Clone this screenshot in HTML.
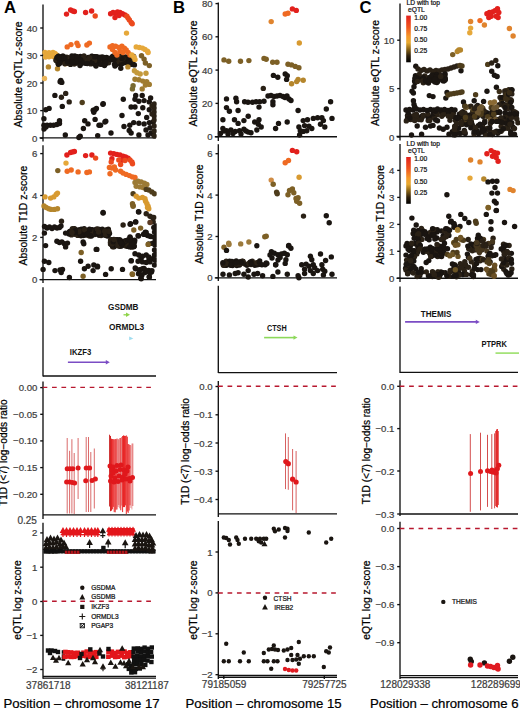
<!DOCTYPE html>
<html><head><meta charset="utf-8"><style>
html,body{margin:0;padding:0;background:#fff;}
svg{display:block;font-family:"Liberation Sans", sans-serif;}
</style></head><body>
<svg width="520" height="709" viewBox="0 0 520 709">
<rect width="520" height="709" fill="#fff"/>
<text x="4" y="12.7" font-size="16.7" fill="#000" text-anchor="start" font-weight="bold" >A</text>
<text x="172.9" y="12.7" font-size="16.7" fill="#000" text-anchor="start" font-weight="bold" >B</text>
<text x="359.6" y="12.7" font-size="16.7" fill="#000" text-anchor="start" font-weight="bold" >C</text>
<line x1="43" y1="4.5" x2="43" y2="141.5" stroke="#111" stroke-width="1.35" />
<line x1="40.2" y1="138.2" x2="43" y2="138.2" stroke="#111" stroke-width="1.35" />
<text x="37.4" y="141.7" font-size="9.6" fill="#3d3d3d" text-anchor="end" font-weight="normal" stroke="#3d3d3d" stroke-width="0.22" >0</text>
<line x1="40.2" y1="110.6" x2="43" y2="110.6" stroke="#111" stroke-width="1.35" />
<text x="37.4" y="114.1" font-size="9.6" fill="#3d3d3d" text-anchor="end" font-weight="normal" stroke="#3d3d3d" stroke-width="0.22" >10</text>
<line x1="40.2" y1="83.0" x2="43" y2="83.0" stroke="#111" stroke-width="1.35" />
<text x="37.4" y="86.5" font-size="9.6" fill="#3d3d3d" text-anchor="end" font-weight="normal" stroke="#3d3d3d" stroke-width="0.22" >20</text>
<line x1="40.2" y1="55.5" x2="43" y2="55.5" stroke="#111" stroke-width="1.35" />
<text x="37.4" y="59.0" font-size="9.6" fill="#3d3d3d" text-anchor="end" font-weight="normal" stroke="#3d3d3d" stroke-width="0.22" >30</text>
<line x1="40.2" y1="28.0" x2="43" y2="28.0" stroke="#111" stroke-width="1.35" />
<text x="37.4" y="31.5" font-size="9.6" fill="#3d3d3d" text-anchor="end" font-weight="normal" stroke="#3d3d3d" stroke-width="0.22" >40</text>
<line x1="39.5" y1="137.8" x2="156" y2="137.8" stroke="#111" stroke-width="1.35" />
<text x="21.5" y="74.5" font-size="10.4" fill="#000" text-anchor="middle" font-weight="normal" stroke="#000" stroke-width="0.22" transform="rotate(-90 21.5 74.5)" >Absolute eQTL z-score</text>
<line x1="43" y1="145.3" x2="43" y2="283" stroke="#111" stroke-width="1.35" />
<line x1="40.2" y1="279.6" x2="43" y2="279.6" stroke="#111" stroke-width="1.35" />
<text x="37.4" y="283.1" font-size="9.6" fill="#3d3d3d" text-anchor="end" font-weight="normal" stroke="#3d3d3d" stroke-width="0.22" >0</text>
<line x1="40.2" y1="237.4" x2="43" y2="237.4" stroke="#111" stroke-width="1.35" />
<text x="37.4" y="240.9" font-size="9.6" fill="#3d3d3d" text-anchor="end" font-weight="normal" stroke="#3d3d3d" stroke-width="0.22" >2</text>
<line x1="40.2" y1="195.5" x2="43" y2="195.5" stroke="#111" stroke-width="1.35" />
<text x="37.4" y="199.0" font-size="9.6" fill="#3d3d3d" text-anchor="end" font-weight="normal" stroke="#3d3d3d" stroke-width="0.22" >4</text>
<line x1="40.2" y1="153.6" x2="43" y2="153.6" stroke="#111" stroke-width="1.35" />
<text x="37.4" y="157.1" font-size="9.6" fill="#3d3d3d" text-anchor="end" font-weight="normal" stroke="#3d3d3d" stroke-width="0.22" >6</text>
<line x1="39.5" y1="279.6" x2="156" y2="279.6" stroke="#111" stroke-width="1.35" />
<text x="27.2" y="215.6" font-size="10.4" fill="#000" text-anchor="middle" font-weight="normal" stroke="#000" stroke-width="0.22" transform="rotate(-90 27.2 215.6)" >Absolute T1D z-score</text>
<line x1="43" y1="287.3" x2="43" y2="376.5" stroke="#111" stroke-width="1.35" />
<line x1="43" y1="376" x2="156" y2="376" stroke="#111" stroke-width="1.35" />
<line x1="43" y1="381.4" x2="43" y2="519" stroke="#111" stroke-width="1.35" />
<line x1="40.2" y1="387.6" x2="43" y2="387.6" stroke="#111" stroke-width="1.35" />
<text x="37.4" y="391.1" font-size="9.6" fill="#3d3d3d" text-anchor="end" font-weight="normal" stroke="#3d3d3d" stroke-width="0.22" >0.00</text>
<line x1="40.2" y1="414.3" x2="43" y2="414.3" stroke="#111" stroke-width="1.35" />
<text x="37.4" y="417.8" font-size="9.6" fill="#3d3d3d" text-anchor="end" font-weight="normal" stroke="#3d3d3d" stroke-width="0.22" >&#8722;0.05</text>
<line x1="40.2" y1="440.9" x2="43" y2="440.9" stroke="#111" stroke-width="1.35" />
<text x="37.4" y="444.4" font-size="9.6" fill="#3d3d3d" text-anchor="end" font-weight="normal" stroke="#3d3d3d" stroke-width="0.22" >&#8722;0.10</text>
<line x1="40.2" y1="467.6" x2="43" y2="467.6" stroke="#111" stroke-width="1.35" />
<text x="37.4" y="471.1" font-size="9.6" fill="#3d3d3d" text-anchor="end" font-weight="normal" stroke="#3d3d3d" stroke-width="0.22" >&#8722;0.15</text>
<line x1="40.2" y1="494.3" x2="43" y2="494.3" stroke="#111" stroke-width="1.35" />
<text x="37.4" y="497.8" font-size="9.6" fill="#3d3d3d" text-anchor="end" font-weight="normal" stroke="#3d3d3d" stroke-width="0.22" >&#8722;0.20</text>
<text x="36.9" y="523.9" font-size="10" fill="#3d3d3d" text-anchor="end" font-weight="normal" stroke="#3d3d3d" stroke-width="0.22" >0.25</text>
<line x1="43" y1="514.8" x2="156" y2="514.8" stroke="#111" stroke-width="1.35" />
<text x="6.9" y="452.7" font-size="10.1" fill="#000" text-anchor="middle" font-weight="normal" stroke="#000" stroke-width="0.22" transform="rotate(-90 6.9 452.7)" >T1D (&lt;7) log&#8722;odds ratio</text>
<line x1="43" y1="522.8" x2="43" y2="678.8" stroke="#111" stroke-width="1.35" />
<line x1="40.2" y1="532.9" x2="43" y2="532.9" stroke="#111" stroke-width="1.35" />
<text x="37.4" y="536.4" font-size="9.6" fill="#3d3d3d" text-anchor="end" font-weight="normal" stroke="#3d3d3d" stroke-width="0.22" >2</text>
<line x1="40.2" y1="567.2" x2="43" y2="567.2" stroke="#111" stroke-width="1.35" />
<text x="37.4" y="570.7" font-size="9.6" fill="#3d3d3d" text-anchor="end" font-weight="normal" stroke="#3d3d3d" stroke-width="0.22" >1</text>
<line x1="40.2" y1="601.5" x2="43" y2="601.5" stroke="#111" stroke-width="1.35" />
<text x="37.4" y="605.0" font-size="9.6" fill="#3d3d3d" text-anchor="end" font-weight="normal" stroke="#3d3d3d" stroke-width="0.22" >0</text>
<line x1="40.2" y1="635.4" x2="43" y2="635.4" stroke="#111" stroke-width="1.35" />
<text x="37.4" y="638.9" font-size="9.6" fill="#3d3d3d" text-anchor="end" font-weight="normal" stroke="#3d3d3d" stroke-width="0.22" >&#8722;1</text>
<line x1="40.2" y1="669.5" x2="43" y2="669.5" stroke="#111" stroke-width="1.35" />
<text x="37.4" y="673.0" font-size="9.6" fill="#3d3d3d" text-anchor="end" font-weight="normal" stroke="#3d3d3d" stroke-width="0.22" >&#8722;2</text>
<line x1="43" y1="676.4" x2="156" y2="676.4" stroke="#111" stroke-width="1.35" />
<line x1="43" y1="678.1" x2="156" y2="678.1" stroke="#111" stroke-width="1.35" />
<text x="21.3" y="600" font-size="10.4" fill="#000" text-anchor="middle" font-weight="normal" stroke="#000" stroke-width="0.22" transform="rotate(-90 21.3 600)" >eQTL log z-score</text>
<text x="48.3" y="689.2" font-size="10" fill="#3d3d3d" text-anchor="middle" font-weight="normal" stroke="#3d3d3d" stroke-width="0.22" >37861718</text>
<text x="146.9" y="689.2" font-size="10" fill="#3d3d3d" text-anchor="middle" font-weight="normal" stroke="#3d3d3d" stroke-width="0.22" >38121187</text>
<text x="81.5" y="708" font-size="13.2" fill="#000" text-anchor="middle" font-weight="normal" stroke="#000" stroke-width="0.22" >Position &#8211; chromosome 17</text>
<line x1="218.3" y1="2.5" x2="218.3" y2="141" stroke="#111" stroke-width="1.35" />
<line x1="215.5" y1="136.7" x2="218.3" y2="136.7" stroke="#111" stroke-width="1.35" />
<text x="212.70000000000002" y="140.2" font-size="9.6" fill="#3d3d3d" text-anchor="end" font-weight="normal" stroke="#3d3d3d" stroke-width="0.22" >0</text>
<line x1="215.5" y1="103.4" x2="218.3" y2="103.4" stroke="#111" stroke-width="1.35" />
<text x="212.70000000000002" y="106.9" font-size="9.6" fill="#3d3d3d" text-anchor="end" font-weight="normal" stroke="#3d3d3d" stroke-width="0.22" >20</text>
<line x1="215.5" y1="70.1" x2="218.3" y2="70.1" stroke="#111" stroke-width="1.35" />
<text x="212.70000000000002" y="73.6" font-size="9.6" fill="#3d3d3d" text-anchor="end" font-weight="normal" stroke="#3d3d3d" stroke-width="0.22" >40</text>
<line x1="215.5" y1="36.8" x2="218.3" y2="36.8" stroke="#111" stroke-width="1.35" />
<text x="212.70000000000002" y="40.3" font-size="9.6" fill="#3d3d3d" text-anchor="end" font-weight="normal" stroke="#3d3d3d" stroke-width="0.22" >60</text>
<line x1="215.5" y1="3.6" x2="218.3" y2="3.6" stroke="#111" stroke-width="1.35" />
<text x="212.70000000000002" y="7.1" font-size="9.6" fill="#3d3d3d" text-anchor="end" font-weight="normal" stroke="#3d3d3d" stroke-width="0.22" >80</text>
<line x1="214.8" y1="136.7" x2="337" y2="136.7" stroke="#111" stroke-width="1.35" />
<text x="197" y="73.5" font-size="10.4" fill="#000" text-anchor="middle" font-weight="normal" stroke="#000" stroke-width="0.22" transform="rotate(-90 197 73.5)" >Absolute eQTL z-score</text>
<line x1="218.3" y1="144.3" x2="218.3" y2="281" stroke="#111" stroke-width="1.35" />
<line x1="215.5" y1="277.8" x2="218.3" y2="277.8" stroke="#111" stroke-width="1.35" />
<text x="212.70000000000002" y="281.3" font-size="9.6" fill="#3d3d3d" text-anchor="end" font-weight="normal" stroke="#3d3d3d" stroke-width="0.22" >0</text>
<line x1="215.5" y1="236.5" x2="218.3" y2="236.5" stroke="#111" stroke-width="1.35" />
<text x="212.70000000000002" y="240.0" font-size="9.6" fill="#3d3d3d" text-anchor="end" font-weight="normal" stroke="#3d3d3d" stroke-width="0.22" >2</text>
<line x1="215.5" y1="195.1" x2="218.3" y2="195.1" stroke="#111" stroke-width="1.35" />
<text x="212.70000000000002" y="198.6" font-size="9.6" fill="#3d3d3d" text-anchor="end" font-weight="normal" stroke="#3d3d3d" stroke-width="0.22" >4</text>
<line x1="215.5" y1="153.7" x2="218.3" y2="153.7" stroke="#111" stroke-width="1.35" />
<text x="212.70000000000002" y="157.2" font-size="9.6" fill="#3d3d3d" text-anchor="end" font-weight="normal" stroke="#3d3d3d" stroke-width="0.22" >6</text>
<line x1="214.8" y1="277.8" x2="337" y2="277.8" stroke="#111" stroke-width="1.35" />
<text x="202.8" y="214.2" font-size="10.4" fill="#000" text-anchor="middle" font-weight="normal" stroke="#000" stroke-width="0.22" transform="rotate(-90 202.8 214.2)" >Absolute T1D z-score</text>
<line x1="218.3" y1="285.8" x2="218.3" y2="373" stroke="#111" stroke-width="1.35" />
<line x1="218.3" y1="372.6" x2="337" y2="372.6" stroke="#111" stroke-width="1.35" />
<line x1="218.3" y1="381" x2="218.3" y2="517" stroke="#111" stroke-width="1.35" />
<line x1="215.5" y1="386.5" x2="218.3" y2="386.5" stroke="#111" stroke-width="1.35" />
<text x="212.70000000000002" y="390.0" font-size="9.6" fill="#3d3d3d" text-anchor="end" font-weight="normal" stroke="#3d3d3d" stroke-width="0.22" >0.0</text>
<line x1="215.5" y1="414.8" x2="218.3" y2="414.8" stroke="#111" stroke-width="1.35" />
<text x="212.70000000000002" y="418.3" font-size="9.6" fill="#3d3d3d" text-anchor="end" font-weight="normal" stroke="#3d3d3d" stroke-width="0.22" >&#8722;0.1</text>
<line x1="215.5" y1="443.0" x2="218.3" y2="443.0" stroke="#111" stroke-width="1.35" />
<text x="212.70000000000002" y="446.5" font-size="9.6" fill="#3d3d3d" text-anchor="end" font-weight="normal" stroke="#3d3d3d" stroke-width="0.22" >&#8722;0.2</text>
<line x1="215.5" y1="471.2" x2="218.3" y2="471.2" stroke="#111" stroke-width="1.35" />
<text x="212.70000000000002" y="474.7" font-size="9.6" fill="#3d3d3d" text-anchor="end" font-weight="normal" stroke="#3d3d3d" stroke-width="0.22" >&#8722;0.3</text>
<line x1="215.5" y1="499.5" x2="218.3" y2="499.5" stroke="#111" stroke-width="1.35" />
<text x="212.70000000000002" y="503.0" font-size="9.6" fill="#3d3d3d" text-anchor="end" font-weight="normal" stroke="#3d3d3d" stroke-width="0.22" >&#8722;0.4</text>
<line x1="218.3" y1="513.8" x2="337" y2="513.8" stroke="#111" stroke-width="1.35" />
<text x="188.8" y="451.5" font-size="10.1" fill="#000" text-anchor="middle" font-weight="normal" stroke="#000" stroke-width="0.22" transform="rotate(-90 188.8 451.5)" >T1D (&lt;7) log&#8722;odds ratio</text>
<line x1="218.3" y1="521" x2="218.3" y2="679" stroke="#111" stroke-width="1.35" />
<line x1="215.5" y1="552.0" x2="218.3" y2="552.0" stroke="#111" stroke-width="1.35" />
<text x="212.70000000000002" y="555.5" font-size="9.6" fill="#3d3d3d" text-anchor="end" font-weight="normal" stroke="#3d3d3d" stroke-width="0.22" >1</text>
<line x1="215.5" y1="592.9" x2="218.3" y2="592.9" stroke="#111" stroke-width="1.35" />
<text x="212.70000000000002" y="596.4" font-size="9.6" fill="#3d3d3d" text-anchor="end" font-weight="normal" stroke="#3d3d3d" stroke-width="0.22" >0</text>
<line x1="215.5" y1="633.8" x2="218.3" y2="633.8" stroke="#111" stroke-width="1.35" />
<text x="212.70000000000002" y="637.3" font-size="9.6" fill="#3d3d3d" text-anchor="end" font-weight="normal" stroke="#3d3d3d" stroke-width="0.22" >&#8722;1</text>
<line x1="215.5" y1="674.7" x2="218.3" y2="674.7" stroke="#111" stroke-width="1.35" />
<text x="212.70000000000002" y="678.2" font-size="9.6" fill="#3d3d3d" text-anchor="end" font-weight="normal" stroke="#3d3d3d" stroke-width="0.22" >&#8722;2</text>
<line x1="218.3" y1="675.4" x2="337" y2="675.4" stroke="#111" stroke-width="1.35" />
<line x1="218.3" y1="677.2" x2="337" y2="677.2" stroke="#111" stroke-width="1.35" />
<line x1="223.8" y1="675.8" x2="223.8" y2="679" stroke="#111" stroke-width="1.35" />
<line x1="324.3" y1="675.8" x2="324.3" y2="679" stroke="#111" stroke-width="1.35" />
<text x="197" y="600" font-size="10.4" fill="#000" text-anchor="middle" font-weight="normal" stroke="#000" stroke-width="0.22" transform="rotate(-90 197 600)" >eQTL log z-score</text>
<text x="224.1" y="687.6" font-size="10" fill="#3d3d3d" text-anchor="middle" font-weight="normal" stroke="#3d3d3d" stroke-width="0.22" >79185059</text>
<text x="324.4" y="687.6" font-size="10" fill="#3d3d3d" text-anchor="middle" font-weight="normal" stroke="#3d3d3d" stroke-width="0.22" >79257725</text>
<text x="263.5" y="708" font-size="13.2" fill="#000" text-anchor="middle" font-weight="normal" stroke="#000" stroke-width="0.22" >Position &#8211; chromosome 15</text>
<line x1="400" y1="3.5" x2="400" y2="140.5" stroke="#111" stroke-width="1.35" />
<line x1="397.2" y1="137.0" x2="400" y2="137.0" stroke="#111" stroke-width="1.35" />
<text x="394.4" y="140.5" font-size="9.6" fill="#3d3d3d" text-anchor="end" font-weight="normal" stroke="#3d3d3d" stroke-width="0.22" >0</text>
<line x1="397.2" y1="88.6" x2="400" y2="88.6" stroke="#111" stroke-width="1.35" />
<text x="394.4" y="92.1" font-size="9.6" fill="#3d3d3d" text-anchor="end" font-weight="normal" stroke="#3d3d3d" stroke-width="0.22" >5</text>
<line x1="397.2" y1="40.2" x2="400" y2="40.2" stroke="#111" stroke-width="1.35" />
<text x="394.4" y="43.7" font-size="9.6" fill="#3d3d3d" text-anchor="end" font-weight="normal" stroke="#3d3d3d" stroke-width="0.22" >10</text>
<line x1="396.5" y1="136.5" x2="518" y2="136.5" stroke="#111" stroke-width="1.35" />
<text x="378.8" y="73" font-size="10.4" fill="#000" text-anchor="middle" font-weight="normal" stroke="#000" stroke-width="0.22" transform="rotate(-90 378.8 73)" >Absolute eQTL z-score</text>
<line x1="400" y1="144" x2="400" y2="282" stroke="#111" stroke-width="1.35" />
<line x1="397.2" y1="278.2" x2="400" y2="278.2" stroke="#111" stroke-width="1.35" />
<text x="394.4" y="281.7" font-size="9.6" fill="#3d3d3d" text-anchor="end" font-weight="normal" stroke="#3d3d3d" stroke-width="0.22" >0</text>
<line x1="397.2" y1="251.3" x2="400" y2="251.3" stroke="#111" stroke-width="1.35" />
<text x="394.4" y="254.8" font-size="9.6" fill="#3d3d3d" text-anchor="end" font-weight="normal" stroke="#3d3d3d" stroke-width="0.22" >1</text>
<line x1="397.2" y1="224.4" x2="400" y2="224.4" stroke="#111" stroke-width="1.35" />
<text x="394.4" y="227.9" font-size="9.6" fill="#3d3d3d" text-anchor="end" font-weight="normal" stroke="#3d3d3d" stroke-width="0.22" >2</text>
<line x1="397.2" y1="197.4" x2="400" y2="197.4" stroke="#111" stroke-width="1.35" />
<text x="394.4" y="200.9" font-size="9.6" fill="#3d3d3d" text-anchor="end" font-weight="normal" stroke="#3d3d3d" stroke-width="0.22" >3</text>
<line x1="397.2" y1="170.4" x2="400" y2="170.4" stroke="#111" stroke-width="1.35" />
<text x="394.4" y="173.9" font-size="9.6" fill="#3d3d3d" text-anchor="end" font-weight="normal" stroke="#3d3d3d" stroke-width="0.22" >4</text>
<line x1="396.5" y1="278.2" x2="518" y2="278.2" stroke="#111" stroke-width="1.35" />
<text x="384.1" y="214.7" font-size="10.4" fill="#000" text-anchor="middle" font-weight="normal" stroke="#000" stroke-width="0.22" transform="rotate(-90 384.1 214.7)" >Absolute T1D z-score</text>
<line x1="400" y1="286.5" x2="400" y2="373" stroke="#111" stroke-width="1.35" />
<line x1="400" y1="372.3" x2="518" y2="372.3" stroke="#111" stroke-width="1.35" />
<line x1="400" y1="380.2" x2="400" y2="516" stroke="#111" stroke-width="1.35" />
<line x1="397.2" y1="386.3" x2="400" y2="386.3" stroke="#111" stroke-width="1.35" />
<text x="394.4" y="389.8" font-size="9.6" fill="#3d3d3d" text-anchor="end" font-weight="normal" stroke="#3d3d3d" stroke-width="0.22" >0.0</text>
<line x1="397.2" y1="428.6" x2="400" y2="428.6" stroke="#111" stroke-width="1.35" />
<text x="394.4" y="432.1" font-size="9.6" fill="#3d3d3d" text-anchor="end" font-weight="normal" stroke="#3d3d3d" stroke-width="0.22" >&#8722;0.1</text>
<line x1="397.2" y1="471.0" x2="400" y2="471.0" stroke="#111" stroke-width="1.35" />
<text x="394.4" y="474.5" font-size="9.6" fill="#3d3d3d" text-anchor="end" font-weight="normal" stroke="#3d3d3d" stroke-width="0.22" >&#8722;0.2</text>
<line x1="397.2" y1="514.0" x2="400" y2="514.0" stroke="#111" stroke-width="1.35" />
<text x="394.4" y="517.5" font-size="9.6" fill="#3d3d3d" text-anchor="end" font-weight="normal" stroke="#3d3d3d" stroke-width="0.22" >&#8722;0.3</text>
<line x1="400" y1="514.0" x2="518" y2="514.0" stroke="#111" stroke-width="1.35" />
<text x="369.6" y="450.9" font-size="10.1" fill="#000" text-anchor="middle" font-weight="normal" stroke="#000" stroke-width="0.22" transform="rotate(-90 369.6 450.9)" >T1D (&lt;7) log&#8722;odds ratio</text>
<line x1="400" y1="521.8" x2="400" y2="679" stroke="#111" stroke-width="1.35" />
<line x1="397.2" y1="528.5" x2="400" y2="528.5" stroke="#111" stroke-width="1.35" />
<text x="394.4" y="532.0" font-size="9.6" fill="#3d3d3d" text-anchor="end" font-weight="normal" stroke="#3d3d3d" stroke-width="0.22" >0.0</text>
<line x1="397.2" y1="566.6" x2="400" y2="566.6" stroke="#111" stroke-width="1.35" />
<text x="394.4" y="570.1" font-size="9.6" fill="#3d3d3d" text-anchor="end" font-weight="normal" stroke="#3d3d3d" stroke-width="0.22" >&#8722;0.3</text>
<line x1="397.2" y1="604.6" x2="400" y2="604.6" stroke="#111" stroke-width="1.35" />
<text x="394.4" y="608.1" font-size="9.6" fill="#3d3d3d" text-anchor="end" font-weight="normal" stroke="#3d3d3d" stroke-width="0.22" >&#8722;0.6</text>
<line x1="397.2" y1="642.7" x2="400" y2="642.7" stroke="#111" stroke-width="1.35" />
<text x="394.4" y="646.2" font-size="9.6" fill="#3d3d3d" text-anchor="end" font-weight="normal" stroke="#3d3d3d" stroke-width="0.22" >&#8722;0.9</text>
<line x1="400" y1="675.6" x2="518" y2="675.6" stroke="#111" stroke-width="1.35" />
<line x1="400" y1="677.6" x2="518" y2="677.6" stroke="#111" stroke-width="1.35" />
<text x="369.6" y="600" font-size="10.4" fill="#000" text-anchor="middle" font-weight="normal" stroke="#000" stroke-width="0.22" transform="rotate(-90 369.6 600)" >eQTL log z-score</text>
<text x="405.3" y="688" font-size="10" fill="#3d3d3d" text-anchor="middle" font-weight="normal" stroke="#3d3d3d" stroke-width="0.22" >128029338</text>
<text x="495.9" y="688" font-size="10" fill="#3d3d3d" text-anchor="middle" font-weight="normal" stroke="#3d3d3d" stroke-width="0.22" >128289699</text>
<text x="444.3" y="708" font-size="13.2" fill="#000" text-anchor="middle" font-weight="normal" stroke="#000" stroke-width="0.22" >Position &#8211; chromosome 6</text>
<circle cx="45.0" cy="52.5" r="2.7" fill="#e6a83a"/>
<circle cx="47.0" cy="54.5" r="2.7" fill="#e6a83a"/>
<circle cx="49.0" cy="52.8" r="2.7" fill="#e6a83a"/>
<circle cx="51.0" cy="54.0" r="2.7" fill="#e6a83a"/>
<circle cx="53.0" cy="52.5" r="2.7" fill="#e6a83a"/>
<circle cx="55.0" cy="53.5" r="2.7" fill="#e6a83a"/>
<circle cx="56.5" cy="55.0" r="2.7" fill="#e6a83a"/>
<circle cx="45.5" cy="57.0" r="2.7" fill="#e6a83a"/>
<circle cx="49.0" cy="56.8" r="2.7" fill="#e6a83a"/>
<circle cx="53.0" cy="56.5" r="2.7" fill="#e6a83a"/>
<circle cx="47.0" cy="55.8" r="2.7" fill="#e6a83a"/>
<circle cx="48.4" cy="66.9" r="2.7" fill="#b5862c"/>
<circle cx="57.5" cy="68.8" r="2.7" fill="#b5862c"/>
<circle cx="44.5" cy="78.5" r="2.7" fill="#e9b45a"/>
<circle cx="65.6" cy="63.8" r="2.7" fill="#e9b45a"/>
<circle cx="66.5" cy="63.2" r="2.7" fill="#1a1511"/>
<circle cx="75.9" cy="60.2" r="2.7" fill="#2a2116"/>
<circle cx="92.8" cy="59.2" r="2.7" fill="#1a1511"/>
<circle cx="63.3" cy="56.2" r="2.7" fill="#2a2116"/>
<circle cx="89.8" cy="62.5" r="2.7" fill="#1a1511"/>
<circle cx="110.3" cy="58.3" r="2.7" fill="#1a1511"/>
<circle cx="102.1" cy="56.9" r="2.7" fill="#1a1511"/>
<circle cx="58.4" cy="56.2" r="2.7" fill="#1a1511"/>
<circle cx="129.3" cy="59.2" r="2.7" fill="#1a1511"/>
<circle cx="131.6" cy="62.2" r="2.7" fill="#1a1511"/>
<circle cx="115.6" cy="64.0" r="2.7" fill="#1a1511"/>
<circle cx="83.0" cy="61.8" r="2.7" fill="#2a2116"/>
<circle cx="130.3" cy="63.9" r="2.7" fill="#2a2116"/>
<circle cx="121.3" cy="60.7" r="2.7" fill="#1a1511"/>
<circle cx="70.5" cy="64.4" r="2.7" fill="#1a1511"/>
<circle cx="65.4" cy="58.8" r="2.7" fill="#2a2116"/>
<circle cx="95.6" cy="63.7" r="2.7" fill="#1a1511"/>
<circle cx="79.7" cy="61.0" r="2.7" fill="#2a2116"/>
<circle cx="122.0" cy="60.3" r="2.7" fill="#1a1511"/>
<circle cx="93.5" cy="62.3" r="2.7" fill="#2a2116"/>
<circle cx="88.3" cy="57.5" r="2.7" fill="#1a1511"/>
<circle cx="62.7" cy="61.6" r="2.7" fill="#1a1511"/>
<circle cx="116.7" cy="60.4" r="2.7" fill="#2a2116"/>
<circle cx="84.9" cy="62.2" r="2.7" fill="#2a2116"/>
<circle cx="59.4" cy="62.0" r="2.7" fill="#2a2116"/>
<circle cx="106.5" cy="57.4" r="2.7" fill="#1a1511"/>
<circle cx="132.6" cy="62.5" r="2.7" fill="#1a1511"/>
<circle cx="87.5" cy="58.9" r="2.7" fill="#1a1511"/>
<circle cx="91.8" cy="58.3" r="2.7" fill="#1a1511"/>
<circle cx="85.9" cy="63.3" r="2.7" fill="#1a1511"/>
<circle cx="96.5" cy="60.8" r="2.7" fill="#2a2116"/>
<circle cx="130.1" cy="60.1" r="2.7" fill="#1a1511"/>
<circle cx="100.5" cy="57.7" r="2.7" fill="#2a2116"/>
<circle cx="93.8" cy="59.0" r="2.7" fill="#1a1511"/>
<circle cx="56.1" cy="60.6" r="2.7" fill="#1a1511"/>
<circle cx="91.7" cy="56.2" r="2.7" fill="#1a1511"/>
<circle cx="105.6" cy="60.7" r="2.7" fill="#1a1511"/>
<circle cx="123.2" cy="62.8" r="2.7" fill="#1a1511"/>
<circle cx="58.5" cy="64.0" r="2.7" fill="#1a1511"/>
<circle cx="62.5" cy="56.1" r="2.7" fill="#1a1511"/>
<circle cx="114.8" cy="58.4" r="2.7" fill="#1a1511"/>
<circle cx="64.5" cy="61.3" r="2.7" fill="#1a1511"/>
<circle cx="78.6" cy="57.4" r="2.7" fill="#1a1511"/>
<circle cx="97.1" cy="57.4" r="2.7" fill="#1a1511"/>
<circle cx="106.6" cy="58.5" r="2.7" fill="#1a1511"/>
<circle cx="94.7" cy="57.0" r="2.7" fill="#1a1511"/>
<circle cx="86.2" cy="59.6" r="2.7" fill="#1a1511"/>
<circle cx="76.2" cy="58.2" r="2.7" fill="#1a1511"/>
<circle cx="131.3" cy="59.7" r="2.7" fill="#1a1511"/>
<circle cx="73.6" cy="59.4" r="2.7" fill="#1a1511"/>
<circle cx="112.1" cy="57.4" r="2.7" fill="#2a2116"/>
<circle cx="98.5" cy="57.9" r="2.7" fill="#2a2116"/>
<circle cx="73.4" cy="61.5" r="2.7" fill="#2a2116"/>
<circle cx="108.6" cy="62.8" r="2.7" fill="#2a2116"/>
<circle cx="60.6" cy="58.5" r="2.7" fill="#1a1511"/>
<circle cx="124.3" cy="58.6" r="2.7" fill="#1a1511"/>
<circle cx="80.2" cy="64.0" r="2.7" fill="#1a1511"/>
<circle cx="88.5" cy="58.1" r="2.7" fill="#1a1511"/>
<circle cx="99.7" cy="63.2" r="2.7" fill="#1a1511"/>
<circle cx="131.1" cy="60.8" r="2.7" fill="#1a1511"/>
<circle cx="120.6" cy="63.4" r="2.7" fill="#1a1511"/>
<circle cx="85.5" cy="58.9" r="2.7" fill="#1a1511"/>
<circle cx="100.7" cy="63.6" r="2.7" fill="#1a1511"/>
<circle cx="94.4" cy="64.0" r="2.7" fill="#2a2116"/>
<circle cx="79.1" cy="60.2" r="2.7" fill="#1a1511"/>
<circle cx="103.7" cy="59.4" r="2.7" fill="#1a1511"/>
<circle cx="57.4" cy="57.7" r="2.7" fill="#1a1511"/>
<circle cx="119.3" cy="60.8" r="2.7" fill="#1a1511"/>
<circle cx="82.4" cy="57.8" r="2.7" fill="#1a1511"/>
<circle cx="121.3" cy="63.9" r="2.7" fill="#1a1511"/>
<circle cx="127.3" cy="63.1" r="2.7" fill="#2a2116"/>
<circle cx="115.9" cy="60.5" r="2.7" fill="#1a1511"/>
<circle cx="112.6" cy="56.7" r="2.7" fill="#1a1511"/>
<circle cx="69.0" cy="60.6" r="2.7" fill="#1a1511"/>
<circle cx="115.2" cy="61.1" r="2.7" fill="#1a1511"/>
<circle cx="84.7" cy="58.9" r="2.7" fill="#1a1511"/>
<circle cx="74.3" cy="64.0" r="2.7" fill="#2a2116"/>
<circle cx="66.6" cy="60.7" r="2.7" fill="#1a1511"/>
<circle cx="81.0" cy="59.5" r="2.7" fill="#2a2116"/>
<circle cx="123.6" cy="62.7" r="2.7" fill="#1a1511"/>
<circle cx="82.6" cy="61.2" r="2.7" fill="#2a2116"/>
<circle cx="62.0" cy="60.7" r="2.7" fill="#1a1511"/>
<circle cx="130.3" cy="59.1" r="2.7" fill="#1a1511"/>
<circle cx="100.0" cy="63.9" r="2.7" fill="#2a2116"/>
<circle cx="125.9" cy="56.9" r="2.7" fill="#1a1511"/>
<circle cx="120.6" cy="56.1" r="2.7" fill="#1a1511"/>
<circle cx="63.2" cy="57.0" r="2.7" fill="#1a1511"/>
<circle cx="70.7" cy="62.7" r="2.7" fill="#2a2116"/>
<circle cx="68.6" cy="59.8" r="2.7" fill="#1a1511"/>
<circle cx="68.4" cy="63.2" r="2.7" fill="#2a2116"/>
<circle cx="127.0" cy="59.2" r="2.7" fill="#1a1511"/>
<circle cx="98.9" cy="62.0" r="2.7" fill="#1a1511"/>
<circle cx="63.8" cy="61.5" r="2.7" fill="#1a1511"/>
<circle cx="58.1" cy="62.7" r="2.7" fill="#1a1511"/>
<circle cx="112.7" cy="58.7" r="2.7" fill="#2a2116"/>
<circle cx="80.4" cy="56.5" r="2.7" fill="#1a1511"/>
<circle cx="131.6" cy="64.2" r="2.7" fill="#1a1511"/>
<circle cx="75.5" cy="62.7" r="2.7" fill="#2a2116"/>
<circle cx="107.6" cy="58.2" r="2.7" fill="#1a1511"/>
<circle cx="80.0" cy="58.1" r="2.7" fill="#1a1511"/>
<circle cx="120.0" cy="56.8" r="2.7" fill="#2a2116"/>
<circle cx="63.1" cy="60.9" r="2.7" fill="#1a1511"/>
<circle cx="129.4" cy="59.3" r="2.7" fill="#1a1511"/>
<circle cx="59.2" cy="57.6" r="2.7" fill="#1a1511"/>
<circle cx="75.2" cy="56.9" r="2.7" fill="#1a1511"/>
<circle cx="75.1" cy="56.2" r="2.7" fill="#1a1511"/>
<circle cx="87.3" cy="58.3" r="2.7" fill="#1a1511"/>
<circle cx="112.9" cy="56.2" r="2.7" fill="#1a1511"/>
<circle cx="78.7" cy="62.7" r="2.7" fill="#2a2116"/>
<circle cx="92.6" cy="63.3" r="2.7" fill="#1a1511"/>
<circle cx="95.1" cy="62.8" r="2.7" fill="#1a1511"/>
<circle cx="95.7" cy="61.7" r="2.7" fill="#1a1511"/>
<circle cx="116.5" cy="64.4" r="2.7" fill="#1a1511"/>
<circle cx="79.8" cy="62.0" r="2.7" fill="#1a1511"/>
<circle cx="65.9" cy="57.8" r="2.7" fill="#1a1511"/>
<circle cx="116.8" cy="63.0" r="2.7" fill="#1a1511"/>
<circle cx="69.9" cy="59.7" r="2.7" fill="#1a1511"/>
<circle cx="59.8" cy="63.3" r="2.7" fill="#1a1511"/>
<circle cx="75.7" cy="56.5" r="2.7" fill="#2a2116"/>
<circle cx="119.0" cy="60.7" r="2.7" fill="#2a2116"/>
<circle cx="122.4" cy="59.9" r="2.7" fill="#2a2116"/>
<circle cx="121.2" cy="57.5" r="2.7" fill="#2a2116"/>
<circle cx="57.9" cy="61.5" r="2.7" fill="#2a2116"/>
<circle cx="132.2" cy="56.2" r="2.7" fill="#1a1511"/>
<circle cx="101.2" cy="61.0" r="2.7" fill="#1a1511"/>
<circle cx="76.2" cy="63.0" r="2.7" fill="#2a2116"/>
<circle cx="100.0" cy="57.5" r="2.7" fill="#1a1511"/>
<circle cx="74.2" cy="56.1" r="2.7" fill="#1a1511"/>
<circle cx="95.1" cy="61.5" r="2.7" fill="#2a2116"/>
<circle cx="128.5" cy="61.4" r="2.7" fill="#1a1511"/>
<circle cx="74.6" cy="60.2" r="2.7" fill="#2a2116"/>
<circle cx="130.6" cy="62.1" r="2.7" fill="#1a1511"/>
<circle cx="99.7" cy="63.7" r="2.7" fill="#1a1511"/>
<circle cx="131.8" cy="57.9" r="2.7" fill="#1a1511"/>
<circle cx="115.5" cy="61.5" r="2.7" fill="#1a1511"/>
<circle cx="68.4" cy="62.5" r="2.7" fill="#1a1511"/>
<circle cx="80.3" cy="61.9" r="2.7" fill="#1a1511"/>
<circle cx="68.9" cy="62.0" r="2.7" fill="#2a2116"/>
<circle cx="102.4" cy="63.3" r="2.7" fill="#2a2116"/>
<circle cx="69.7" cy="58.1" r="2.7" fill="#1a1511"/>
<circle cx="129.5" cy="62.1" r="2.7" fill="#1a1511"/>
<circle cx="94.6" cy="59.3" r="2.7" fill="#1a1511"/>
<circle cx="86.0" cy="63.2" r="2.7" fill="#1a1511"/>
<circle cx="96.9" cy="56.8" r="2.7" fill="#1a1511"/>
<circle cx="105.0" cy="58.3" r="2.7" fill="#1a1511"/>
<circle cx="130.8" cy="57.2" r="2.7" fill="#1a1511"/>
<circle cx="90.7" cy="63.9" r="2.7" fill="#2a2116"/>
<circle cx="129.3" cy="63.7" r="2.7" fill="#2a2116"/>
<circle cx="68.9" cy="58.8" r="2.7" fill="#1a1511"/>
<circle cx="104.5" cy="60.1" r="2.7" fill="#1a1511"/>
<circle cx="65.3" cy="61.1" r="2.7" fill="#2a2116"/>
<circle cx="126.9" cy="61.6" r="2.7" fill="#1a1511"/>
<circle cx="75.4" cy="62.4" r="2.7" fill="#1a1511"/>
<circle cx="130.9" cy="60.5" r="2.7" fill="#1a1511"/>
<circle cx="58.4" cy="64.3" r="2.7" fill="#1a1511"/>
<circle cx="121.2" cy="57.8" r="2.7" fill="#1a1511"/>
<circle cx="67.6" cy="57.7" r="2.7" fill="#1a1511"/>
<circle cx="101.7" cy="58.1" r="2.7" fill="#2a2116"/>
<circle cx="117.7" cy="62.9" r="2.7" fill="#1a1511"/>
<circle cx="98.5" cy="60.2" r="2.7" fill="#1a1511"/>
<circle cx="116.0" cy="60.8" r="2.7" fill="#2a2116"/>
<circle cx="72.0" cy="62.9" r="2.7" fill="#1a1511"/>
<circle cx="65.2" cy="62.4" r="2.7" fill="#1a1511"/>
<circle cx="131.3" cy="62.5" r="2.7" fill="#1a1511"/>
<circle cx="61.9" cy="59.2" r="2.7" fill="#1a1511"/>
<circle cx="90.1" cy="61.8" r="2.7" fill="#1a1511"/>
<circle cx="56.1" cy="59.8" r="2.7" fill="#2a2116"/>
<circle cx="83.3" cy="60.6" r="2.7" fill="#1a1511"/>
<circle cx="117.1" cy="61.8" r="2.7" fill="#2a2116"/>
<circle cx="64.8" cy="63.8" r="2.7" fill="#2a2116"/>
<circle cx="71.9" cy="56.0" r="2.7" fill="#1a1511"/>
<circle cx="105.6" cy="62.1" r="2.7" fill="#1a1511"/>
<circle cx="133.0" cy="59.9" r="2.7" fill="#2a2116"/>
<circle cx="129.1" cy="62.1" r="2.7" fill="#1a1511"/>
<circle cx="110.8" cy="59.8" r="2.7" fill="#1a1511"/>
<circle cx="84.0" cy="56.0" r="2.7" fill="#2a2116"/>
<circle cx="101.2" cy="64.2" r="2.7" fill="#1a1511"/>
<circle cx="123.2" cy="61.0" r="2.7" fill="#1a1511"/>
<circle cx="94.4" cy="62.3" r="2.7" fill="#1a1511"/>
<circle cx="105.1" cy="59.5" r="2.7" fill="#1a1511"/>
<circle cx="105.4" cy="64.0" r="2.7" fill="#1a1511"/>
<circle cx="122.0" cy="62.5" r="2.7" fill="#1a1511"/>
<circle cx="83.3" cy="58.2" r="2.7" fill="#2a2116"/>
<circle cx="124.2" cy="60.6" r="2.7" fill="#1a1511"/>
<circle cx="92.0" cy="58.2" r="2.7" fill="#1a1511"/>
<circle cx="92.4" cy="56.4" r="2.7" fill="#1a1511"/>
<circle cx="114.1" cy="59.6" r="2.7" fill="#1a1511"/>
<circle cx="61.2" cy="59.8" r="2.7" fill="#1a1511"/>
<circle cx="95.6" cy="64.0" r="2.7" fill="#1a1511"/>
<circle cx="87.4" cy="61.9" r="2.7" fill="#1a1511"/>
<circle cx="72.3" cy="57.8" r="2.7" fill="#1a1511"/>
<circle cx="77.0" cy="56.6" r="2.7" fill="#1a1511"/>
<circle cx="92.5" cy="60.7" r="2.7" fill="#1a1511"/>
<circle cx="69.1" cy="61.6" r="2.7" fill="#1a1511"/>
<circle cx="83.8" cy="62.3" r="2.7" fill="#2a2116"/>
<circle cx="99.8" cy="57.5" r="2.7" fill="#1a1511"/>
<circle cx="123.6" cy="58.8" r="2.7" fill="#1a1511"/>
<circle cx="76.2" cy="61.2" r="2.7" fill="#1a1511"/>
<circle cx="121.8" cy="56.3" r="2.7" fill="#2a2116"/>
<circle cx="80.7" cy="59.7" r="2.7" fill="#1a1511"/>
<circle cx="117.3" cy="57.6" r="2.7" fill="#1a1511"/>
<circle cx="123.9" cy="60.9" r="2.7" fill="#1a1511"/>
<circle cx="103.3" cy="58.2" r="2.7" fill="#1a1511"/>
<circle cx="66.8" cy="57.2" r="2.7" fill="#2a2116"/>
<circle cx="84.2" cy="62.4" r="2.7" fill="#1a1511"/>
<circle cx="65.0" cy="57.8" r="2.7" fill="#1a1511"/>
<circle cx="61.3" cy="57.9" r="2.7" fill="#1a1511"/>
<circle cx="94.4" cy="56.8" r="2.7" fill="#1a1511"/>
<circle cx="59.5" cy="62.9" r="2.7" fill="#1a1511"/>
<circle cx="125.3" cy="57.8" r="2.7" fill="#1a1511"/>
<circle cx="94.6" cy="60.5" r="2.7" fill="#2a2116"/>
<circle cx="82.7" cy="63.1" r="2.7" fill="#1a1511"/>
<circle cx="103.8" cy="57.5" r="2.7" fill="#1a1511"/>
<circle cx="87.2" cy="60.2" r="2.7" fill="#2a2116"/>
<circle cx="114.5" cy="64.3" r="2.7" fill="#1a1511"/>
<circle cx="120.0" cy="59.9" r="2.7" fill="#2a2116"/>
<circle cx="72.5" cy="62.1" r="2.7" fill="#1a1511"/>
<circle cx="94.7" cy="56.9" r="2.7" fill="#1a1511"/>
<circle cx="133.6" cy="56.4" r="2.7" fill="#1a1511"/>
<circle cx="122.9" cy="58.7" r="2.7" fill="#2a2116"/>
<circle cx="122.1" cy="58.4" r="2.7" fill="#1a1511"/>
<circle cx="87.2" cy="63.5" r="2.7" fill="#1a1511"/>
<circle cx="117.9" cy="56.3" r="2.7" fill="#2a2116"/>
<circle cx="67.3" cy="61.7" r="2.7" fill="#1a1511"/>
<circle cx="100.1" cy="58.2" r="2.7" fill="#1a1511"/>
<circle cx="92.1" cy="63.1" r="2.7" fill="#1a1511"/>
<circle cx="58.8" cy="56.5" r="2.7" fill="#1a1511"/>
<circle cx="59.3" cy="58.3" r="2.7" fill="#1a1511"/>
<circle cx="89.7" cy="57.6" r="2.7" fill="#2a2116"/>
<circle cx="105.7" cy="62.3" r="2.7" fill="#1a1511"/>
<circle cx="57.0" cy="57.5" r="2.7" fill="#1a1511"/>
<circle cx="59.0" cy="58.5" r="2.7" fill="#1a1511"/>
<circle cx="104.5" cy="65.6" r="2.7" fill="#1a1511"/>
<circle cx="120.8" cy="68.2" r="2.7" fill="#1a1511"/>
<circle cx="134.4" cy="64.9" r="2.7" fill="#1a1511"/>
<circle cx="115.0" cy="66.0" r="2.7" fill="#1a1511"/>
<circle cx="96.0" cy="66.0" r="2.7" fill="#1a1511"/>
<circle cx="80.0" cy="65.5" r="2.7" fill="#1a1511"/>
<circle cx="66.5" cy="14.1" r="2.7" fill="#e2201c"/>
<circle cx="70.6" cy="10.0" r="2.7" fill="#e2201c"/>
<circle cx="72.8" cy="11.0" r="2.7" fill="#e2201c"/>
<circle cx="74.4" cy="11.5" r="2.7" fill="#e2201c"/>
<circle cx="85.6" cy="12.5" r="2.7" fill="#e2201c"/>
<circle cx="91.6" cy="11.0" r="2.7" fill="#e2201c"/>
<circle cx="95.2" cy="16.0" r="2.7" fill="#ec4a1e"/>
<circle cx="110.6" cy="13.8" r="2.7" fill="#e2201c"/>
<circle cx="113.1" cy="12.5" r="2.7" fill="#e2201c"/>
<circle cx="115.6" cy="13.1" r="2.7" fill="#e2201c"/>
<circle cx="117.5" cy="11.9" r="2.7" fill="#e2201c"/>
<circle cx="120.0" cy="12.5" r="2.7" fill="#e2201c"/>
<circle cx="122.5" cy="13.8" r="2.7" fill="#e2201c"/>
<circle cx="125.0" cy="15.0" r="2.7" fill="#e2201c"/>
<circle cx="115.0" cy="17.5" r="2.7" fill="#e2201c"/>
<circle cx="119.0" cy="15.5" r="2.7" fill="#e2201c"/>
<circle cx="126.9" cy="16.2" r="2.7" fill="#ec4a1e"/>
<circle cx="128.1" cy="18.1" r="2.7" fill="#ec4a1e"/>
<circle cx="129.4" cy="20.0" r="2.7" fill="#ec4a1e"/>
<circle cx="131.2" cy="22.5" r="2.7" fill="#ec4a1e"/>
<circle cx="132.2" cy="23.8" r="2.7" fill="#ec4a1e"/>
<circle cx="126.5" cy="33.1" r="2.7" fill="#e6a83a"/>
<circle cx="67.2" cy="46.9" r="2.7" fill="#ef6a22"/>
<circle cx="71.0" cy="44.6" r="2.7" fill="#ef6a22"/>
<circle cx="76.9" cy="43.1" r="2.7" fill="#ef6a22"/>
<circle cx="78.1" cy="45.6" r="2.7" fill="#ef6a22"/>
<circle cx="86.9" cy="45.0" r="2.7" fill="#ef6a22"/>
<circle cx="89.4" cy="43.1" r="2.7" fill="#ef6a22"/>
<circle cx="110.0" cy="46.9" r="2.7" fill="#ef6a22"/>
<circle cx="112.5" cy="45.6" r="2.7" fill="#ef6a22"/>
<circle cx="115.6" cy="46.2" r="2.7" fill="#ef6a22"/>
<circle cx="118.8" cy="47.5" r="2.7" fill="#ef6a22"/>
<circle cx="121.9" cy="46.2" r="2.7" fill="#ef6a22"/>
<circle cx="124.4" cy="48.1" r="2.7" fill="#ef6a22"/>
<circle cx="126.2" cy="50.0" r="2.7" fill="#ef6a22"/>
<circle cx="128.1" cy="52.5" r="2.7" fill="#ef6a22"/>
<circle cx="130.0" cy="55.0" r="2.7" fill="#ef6a22"/>
<circle cx="112.5" cy="49.4" r="2.7" fill="#ef6a22"/>
<circle cx="115.0" cy="52.5" r="2.7" fill="#ef6a22"/>
<circle cx="116.9" cy="55.0" r="2.7" fill="#ef6a22"/>
<circle cx="120.0" cy="51.2" r="2.7" fill="#ef6a22"/>
<circle cx="123.1" cy="52.5" r="2.7" fill="#ef6a22"/>
<circle cx="136.2" cy="46.9" r="2.7" fill="#e6a83a"/>
<circle cx="139.4" cy="47.5" r="2.7" fill="#e6a83a"/>
<circle cx="142.5" cy="48.1" r="2.7" fill="#e6a83a"/>
<circle cx="145.0" cy="49.4" r="2.7" fill="#e6a83a"/>
<circle cx="147.5" cy="51.2" r="2.7" fill="#e6a83a"/>
<circle cx="148.1" cy="52.5" r="2.7" fill="#e6a83a"/>
<circle cx="131.9" cy="55.0" r="2.7" fill="#e6a83a"/>
<circle cx="133.8" cy="56.9" r="2.7" fill="#e6a83a"/>
<circle cx="135.0" cy="59.4" r="2.7" fill="#e6a83a"/>
<circle cx="141.5" cy="55.8" r="2.7" fill="#7d6026"/>
<circle cx="144.1" cy="59.1" r="2.7" fill="#7d6026"/>
<circle cx="145.4" cy="63.0" r="2.7" fill="#7d6026"/>
<circle cx="149.3" cy="65.6" r="2.7" fill="#7d6026"/>
<circle cx="134.4" cy="70.8" r="2.7" fill="#c49a3c"/>
<circle cx="137.0" cy="72.7" r="2.7" fill="#c49a3c"/>
<circle cx="140.2" cy="74.0" r="2.7" fill="#c49a3c"/>
<circle cx="146.0" cy="73.3" r="2.7" fill="#c49a3c"/>
<circle cx="135.0" cy="79.2" r="2.7" fill="#a07c30"/>
<circle cx="138.9" cy="79.8" r="2.7" fill="#a07c30"/>
<circle cx="142.8" cy="81.1" r="2.7" fill="#a07c30"/>
<circle cx="146.7" cy="81.8" r="2.7" fill="#a07c30"/>
<circle cx="149.3" cy="84.4" r="2.7" fill="#a07c30"/>
<circle cx="145.4" cy="85.0" r="2.7" fill="#a07c30"/>
<circle cx="142.2" cy="88.9" r="2.7" fill="#a07c30"/>
<circle cx="133.1" cy="85.7" r="2.7" fill="#7a6a30"/>
<circle cx="132.4" cy="88.9" r="2.7" fill="#7a6a30"/>
<circle cx="127.9" cy="66.9" r="2.7" fill="#b5862c"/>
<circle cx="60.8" cy="80.5" r="2.7" fill="#1a1511"/>
<circle cx="61.8" cy="82.4" r="2.7" fill="#1a1511"/>
<circle cx="60.1" cy="81.8" r="2.7" fill="#1a1511"/>
<circle cx="54.9" cy="95.4" r="2.7" fill="#1a1511"/>
<circle cx="62.3" cy="106.4" r="2.7" fill="#1a1511"/>
<circle cx="102.9" cy="104.2" r="2.7" fill="#1a1511"/>
<circle cx="45.8" cy="109.7" r="2.7" fill="#1a1511"/>
<circle cx="49.1" cy="108.4" r="2.7" fill="#1a1511"/>
<circle cx="93.2" cy="110.3" r="2.7" fill="#1a1511"/>
<circle cx="95.1" cy="109.7" r="2.7" fill="#1a1511"/>
<circle cx="96.4" cy="108.4" r="2.7" fill="#1a1511"/>
<circle cx="93.8" cy="112.3" r="2.7" fill="#1a1511"/>
<circle cx="43.9" cy="118.7" r="2.7" fill="#1a1511"/>
<circle cx="43.9" cy="125.2" r="2.7" fill="#1a1511"/>
<circle cx="47.1" cy="125.2" r="2.7" fill="#1a1511"/>
<circle cx="50.4" cy="125.2" r="2.7" fill="#1a1511"/>
<circle cx="53.6" cy="125.2" r="2.7" fill="#1a1511"/>
<circle cx="56.9" cy="124.5" r="2.7" fill="#1a1511"/>
<circle cx="59.5" cy="123.5" r="2.7" fill="#1a1511"/>
<circle cx="59.5" cy="120.7" r="2.7" fill="#1a1511"/>
<circle cx="84.7" cy="120.7" r="2.7" fill="#1a1511"/>
<circle cx="88.0" cy="123.9" r="2.7" fill="#1a1511"/>
<circle cx="83.4" cy="128.5" r="2.7" fill="#1a1511"/>
<circle cx="95.1" cy="119.4" r="2.7" fill="#1a1511"/>
<circle cx="99.0" cy="125.2" r="2.7" fill="#1a1511"/>
<circle cx="104.9" cy="122.0" r="2.7" fill="#1a1511"/>
<circle cx="65.3" cy="135.0" r="2.7" fill="#1a1511"/>
<circle cx="80.2" cy="136.3" r="2.7" fill="#1a1511"/>
<circle cx="78.9" cy="137.5" r="2.7" fill="#1a1511"/>
<circle cx="97.7" cy="135.6" r="2.7" fill="#1a1511"/>
<circle cx="44.0" cy="129.0" r="2.7" fill="#1a1511"/>
<circle cx="46.0" cy="127.0" r="2.7" fill="#1a1511"/>
<circle cx="123.3" cy="99.3" r="2.7" fill="#1a1511"/>
<circle cx="103.2" cy="103.8" r="2.7" fill="#1a1511"/>
<circle cx="105.8" cy="121.3" r="2.7" fill="#1a1511"/>
<circle cx="122.0" cy="115.5" r="2.7" fill="#1a1511"/>
<circle cx="100.6" cy="125.2" r="2.7" fill="#1a1511"/>
<circle cx="124.0" cy="126.5" r="2.7" fill="#1a1511"/>
<circle cx="111.0" cy="133.0" r="2.7" fill="#1a1511"/>
<circle cx="61.4" cy="97.3" r="2.7" fill="#2a2116"/>
<circle cx="65.7" cy="93.4" r="2.7" fill="#2a2116"/>
<circle cx="69.2" cy="101.9" r="2.7" fill="#2a2116"/>
<circle cx="82.2" cy="102.5" r="2.7" fill="#4e3d1c"/>
<circle cx="135.7" cy="95.4" r="2.7" fill="#1a1511"/>
<circle cx="142.2" cy="95.4" r="2.7" fill="#1a1511"/>
<circle cx="150.6" cy="98.0" r="2.7" fill="#1a1511"/>
<circle cx="135.0" cy="99.3" r="2.7" fill="#1a1511"/>
<circle cx="138.9" cy="101.2" r="2.7" fill="#1a1511"/>
<circle cx="144.1" cy="100.6" r="2.7" fill="#1a1511"/>
<circle cx="149.3" cy="101.9" r="2.7" fill="#1a1511"/>
<circle cx="131.1" cy="107.0" r="2.7" fill="#1a1511"/>
<circle cx="135.0" cy="107.0" r="2.7" fill="#1a1511"/>
<circle cx="142.8" cy="107.7" r="2.7" fill="#1a1511"/>
<circle cx="149.3" cy="109.7" r="2.7" fill="#1a1511"/>
<circle cx="138.3" cy="113.6" r="2.7" fill="#1a1511"/>
<circle cx="146.7" cy="117.4" r="2.7" fill="#1a1511"/>
<circle cx="133.7" cy="122.6" r="2.7" fill="#1a1511"/>
<circle cx="138.9" cy="123.2" r="2.7" fill="#1a1511"/>
<circle cx="144.1" cy="123.9" r="2.7" fill="#1a1511"/>
<circle cx="149.3" cy="122.6" r="2.7" fill="#1a1511"/>
<circle cx="153.2" cy="122.0" r="2.7" fill="#1a1511"/>
<circle cx="129.8" cy="125.2" r="2.7" fill="#1a1511"/>
<circle cx="129.2" cy="130.4" r="2.7" fill="#1a1511"/>
<circle cx="131.1" cy="133.0" r="2.7" fill="#1a1511"/>
<circle cx="138.9" cy="135.0" r="2.7" fill="#1a1511"/>
<circle cx="150.0" cy="127.8" r="2.7" fill="#1a1511"/>
<circle cx="151.2" cy="133.0" r="2.7" fill="#1a1511"/>
<circle cx="153.2" cy="134.3" r="2.7" fill="#1a1511"/>
<circle cx="146.0" cy="130.0" r="2.7" fill="#1a1511"/>
<circle cx="148.0" cy="135.0" r="2.7" fill="#1a1511"/>
<circle cx="154.3" cy="104.0" r="2.7" fill="#2a2116"/>
<circle cx="154.3" cy="108.0" r="2.7" fill="#2a2116"/>
<circle cx="154.3" cy="112.0" r="2.7" fill="#2a2116"/>
<circle cx="154.3" cy="116.0" r="2.7" fill="#2a2116"/>
<circle cx="154.3" cy="120.0" r="2.7" fill="#2a2116"/>
<circle cx="154.3" cy="126.0" r="2.7" fill="#2a2116"/>
<circle cx="154.3" cy="131.0" r="2.7" fill="#2a2116"/>
<circle cx="154.3" cy="136.0" r="2.7" fill="#2a2116"/>
<circle cx="152.0" cy="106.0" r="2.7" fill="#2a2116"/>
<circle cx="152.0" cy="114.0" r="2.7" fill="#2a2116"/>
<circle cx="66.9" cy="155.0" r="2.7" fill="#e2201c"/>
<circle cx="70.6" cy="152.5" r="2.7" fill="#e2201c"/>
<circle cx="72.5" cy="151.9" r="2.7" fill="#e2201c"/>
<circle cx="74.4" cy="151.5" r="2.7" fill="#e2201c"/>
<circle cx="85.6" cy="155.6" r="2.7" fill="#e2201c"/>
<circle cx="91.9" cy="155.0" r="2.7" fill="#e2201c"/>
<circle cx="95.6" cy="158.1" r="2.7" fill="#ec4a1e"/>
<circle cx="66.0" cy="163.1" r="2.7" fill="#e6a83a"/>
<circle cx="57.8" cy="170.6" r="2.7" fill="#7d6026"/>
<circle cx="67.2" cy="171.2" r="2.7" fill="#ef6a22"/>
<circle cx="71.2" cy="170.0" r="2.7" fill="#ef6a22"/>
<circle cx="78.1" cy="171.9" r="2.7" fill="#ef6a22"/>
<circle cx="86.9" cy="172.5" r="2.7" fill="#ef6a22"/>
<circle cx="89.4" cy="171.9" r="2.7" fill="#ef6a22"/>
<circle cx="45.0" cy="196.9" r="2.7" fill="#d89a30"/>
<circle cx="50.6" cy="198.1" r="2.7" fill="#d89a30"/>
<circle cx="53.8" cy="196.9" r="2.7" fill="#d89a30"/>
<circle cx="56.2" cy="194.4" r="2.7" fill="#d89a30"/>
<circle cx="57.5" cy="193.1" r="2.7" fill="#d89a30"/>
<circle cx="44.0" cy="206.0" r="2.7" fill="#b5862c"/>
<circle cx="46.2" cy="207.5" r="2.7" fill="#b5862c"/>
<circle cx="48.8" cy="208.8" r="2.7" fill="#b5862c"/>
<circle cx="51.2" cy="209.4" r="2.7" fill="#b5862c"/>
<circle cx="54.4" cy="209.4" r="2.7" fill="#b5862c"/>
<circle cx="57.5" cy="208.8" r="2.7" fill="#b5862c"/>
<circle cx="110.6" cy="153.1" r="2.7" fill="#e2201c"/>
<circle cx="113.8" cy="153.8" r="2.7" fill="#e2201c"/>
<circle cx="116.9" cy="154.4" r="2.7" fill="#e2201c"/>
<circle cx="120.0" cy="155.0" r="2.7" fill="#e2201c"/>
<circle cx="123.1" cy="156.2" r="2.7" fill="#e2201c"/>
<circle cx="125.6" cy="156.9" r="2.7" fill="#e2201c"/>
<circle cx="128.1" cy="158.1" r="2.7" fill="#e2201c"/>
<circle cx="111.9" cy="158.8" r="2.7" fill="#e2201c"/>
<circle cx="121.2" cy="160.6" r="2.7" fill="#e2201c"/>
<circle cx="111.2" cy="162.0" r="2.7" fill="#ec4a1e"/>
<circle cx="118.8" cy="160.0" r="2.7" fill="#ec4a1e"/>
<circle cx="120.6" cy="164.5" r="2.7" fill="#ec4a1e"/>
<circle cx="125.0" cy="160.5" r="2.7" fill="#ec4a1e"/>
<circle cx="130.0" cy="160.0" r="2.7" fill="#ec4a1e"/>
<circle cx="131.9" cy="161.9" r="2.7" fill="#ec4a1e"/>
<circle cx="132.5" cy="163.8" r="2.7" fill="#ec4a1e"/>
<circle cx="109.4" cy="167.5" r="2.7" fill="#ef6a22"/>
<circle cx="111.9" cy="168.1" r="2.7" fill="#ef6a22"/>
<circle cx="114.4" cy="166.9" r="2.7" fill="#ef6a22"/>
<circle cx="115.6" cy="170.0" r="2.7" fill="#ef6a22"/>
<circle cx="110.0" cy="173.8" r="2.7" fill="#ef6a22"/>
<circle cx="120.6" cy="171.2" r="2.7" fill="#ef6a22"/>
<circle cx="123.1" cy="173.1" r="2.7" fill="#ef6a22"/>
<circle cx="126.2" cy="174.4" r="2.7" fill="#ef6a22"/>
<circle cx="129.4" cy="175.6" r="2.7" fill="#ef6a22"/>
<circle cx="132.5" cy="176.9" r="2.7" fill="#ef6a22"/>
<circle cx="135.0" cy="177.5" r="2.7" fill="#ef6a22"/>
<circle cx="135.0" cy="182.5" r="2.7" fill="#9c7a34"/>
<circle cx="138.1" cy="181.2" r="2.7" fill="#9c7a34"/>
<circle cx="141.2" cy="181.9" r="2.7" fill="#9c7a34"/>
<circle cx="144.4" cy="183.1" r="2.7" fill="#9c7a34"/>
<circle cx="146.9" cy="184.4" r="2.7" fill="#9c7a34"/>
<circle cx="136.2" cy="186.2" r="2.7" fill="#9c7a34"/>
<circle cx="140.0" cy="186.9" r="2.7" fill="#9c7a34"/>
<circle cx="143.1" cy="187.5" r="2.7" fill="#9c7a34"/>
<circle cx="146.2" cy="189.4" r="2.7" fill="#4e3d1c"/>
<circle cx="148.8" cy="190.0" r="2.7" fill="#4e3d1c"/>
<circle cx="151.9" cy="191.9" r="2.7" fill="#4e3d1c"/>
<circle cx="154.4" cy="193.8" r="2.7" fill="#4e3d1c"/>
<circle cx="133.1" cy="193.8" r="2.7" fill="#4e3d1c"/>
<circle cx="136.2" cy="196.2" r="2.7" fill="#d89a30"/>
<circle cx="138.8" cy="198.1" r="2.7" fill="#d89a30"/>
<circle cx="142.5" cy="197.5" r="2.7" fill="#d89a30"/>
<circle cx="145.0" cy="198.8" r="2.7" fill="#d89a30"/>
<circle cx="145.6" cy="201.2" r="2.7" fill="#d89a30"/>
<circle cx="146.9" cy="203.8" r="2.7" fill="#d89a30"/>
<circle cx="148.1" cy="206.2" r="2.7" fill="#d89a30"/>
<circle cx="148.8" cy="208.8" r="2.7" fill="#d89a30"/>
<circle cx="147.5" cy="207.5" r="2.7" fill="#d89a30"/>
<circle cx="132.5" cy="203.8" r="2.7" fill="#7d6026"/>
<circle cx="133.1" cy="205.6" r="2.7" fill="#7d6026"/>
<circle cx="103.1" cy="212.5" r="2.7" fill="#1a1511"/>
<circle cx="138.8" cy="211.9" r="2.7" fill="#1a1511"/>
<circle cx="103.1" cy="213.1" r="2.7" fill="#1a1511"/>
<circle cx="146.2" cy="213.8" r="2.7" fill="#2a2116"/>
<circle cx="150.0" cy="216.2" r="2.7" fill="#2a2116"/>
<circle cx="152.5" cy="217.5" r="2.7" fill="#2a2116"/>
<circle cx="153.8" cy="217.4" r="2.7" fill="#2a2116"/>
<circle cx="153.2" cy="221.9" r="2.7" fill="#2a2116"/>
<circle cx="138.5" cy="211.8" r="2.7" fill="#1a1511"/>
<circle cx="130.1" cy="224.2" r="2.7" fill="#1a1511"/>
<circle cx="135.7" cy="221.9" r="2.7" fill="#1a1511"/>
<circle cx="145.3" cy="232.1" r="2.7" fill="#1a1511"/>
<circle cx="143.6" cy="234.3" r="2.7" fill="#1a1511"/>
<circle cx="147.6" cy="235.5" r="2.7" fill="#1a1511"/>
<circle cx="151.0" cy="236.6" r="2.7" fill="#1a1511"/>
<circle cx="138.5" cy="236.0" r="2.7" fill="#1a1511"/>
<circle cx="130.1" cy="237.7" r="2.7" fill="#1a1511"/>
<circle cx="156.0" cy="226.0" r="2.7" fill="#1a1511"/>
<circle cx="156.0" cy="230.0" r="2.7" fill="#1a1511"/>
<circle cx="156.0" cy="234.0" r="2.7" fill="#1a1511"/>
<circle cx="156.0" cy="238.0" r="2.7" fill="#1a1511"/>
<circle cx="156.0" cy="242.0" r="2.7" fill="#1a1511"/>
<circle cx="155.0" cy="245.0" r="2.7" fill="#1a1511"/>
<circle cx="156.0" cy="254.0" r="2.7" fill="#1a1511"/>
<circle cx="156.0" cy="260.0" r="2.7" fill="#1a1511"/>
<circle cx="141.0" cy="258.5" r="2.7" fill="#1a1511"/>
<circle cx="149.0" cy="260.0" r="2.7" fill="#1a1511"/>
<circle cx="131.2" cy="260.9" r="2.7" fill="#1a1511"/>
<circle cx="135.2" cy="268.0" r="2.7" fill="#1a1511"/>
<circle cx="139.4" cy="269.8" r="2.7" fill="#1a1511"/>
<circle cx="144.0" cy="268.5" r="2.7" fill="#1a1511"/>
<circle cx="148.7" cy="270.4" r="2.7" fill="#1a1511"/>
<circle cx="151.5" cy="272.0" r="2.7" fill="#1a1511"/>
<circle cx="138.5" cy="273.8" r="2.7" fill="#1a1511"/>
<circle cx="142.0" cy="275.0" r="2.7" fill="#1a1511"/>
<circle cx="140.8" cy="278.3" r="2.7" fill="#1a1511"/>
<circle cx="149.2" cy="276.7" r="2.7" fill="#1a1511"/>
<circle cx="145.0" cy="272.5" r="2.7" fill="#1a1511"/>
<circle cx="148.7" cy="244.0" r="2.7" fill="#2a2116"/>
<circle cx="152.1" cy="243.4" r="2.7" fill="#2a2116"/>
<circle cx="132.2" cy="273.9" r="2.7" fill="#7d6026"/>
<circle cx="150.0" cy="222.5" r="2.7" fill="#5a3a24"/>
<circle cx="44.5" cy="226.5" r="2.7" fill="#1a1511"/>
<circle cx="47.0" cy="228.0" r="2.7" fill="#1a1511"/>
<circle cx="49.5" cy="227.0" r="2.7" fill="#1a1511"/>
<circle cx="52.0" cy="228.5" r="2.7" fill="#1a1511"/>
<circle cx="54.5" cy="227.0" r="2.7" fill="#1a1511"/>
<circle cx="57.0" cy="228.0" r="2.7" fill="#1a1511"/>
<circle cx="59.5" cy="227.5" r="2.7" fill="#1a1511"/>
<circle cx="61.0" cy="226.0" r="2.7" fill="#1a1511"/>
<circle cx="61.5" cy="221.2" r="2.7" fill="#2a2116"/>
<circle cx="108.2" cy="235.6" r="2.7" fill="#1a1511"/>
<circle cx="71.8" cy="231.2" r="2.7" fill="#1a1511"/>
<circle cx="98.9" cy="233.5" r="2.7" fill="#1a1511"/>
<circle cx="78.6" cy="230.1" r="2.7" fill="#1a1511"/>
<circle cx="92.4" cy="229.7" r="2.7" fill="#1a1511"/>
<circle cx="94.8" cy="234.5" r="2.7" fill="#2a2116"/>
<circle cx="107.9" cy="232.6" r="2.7" fill="#1a1511"/>
<circle cx="89.1" cy="235.3" r="2.7" fill="#1a1511"/>
<circle cx="83.3" cy="235.5" r="2.7" fill="#1a1511"/>
<circle cx="85.8" cy="235.1" r="2.7" fill="#1a1511"/>
<circle cx="91.5" cy="230.3" r="2.7" fill="#1a1511"/>
<circle cx="75.4" cy="229.8" r="2.7" fill="#2a2116"/>
<circle cx="89.4" cy="236.0" r="2.7" fill="#2a2116"/>
<circle cx="91.5" cy="236.0" r="2.7" fill="#1a1511"/>
<circle cx="101.5" cy="234.0" r="2.7" fill="#1a1511"/>
<circle cx="101.2" cy="231.2" r="2.7" fill="#1a1511"/>
<circle cx="74.8" cy="234.2" r="2.7" fill="#2a2116"/>
<circle cx="99.0" cy="233.4" r="2.7" fill="#1a1511"/>
<circle cx="88.6" cy="235.4" r="2.7" fill="#2a2116"/>
<circle cx="89.6" cy="234.5" r="2.7" fill="#2a2116"/>
<circle cx="105.1" cy="235.2" r="2.7" fill="#1a1511"/>
<circle cx="82.7" cy="233.9" r="2.7" fill="#2a2116"/>
<circle cx="98.4" cy="232.1" r="2.7" fill="#1a1511"/>
<circle cx="107.5" cy="234.6" r="2.7" fill="#1a1511"/>
<circle cx="104.8" cy="233.1" r="2.7" fill="#1a1511"/>
<circle cx="81.0" cy="235.7" r="2.7" fill="#2a2116"/>
<circle cx="102.9" cy="232.7" r="2.7" fill="#2a2116"/>
<circle cx="95.4" cy="232.9" r="2.7" fill="#1a1511"/>
<circle cx="98.7" cy="232.2" r="2.7" fill="#1a1511"/>
<circle cx="107.2" cy="233.2" r="2.7" fill="#1a1511"/>
<circle cx="100.9" cy="231.1" r="2.7" fill="#1a1511"/>
<circle cx="106.1" cy="229.9" r="2.7" fill="#2a2116"/>
<circle cx="72.5" cy="232.8" r="2.7" fill="#1a1511"/>
<circle cx="79.5" cy="230.2" r="2.7" fill="#1a1511"/>
<circle cx="99.7" cy="229.5" r="2.7" fill="#1a1511"/>
<circle cx="78.3" cy="230.1" r="2.7" fill="#1a1511"/>
<circle cx="85.8" cy="233.9" r="2.7" fill="#1a1511"/>
<circle cx="70.4" cy="231.2" r="2.7" fill="#1a1511"/>
<circle cx="96.3" cy="229.1" r="2.7" fill="#1a1511"/>
<circle cx="69.1" cy="234.0" r="2.7" fill="#1a1511"/>
<circle cx="83.7" cy="229.5" r="2.7" fill="#1a1511"/>
<circle cx="98.9" cy="232.4" r="2.7" fill="#1a1511"/>
<circle cx="84.2" cy="228.8" r="2.7" fill="#1a1511"/>
<circle cx="74.4" cy="228.8" r="2.7" fill="#1a1511"/>
<circle cx="107.4" cy="233.2" r="2.7" fill="#2a2116"/>
<circle cx="72.8" cy="231.0" r="2.7" fill="#1a1511"/>
<circle cx="81.0" cy="232.6" r="2.7" fill="#2a2116"/>
<circle cx="99.1" cy="235.3" r="2.7" fill="#1a1511"/>
<circle cx="104.2" cy="233.8" r="2.7" fill="#1a1511"/>
<circle cx="108.3" cy="229.2" r="2.7" fill="#2a2116"/>
<circle cx="81.3" cy="229.3" r="2.7" fill="#1a1511"/>
<circle cx="101.1" cy="235.6" r="2.7" fill="#2a2116"/>
<circle cx="92.6" cy="231.4" r="2.7" fill="#2a2116"/>
<circle cx="81.8" cy="235.1" r="2.7" fill="#1a1511"/>
<circle cx="78.9" cy="233.0" r="2.7" fill="#1a1511"/>
<circle cx="95.4" cy="233.7" r="2.7" fill="#1a1511"/>
<circle cx="96.2" cy="230.4" r="2.7" fill="#1a1511"/>
<circle cx="74.8" cy="229.2" r="2.7" fill="#2a2116"/>
<circle cx="77.7" cy="235.4" r="2.7" fill="#2a2116"/>
<circle cx="107.2" cy="236.0" r="2.7" fill="#1a1511"/>
<circle cx="98.0" cy="229.1" r="2.7" fill="#1a1511"/>
<circle cx="92.8" cy="233.2" r="2.7" fill="#2a2116"/>
<circle cx="97.8" cy="230.4" r="2.7" fill="#1a1511"/>
<circle cx="79.7" cy="234.1" r="2.7" fill="#1a1511"/>
<circle cx="69.5" cy="231.6" r="2.7" fill="#1a1511"/>
<circle cx="89.5" cy="229.2" r="2.7" fill="#1a1511"/>
<circle cx="72.2" cy="229.9" r="2.7" fill="#1a1511"/>
<circle cx="72.4" cy="228.7" r="2.7" fill="#2a2116"/>
<circle cx="87.5" cy="230.8" r="2.7" fill="#2a2116"/>
<circle cx="84.0" cy="233.6" r="2.7" fill="#1a1511"/>
<circle cx="98.6" cy="231.8" r="2.7" fill="#2a2116"/>
<circle cx="68.9" cy="232.9" r="2.7" fill="#1a1511"/>
<circle cx="107.0" cy="232.9" r="2.7" fill="#1a1511"/>
<circle cx="95.9" cy="232.1" r="2.7" fill="#1a1511"/>
<circle cx="89.8" cy="235.4" r="2.7" fill="#2a2116"/>
<circle cx="83.4" cy="233.7" r="2.7" fill="#1a1511"/>
<circle cx="80.9" cy="235.1" r="2.7" fill="#1a1511"/>
<circle cx="72.2" cy="230.8" r="2.7" fill="#2a2116"/>
<circle cx="102.7" cy="234.6" r="2.7" fill="#1a1511"/>
<circle cx="85.2" cy="232.1" r="2.7" fill="#1a1511"/>
<circle cx="105.4" cy="233.1" r="2.7" fill="#1a1511"/>
<circle cx="79.9" cy="231.3" r="2.7" fill="#2a2116"/>
<circle cx="71.2" cy="234.2" r="2.7" fill="#1a1511"/>
<circle cx="72.9" cy="231.3" r="2.7" fill="#2a2116"/>
<circle cx="87.5" cy="234.2" r="2.7" fill="#1a1511"/>
<circle cx="105.3" cy="230.4" r="2.7" fill="#1a1511"/>
<circle cx="71.4" cy="234.9" r="2.7" fill="#2a2116"/>
<circle cx="84.4" cy="230.1" r="2.7" fill="#1a1511"/>
<circle cx="69.0" cy="233.4" r="2.7" fill="#1a1511"/>
<circle cx="98.4" cy="232.2" r="2.7" fill="#1a1511"/>
<circle cx="108.3" cy="229.6" r="2.7" fill="#1a1511"/>
<circle cx="79.3" cy="232.4" r="2.7" fill="#1a1511"/>
<circle cx="98.2" cy="234.0" r="2.7" fill="#1a1511"/>
<circle cx="107.1" cy="234.8" r="2.7" fill="#1a1511"/>
<circle cx="84.6" cy="229.7" r="2.7" fill="#2a2116"/>
<circle cx="78.9" cy="231.7" r="2.7" fill="#2a2116"/>
<circle cx="97.4" cy="229.1" r="2.7" fill="#2a2116"/>
<circle cx="102.3" cy="229.2" r="2.7" fill="#1a1511"/>
<circle cx="75.4" cy="232.6" r="2.7" fill="#1a1511"/>
<circle cx="105.7" cy="234.5" r="2.7" fill="#2a2116"/>
<circle cx="109.5" cy="233.4" r="2.7" fill="#1a1511"/>
<circle cx="108.9" cy="231.4" r="2.7" fill="#2a2116"/>
<circle cx="96.2" cy="233.6" r="2.7" fill="#1a1511"/>
<circle cx="75.2" cy="230.7" r="2.7" fill="#1a1511"/>
<circle cx="90.7" cy="235.6" r="2.7" fill="#1a1511"/>
<circle cx="72.0" cy="232.4" r="2.7" fill="#2a2116"/>
<circle cx="89.6" cy="229.8" r="2.7" fill="#1a1511"/>
<circle cx="87.4" cy="233.8" r="2.7" fill="#1a1511"/>
<circle cx="104.7" cy="231.2" r="2.7" fill="#2a2116"/>
<circle cx="98.6" cy="232.0" r="2.7" fill="#2a2116"/>
<circle cx="115.9" cy="243.6" r="2.7" fill="#1a1511"/>
<circle cx="132.9" cy="243.1" r="2.7" fill="#2a2116"/>
<circle cx="111.6" cy="239.6" r="2.7" fill="#1a1511"/>
<circle cx="116.5" cy="241.3" r="2.7" fill="#2a2116"/>
<circle cx="121.8" cy="245.8" r="2.7" fill="#1a1511"/>
<circle cx="119.9" cy="246.0" r="2.7" fill="#1a1511"/>
<circle cx="125.9" cy="246.0" r="2.7" fill="#2a2116"/>
<circle cx="119.7" cy="239.6" r="2.7" fill="#1a1511"/>
<circle cx="114.0" cy="246.7" r="2.7" fill="#1a1511"/>
<circle cx="117.5" cy="239.7" r="2.7" fill="#1a1511"/>
<circle cx="121.8" cy="244.9" r="2.7" fill="#1a1511"/>
<circle cx="127.9" cy="246.4" r="2.7" fill="#1a1511"/>
<circle cx="128.2" cy="243.8" r="2.7" fill="#1a1511"/>
<circle cx="132.0" cy="240.2" r="2.7" fill="#1a1511"/>
<circle cx="122.4" cy="241.4" r="2.7" fill="#2a2116"/>
<circle cx="120.9" cy="244.2" r="2.7" fill="#1a1511"/>
<circle cx="120.5" cy="245.8" r="2.7" fill="#2a2116"/>
<circle cx="118.8" cy="243.9" r="2.7" fill="#2a2116"/>
<circle cx="115.8" cy="242.0" r="2.7" fill="#1a1511"/>
<circle cx="131.4" cy="246.9" r="2.7" fill="#2a2116"/>
<circle cx="127.4" cy="244.7" r="2.7" fill="#1a1511"/>
<circle cx="134.1" cy="246.3" r="2.7" fill="#2a2116"/>
<circle cx="112.6" cy="244.4" r="2.7" fill="#2a2116"/>
<circle cx="130.8" cy="243.8" r="2.7" fill="#1a1511"/>
<circle cx="113.1" cy="243.1" r="2.7" fill="#2a2116"/>
<circle cx="134.7" cy="240.2" r="2.7" fill="#1a1511"/>
<circle cx="120.3" cy="240.6" r="2.7" fill="#1a1511"/>
<circle cx="120.7" cy="242.6" r="2.7" fill="#1a1511"/>
<circle cx="111.1" cy="244.1" r="2.7" fill="#1a1511"/>
<circle cx="119.4" cy="243.9" r="2.7" fill="#2a2116"/>
<circle cx="132.0" cy="246.9" r="2.7" fill="#2a2116"/>
<circle cx="115.9" cy="239.8" r="2.7" fill="#1a1511"/>
<circle cx="111.9" cy="244.0" r="2.7" fill="#1a1511"/>
<circle cx="133.7" cy="246.8" r="2.7" fill="#1a1511"/>
<circle cx="125.3" cy="240.7" r="2.7" fill="#1a1511"/>
<circle cx="134.5" cy="242.0" r="2.7" fill="#1a1511"/>
<circle cx="134.0" cy="246.2" r="2.7" fill="#1a1511"/>
<circle cx="119.4" cy="246.0" r="2.7" fill="#1a1511"/>
<circle cx="126.1" cy="244.0" r="2.7" fill="#2a2116"/>
<circle cx="112.6" cy="246.8" r="2.7" fill="#2a2116"/>
<circle cx="116.8" cy="244.3" r="2.7" fill="#2a2116"/>
<circle cx="115.9" cy="241.8" r="2.7" fill="#1a1511"/>
<circle cx="123.0" cy="243.6" r="2.7" fill="#1a1511"/>
<circle cx="129.7" cy="246.9" r="2.7" fill="#1a1511"/>
<circle cx="110.5" cy="244.1" r="2.7" fill="#2a2116"/>
<circle cx="113.3" cy="244.3" r="2.7" fill="#1a1511"/>
<circle cx="121.7" cy="244.6" r="2.7" fill="#1a1511"/>
<circle cx="125.2" cy="241.6" r="2.7" fill="#1a1511"/>
<circle cx="110.6" cy="240.0" r="2.7" fill="#2a2116"/>
<circle cx="110.5" cy="242.3" r="2.7" fill="#2a2116"/>
<circle cx="121.4" cy="243.9" r="2.7" fill="#1a1511"/>
<circle cx="114.4" cy="240.9" r="2.7" fill="#1a1511"/>
<circle cx="131.1" cy="241.5" r="2.7" fill="#1a1511"/>
<circle cx="112.6" cy="245.6" r="2.7" fill="#2a2116"/>
<circle cx="127.1" cy="240.5" r="2.7" fill="#2a2116"/>
<circle cx="115.6" cy="245.5" r="2.7" fill="#1a1511"/>
<circle cx="118.2" cy="244.6" r="2.7" fill="#2a2116"/>
<circle cx="127.5" cy="240.3" r="2.7" fill="#1a1511"/>
<circle cx="133.7" cy="244.6" r="2.7" fill="#1a1511"/>
<circle cx="121.0" cy="245.9" r="2.7" fill="#1a1511"/>
<circle cx="112.0" cy="245.1" r="2.7" fill="#1a1511"/>
<circle cx="132.1" cy="242.9" r="2.7" fill="#1a1511"/>
<circle cx="129.7" cy="239.8" r="2.7" fill="#1a1511"/>
<circle cx="117.9" cy="245.8" r="2.7" fill="#2a2116"/>
<circle cx="114.6" cy="241.6" r="2.7" fill="#2a2116"/>
<circle cx="112.1" cy="244.1" r="2.7" fill="#2a2116"/>
<circle cx="113.2" cy="241.7" r="2.7" fill="#1a1511"/>
<circle cx="121.6" cy="244.3" r="2.7" fill="#1a1511"/>
<circle cx="120.5" cy="242.6" r="2.7" fill="#1a1511"/>
<circle cx="113.9" cy="239.5" r="2.7" fill="#2a2116"/>
<circle cx="44.4" cy="233.1" r="2.7" fill="#1a1511"/>
<circle cx="65.6" cy="233.1" r="2.7" fill="#1a1511"/>
<circle cx="56.9" cy="241.2" r="2.7" fill="#1a1511"/>
<circle cx="59.4" cy="242.5" r="2.7" fill="#1a1511"/>
<circle cx="61.9" cy="241.9" r="2.7" fill="#1a1511"/>
<circle cx="64.4" cy="243.8" r="2.7" fill="#1a1511"/>
<circle cx="67.5" cy="243.1" r="2.7" fill="#1a1511"/>
<circle cx="65.6" cy="246.9" r="2.7" fill="#1a1511"/>
<circle cx="45.6" cy="245.6" r="2.7" fill="#1a1511"/>
<circle cx="83.1" cy="242.0" r="2.7" fill="#1a1511"/>
<circle cx="83.8" cy="243.8" r="2.7" fill="#1a1511"/>
<circle cx="96.2" cy="249.4" r="2.7" fill="#1a1511"/>
<circle cx="44.4" cy="261.2" r="2.7" fill="#1a1511"/>
<circle cx="48.8" cy="262.5" r="2.7" fill="#1a1511"/>
<circle cx="43.1" cy="269.4" r="2.7" fill="#1a1511"/>
<circle cx="55.0" cy="270.6" r="2.7" fill="#1a1511"/>
<circle cx="60.0" cy="270.0" r="2.7" fill="#1a1511"/>
<circle cx="62.5" cy="269.4" r="2.7" fill="#1a1511"/>
<circle cx="61.2" cy="272.5" r="2.7" fill="#1a1511"/>
<circle cx="80.6" cy="261.2" r="2.7" fill="#1a1511"/>
<circle cx="84.4" cy="268.8" r="2.7" fill="#1a1511"/>
<circle cx="88.1" cy="266.2" r="2.7" fill="#1a1511"/>
<circle cx="93.8" cy="265.0" r="2.7" fill="#1a1511"/>
<circle cx="97.5" cy="266.9" r="2.7" fill="#1a1511"/>
<circle cx="93.1" cy="270.6" r="2.7" fill="#1a1511"/>
<circle cx="69.4" cy="277.5" r="2.7" fill="#1a1511"/>
<circle cx="81.2" cy="252.5" r="2.7" fill="#7d6026"/>
<circle cx="83.1" cy="276.2" r="2.7" fill="#7d6026"/>
<circle cx="133.1" cy="206.2" r="2.7" fill="#7d6026"/>
<circle cx="123.1" cy="225.0" r="2.7" fill="#2a2116"/>
<circle cx="130.6" cy="223.8" r="2.7" fill="#1a1511"/>
<circle cx="135.6" cy="221.9" r="2.7" fill="#1a1511"/>
<circle cx="138.1" cy="235.6" r="2.7" fill="#1a1511"/>
<circle cx="144.4" cy="234.4" r="2.7" fill="#1a1511"/>
<circle cx="146.2" cy="232.5" r="2.7" fill="#1a1511"/>
<circle cx="150.0" cy="236.2" r="2.7" fill="#1a1511"/>
<circle cx="153.8" cy="227.5" r="2.7" fill="#1a1511"/>
<circle cx="154.4" cy="237.5" r="2.7" fill="#1a1511"/>
<circle cx="154.4" cy="242.5" r="2.7" fill="#1a1511"/>
<circle cx="130.0" cy="237.0" r="2.7" fill="#1a1511"/>
<circle cx="96.9" cy="249.4" r="2.7" fill="#1a1511"/>
<circle cx="135.0" cy="253.8" r="2.7" fill="#1a1511"/>
<circle cx="138.8" cy="255.0" r="2.7" fill="#1a1511"/>
<circle cx="142.5" cy="256.2" r="2.7" fill="#1a1511"/>
<circle cx="146.2" cy="255.0" r="2.7" fill="#1a1511"/>
<circle cx="148.8" cy="256.9" r="2.7" fill="#1a1511"/>
<circle cx="152.5" cy="258.8" r="2.7" fill="#1a1511"/>
<circle cx="155.0" cy="260.0" r="2.7" fill="#1a1511"/>
<circle cx="131.2" cy="260.6" r="2.7" fill="#1a1511"/>
<circle cx="138.1" cy="261.2" r="2.7" fill="#1a1511"/>
<circle cx="142.5" cy="261.9" r="2.7" fill="#1a1511"/>
<circle cx="146.2" cy="262.5" r="2.7" fill="#1a1511"/>
<circle cx="150.0" cy="261.9" r="2.7" fill="#1a1511"/>
<circle cx="97.5" cy="266.2" r="2.7" fill="#1a1511"/>
<circle cx="111.2" cy="268.8" r="2.7" fill="#1a1511"/>
<circle cx="122.5" cy="269.4" r="2.7" fill="#1a1511"/>
<circle cx="135.6" cy="268.8" r="2.7" fill="#1a1511"/>
<circle cx="139.4" cy="270.6" r="2.7" fill="#1a1511"/>
<circle cx="142.5" cy="268.8" r="2.7" fill="#1a1511"/>
<circle cx="145.0" cy="270.0" r="2.7" fill="#1a1511"/>
<circle cx="147.5" cy="271.2" r="2.7" fill="#1a1511"/>
<circle cx="150.0" cy="272.5" r="2.7" fill="#1a1511"/>
<circle cx="151.9" cy="270.6" r="2.7" fill="#1a1511"/>
<circle cx="105.6" cy="274.4" r="2.7" fill="#1a1511"/>
<circle cx="141.2" cy="275.0" r="2.7" fill="#1a1511"/>
<circle cx="141.2" cy="278.8" r="2.7" fill="#1a1511"/>
<circle cx="149.4" cy="276.9" r="2.7" fill="#1a1511"/>
<circle cx="154.5" cy="232.0" r="2.7" fill="#1a1511"/>
<circle cx="154.5" cy="250.0" r="2.7" fill="#1a1511"/>
<circle cx="154.5" cy="255.0" r="2.7" fill="#1a1511"/>
<circle cx="154.5" cy="265.0" r="2.7" fill="#1a1511"/>
<circle cx="133.8" cy="230.0" r="2.7" fill="#7d6026"/>
<circle cx="140.6" cy="228.1" r="2.7" fill="#7d6026"/>
<circle cx="148.1" cy="244.4" r="2.7" fill="#7d6026"/>
<circle cx="132.5" cy="274.4" r="2.7" fill="#7d6026"/>
<circle cx="224.0" cy="59.9" r="2.7" fill="#7d6026"/>
<circle cx="228.7" cy="61.3" r="2.7" fill="#7d6026"/>
<circle cx="240.5" cy="61.3" r="2.7" fill="#7d6026"/>
<circle cx="248.9" cy="60.6" r="2.7" fill="#7d6026"/>
<circle cx="264.0" cy="58.4" r="2.7" fill="#7d6026"/>
<circle cx="266.2" cy="59.2" r="2.7" fill="#7d6026"/>
<circle cx="272.7" cy="62.3" r="2.7" fill="#7d6026"/>
<circle cx="277.0" cy="62.3" r="2.7" fill="#7d6026"/>
<circle cx="288.0" cy="64.2" r="2.7" fill="#7d6026"/>
<circle cx="291.6" cy="64.9" r="2.7" fill="#7d6026"/>
<circle cx="295.3" cy="66.4" r="2.7" fill="#7d6026"/>
<circle cx="298.9" cy="67.8" r="2.7" fill="#7d6026"/>
<circle cx="271.2" cy="21.6" r="2.7" fill="#e0842e"/>
<circle cx="285.2" cy="14.0" r="2.7" fill="#ef6a22"/>
<circle cx="288.0" cy="13.3" r="2.7" fill="#ef6a22"/>
<circle cx="292.4" cy="8.9" r="2.7" fill="#e2201c"/>
<circle cx="296.3" cy="10.4" r="2.7" fill="#e2201c"/>
<circle cx="299.3" cy="43.0" r="2.7" fill="#d89a30"/>
<circle cx="273.4" cy="75.4" r="2.7" fill="#1a1511"/>
<circle cx="277.8" cy="77.3" r="2.7" fill="#1a1511"/>
<circle cx="285.2" cy="73.9" r="2.7" fill="#1a1511"/>
<circle cx="287.3" cy="75.8" r="2.7" fill="#1a1511"/>
<circle cx="286.6" cy="79.4" r="2.7" fill="#1a1511"/>
<circle cx="291.6" cy="83.8" r="2.7" fill="#b5862c"/>
<circle cx="296.7" cy="81.6" r="2.7" fill="#b5862c"/>
<circle cx="298.1" cy="79.4" r="2.7" fill="#b5862c"/>
<circle cx="303.2" cy="80.2" r="2.7" fill="#b5862c"/>
<circle cx="263.3" cy="88.4" r="2.7" fill="#2a2116"/>
<circle cx="268.0" cy="96.0" r="2.7" fill="#1a1511"/>
<circle cx="271.0" cy="95.5" r="2.7" fill="#1a1511"/>
<circle cx="274.0" cy="96.5" r="2.7" fill="#1a1511"/>
<circle cx="277.0" cy="96.0" r="2.7" fill="#1a1511"/>
<circle cx="280.0" cy="95.5" r="2.7" fill="#1a1511"/>
<circle cx="283.0" cy="96.5" r="2.7" fill="#1a1511"/>
<circle cx="285.0" cy="97.5" r="2.7" fill="#1a1511"/>
<circle cx="287.0" cy="96.0" r="2.7" fill="#1a1511"/>
<circle cx="289.0" cy="99.0" r="2.7" fill="#1a1511"/>
<circle cx="291.0" cy="100.5" r="2.7" fill="#1a1511"/>
<circle cx="272.9" cy="101.8" r="2.7" fill="#1a1511"/>
<circle cx="272.9" cy="104.7" r="2.7" fill="#1a1511"/>
<circle cx="244.6" cy="101.8" r="2.7" fill="#1a1511"/>
<circle cx="248.0" cy="102.2" r="2.7" fill="#1a1511"/>
<circle cx="252.5" cy="102.2" r="2.7" fill="#1a1511"/>
<circle cx="256.1" cy="101.8" r="2.7" fill="#1a1511"/>
<circle cx="259.7" cy="101.8" r="2.7" fill="#1a1511"/>
<circle cx="264.0" cy="101.2" r="2.7" fill="#1a1511"/>
<circle cx="226.5" cy="98.9" r="2.7" fill="#1a1511"/>
<circle cx="235.9" cy="98.2" r="2.7" fill="#1a1511"/>
<circle cx="236.6" cy="101.8" r="2.7" fill="#1a1511"/>
<circle cx="259.0" cy="107.1" r="2.7" fill="#1a1511"/>
<circle cx="298.1" cy="110.5" r="2.7" fill="#1a1511"/>
<circle cx="226.5" cy="107.6" r="2.7" fill="#1a1511"/>
<circle cx="229.4" cy="111.2" r="2.7" fill="#1a1511"/>
<circle cx="238.1" cy="110.5" r="2.7" fill="#1a1511"/>
<circle cx="248.2" cy="116.2" r="2.7" fill="#1a1511"/>
<circle cx="222.9" cy="119.8" r="2.7" fill="#1a1511"/>
<circle cx="234.5" cy="119.8" r="2.7" fill="#1a1511"/>
<circle cx="238.1" cy="123.4" r="2.7" fill="#1a1511"/>
<circle cx="243.9" cy="120.6" r="2.7" fill="#1a1511"/>
<circle cx="254.7" cy="122.0" r="2.7" fill="#1a1511"/>
<circle cx="259.0" cy="119.8" r="2.7" fill="#1a1511"/>
<circle cx="258.3" cy="124.2" r="2.7" fill="#1a1511"/>
<circle cx="261.2" cy="127.0" r="2.7" fill="#1a1511"/>
<circle cx="256.8" cy="130.0" r="2.7" fill="#1a1511"/>
<circle cx="278.5" cy="123.4" r="2.7" fill="#1a1511"/>
<circle cx="275.6" cy="128.5" r="2.7" fill="#1a1511"/>
<circle cx="287.2" cy="122.0" r="2.7" fill="#1a1511"/>
<circle cx="330.6" cy="101.8" r="2.7" fill="#1a1511"/>
<circle cx="326.3" cy="109.0" r="2.7" fill="#1a1511"/>
<circle cx="332.0" cy="118.4" r="2.7" fill="#1a1511"/>
<circle cx="303.2" cy="120.6" r="2.7" fill="#1a1511"/>
<circle cx="307.5" cy="119.8" r="2.7" fill="#1a1511"/>
<circle cx="313.3" cy="118.4" r="2.7" fill="#1a1511"/>
<circle cx="317.6" cy="117.7" r="2.7" fill="#1a1511"/>
<circle cx="321.9" cy="117.7" r="2.7" fill="#1a1511"/>
<circle cx="323.4" cy="120.6" r="2.7" fill="#1a1511"/>
<circle cx="320.5" cy="124.2" r="2.7" fill="#1a1511"/>
<circle cx="324.8" cy="127.0" r="2.7" fill="#1a1511"/>
<circle cx="304.6" cy="125.6" r="2.7" fill="#1a1511"/>
<circle cx="309.0" cy="126.3" r="2.7" fill="#1a1511"/>
<circle cx="311.8" cy="128.5" r="2.7" fill="#1a1511"/>
<circle cx="298.9" cy="127.0" r="2.7" fill="#1a1511"/>
<circle cx="300.3" cy="130.7" r="2.7" fill="#1a1511"/>
<circle cx="299.6" cy="135.0" r="2.7" fill="#1a1511"/>
<circle cx="303.2" cy="131.4" r="2.7" fill="#1a1511"/>
<circle cx="306.8" cy="130.7" r="2.7" fill="#1a1511"/>
<circle cx="222.9" cy="128.5" r="2.7" fill="#1a1511"/>
<circle cx="226.5" cy="130.7" r="2.7" fill="#1a1511"/>
<circle cx="230.9" cy="130.0" r="2.7" fill="#1a1511"/>
<circle cx="235.2" cy="131.4" r="2.7" fill="#1a1511"/>
<circle cx="239.5" cy="130.7" r="2.7" fill="#1a1511"/>
<circle cx="243.9" cy="129.3" r="2.7" fill="#1a1511"/>
<circle cx="248.2" cy="132.1" r="2.7" fill="#1a1511"/>
<circle cx="251.0" cy="132.8" r="2.7" fill="#1a1511"/>
<circle cx="220.5" cy="133.5" r="2.7" fill="#1a1511"/>
<circle cx="228.0" cy="134.0" r="2.7" fill="#1a1511"/>
<circle cx="233.0" cy="133.5" r="2.7" fill="#1a1511"/>
<circle cx="241.0" cy="134.0" r="2.7" fill="#1a1511"/>
<circle cx="224.0" cy="131.0" r="2.7" fill="#1a1511"/>
<circle cx="246.0" cy="131.0" r="2.7" fill="#1a1511"/>
<circle cx="292.4" cy="150.4" r="2.7" fill="#e2201c"/>
<circle cx="296.7" cy="151.8" r="2.7" fill="#e2201c"/>
<circle cx="285.2" cy="162.8" r="2.7" fill="#ef6a22"/>
<circle cx="288.5" cy="160.5" r="2.7" fill="#ef6a22"/>
<circle cx="299.1" cy="177.2" r="2.7" fill="#d89a30"/>
<circle cx="271.2" cy="180.1" r="2.7" fill="#cf8c45"/>
<circle cx="273.2" cy="184.2" r="2.7" fill="#7d6026"/>
<circle cx="276.6" cy="192.1" r="2.7" fill="#4e3d1c"/>
<circle cx="277.2" cy="193.7" r="2.7" fill="#4e3d1c"/>
<circle cx="288.0" cy="194.8" r="2.7" fill="#7d6026"/>
<circle cx="289.5" cy="190.5" r="2.7" fill="#7d6026"/>
<circle cx="292.4" cy="189.0" r="2.7" fill="#7d6026"/>
<circle cx="293.8" cy="192.7" r="2.7" fill="#7d6026"/>
<circle cx="296.0" cy="198.4" r="2.7" fill="#7d6026"/>
<circle cx="298.1" cy="197.7" r="2.7" fill="#7d6026"/>
<circle cx="296.7" cy="201.3" r="2.7" fill="#7d6026"/>
<circle cx="299.6" cy="203.2" r="2.7" fill="#7d6026"/>
<circle cx="303.5" cy="216.1" r="2.7" fill="#2a2116"/>
<circle cx="326.3" cy="215.8" r="2.7" fill="#1a1511"/>
<circle cx="329.2" cy="222.7" r="2.7" fill="#1a1511"/>
<circle cx="224.0" cy="247.2" r="2.7" fill="#7d6026"/>
<circle cx="264.8" cy="236.7" r="2.7" fill="#7d6026"/>
<circle cx="266.2" cy="236.3" r="2.7" fill="#7d6026"/>
<circle cx="228.7" cy="243.2" r="2.7" fill="#9c7a3c"/>
<circle cx="229.0" cy="244.6" r="2.7" fill="#9c7a3c"/>
<circle cx="240.7" cy="243.9" r="2.7" fill="#9c7a3c"/>
<circle cx="248.9" cy="242.0" r="2.7" fill="#9c7a3c"/>
<circle cx="231.9" cy="261.5" r="2.7" fill="#1a1511"/>
<circle cx="243.0" cy="261.4" r="2.7" fill="#1a1511"/>
<circle cx="239.5" cy="265.1" r="2.7" fill="#1a1511"/>
<circle cx="231.2" cy="263.4" r="2.7" fill="#1a1511"/>
<circle cx="256.9" cy="264.7" r="2.7" fill="#1a1511"/>
<circle cx="230.9" cy="265.2" r="2.7" fill="#2a2116"/>
<circle cx="258.1" cy="264.6" r="2.7" fill="#1a1511"/>
<circle cx="228.6" cy="262.3" r="2.7" fill="#2a2116"/>
<circle cx="265.2" cy="264.8" r="2.7" fill="#1a1511"/>
<circle cx="225.0" cy="263.7" r="2.7" fill="#2a2116"/>
<circle cx="238.8" cy="262.1" r="2.7" fill="#1a1511"/>
<circle cx="242.8" cy="261.4" r="2.7" fill="#2a2116"/>
<circle cx="259.7" cy="261.0" r="2.7" fill="#1a1511"/>
<circle cx="247.3" cy="265.0" r="2.7" fill="#2a2116"/>
<circle cx="230.0" cy="262.9" r="2.7" fill="#1a1511"/>
<circle cx="240.8" cy="261.7" r="2.7" fill="#1a1511"/>
<circle cx="232.9" cy="264.6" r="2.7" fill="#1a1511"/>
<circle cx="223.1" cy="263.8" r="2.7" fill="#1a1511"/>
<circle cx="244.9" cy="263.9" r="2.7" fill="#2a2116"/>
<circle cx="236.8" cy="265.5" r="2.7" fill="#1a1511"/>
<circle cx="224.1" cy="265.1" r="2.7" fill="#2a2116"/>
<circle cx="250.1" cy="262.2" r="2.7" fill="#1a1511"/>
<circle cx="241.1" cy="263.6" r="2.7" fill="#2a2116"/>
<circle cx="246.7" cy="265.1" r="2.7" fill="#1a1511"/>
<circle cx="259.6" cy="264.2" r="2.7" fill="#1a1511"/>
<circle cx="256.2" cy="263.8" r="2.7" fill="#1a1511"/>
<circle cx="226.6" cy="265.2" r="2.7" fill="#1a1511"/>
<circle cx="242.1" cy="261.2" r="2.7" fill="#2a2116"/>
<circle cx="224.8" cy="265.3" r="2.7" fill="#1a1511"/>
<circle cx="254.8" cy="265.3" r="2.7" fill="#1a1511"/>
<circle cx="235.8" cy="262.4" r="2.7" fill="#1a1511"/>
<circle cx="256.7" cy="262.8" r="2.7" fill="#2a2116"/>
<circle cx="252.3" cy="261.3" r="2.7" fill="#2a2116"/>
<circle cx="229.8" cy="263.0" r="2.7" fill="#1a1511"/>
<circle cx="232.5" cy="263.7" r="2.7" fill="#1a1511"/>
<circle cx="236.2" cy="261.0" r="2.7" fill="#1a1511"/>
<circle cx="241.9" cy="262.6" r="2.7" fill="#1a1511"/>
<circle cx="266.9" cy="263.6" r="2.7" fill="#1a1511"/>
<circle cx="266.2" cy="262.9" r="2.7" fill="#1a1511"/>
<circle cx="226.2" cy="261.3" r="2.7" fill="#2a2116"/>
<circle cx="228.8" cy="264.0" r="2.7" fill="#1a1511"/>
<circle cx="248.9" cy="263.5" r="2.7" fill="#2a2116"/>
<circle cx="232.5" cy="265.5" r="2.7" fill="#1a1511"/>
<circle cx="259.4" cy="262.3" r="2.7" fill="#1a1511"/>
<circle cx="251.0" cy="261.9" r="2.7" fill="#1a1511"/>
<circle cx="232.1" cy="262.8" r="2.7" fill="#1a1511"/>
<circle cx="231.1" cy="263.0" r="2.7" fill="#2a2116"/>
<circle cx="261.9" cy="264.7" r="2.7" fill="#1a1511"/>
<circle cx="229.6" cy="261.2" r="2.7" fill="#1a1511"/>
<circle cx="232.1" cy="261.9" r="2.7" fill="#1a1511"/>
<circle cx="240.2" cy="262.2" r="2.7" fill="#1a1511"/>
<circle cx="223.4" cy="265.2" r="2.7" fill="#2a2116"/>
<circle cx="226.4" cy="263.6" r="2.7" fill="#2a2116"/>
<circle cx="251.1" cy="264.6" r="2.7" fill="#2a2116"/>
<circle cx="222.9" cy="262.7" r="2.7" fill="#1a1511"/>
<circle cx="230.7" cy="264.9" r="2.7" fill="#1a1511"/>
<circle cx="236.5" cy="264.0" r="2.7" fill="#2a2116"/>
<circle cx="235.5" cy="262.9" r="2.7" fill="#1a1511"/>
<circle cx="251.1" cy="264.1" r="2.7" fill="#1a1511"/>
<circle cx="236.6" cy="262.8" r="2.7" fill="#1a1511"/>
<circle cx="226.5" cy="250.4" r="2.7" fill="#1a1511"/>
<circle cx="256.8" cy="245.8" r="2.7" fill="#1a1511"/>
<circle cx="288.6" cy="246.0" r="2.7" fill="#1a1511"/>
<circle cx="275.6" cy="264.8" r="2.7" fill="#1a1511"/>
<circle cx="288.8" cy="245.4" r="2.7" fill="#1a1511"/>
<circle cx="290.9" cy="248.2" r="2.7" fill="#1a1511"/>
<circle cx="271.4" cy="251.8" r="2.7" fill="#1a1511"/>
<circle cx="274.3" cy="253.3" r="2.7" fill="#1a1511"/>
<circle cx="277.9" cy="254.7" r="2.7" fill="#1a1511"/>
<circle cx="281.5" cy="254.0" r="2.7" fill="#1a1511"/>
<circle cx="284.4" cy="253.3" r="2.7" fill="#1a1511"/>
<circle cx="287.3" cy="254.7" r="2.7" fill="#1a1511"/>
<circle cx="280.1" cy="257.6" r="2.7" fill="#1a1511"/>
<circle cx="285.9" cy="259.8" r="2.7" fill="#1a1511"/>
<circle cx="285.2" cy="263.4" r="2.7" fill="#1a1511"/>
<circle cx="275.8" cy="264.8" r="2.7" fill="#1a1511"/>
<circle cx="270.0" cy="255.0" r="2.7" fill="#1a1511"/>
<circle cx="272.0" cy="258.0" r="2.7" fill="#1a1511"/>
<circle cx="278.0" cy="260.0" r="2.7" fill="#1a1511"/>
<circle cx="223.0" cy="274.2" r="2.7" fill="#1a1511"/>
<circle cx="229.4" cy="274.9" r="2.7" fill="#1a1511"/>
<circle cx="235.2" cy="273.5" r="2.7" fill="#1a1511"/>
<circle cx="238.1" cy="272.8" r="2.7" fill="#1a1511"/>
<circle cx="243.9" cy="274.2" r="2.7" fill="#1a1511"/>
<circle cx="248.2" cy="270.6" r="2.7" fill="#1a1511"/>
<circle cx="254.0" cy="274.2" r="2.7" fill="#1a1511"/>
<circle cx="257.6" cy="273.5" r="2.7" fill="#1a1511"/>
<circle cx="262.6" cy="275.7" r="2.7" fill="#1a1511"/>
<circle cx="248.2" cy="277.0" r="2.7" fill="#1a1511"/>
<circle cx="272.9" cy="276.4" r="2.7" fill="#1a1511"/>
<circle cx="277.9" cy="272.0" r="2.7" fill="#1a1511"/>
<circle cx="287.3" cy="274.2" r="2.7" fill="#1a1511"/>
<circle cx="298.1" cy="275.7" r="2.7" fill="#1a1511"/>
<circle cx="298.9" cy="277.8" r="2.7" fill="#1a1511"/>
<circle cx="310.4" cy="256.2" r="2.7" fill="#1a1511"/>
<circle cx="311.8" cy="259.8" r="2.7" fill="#1a1511"/>
<circle cx="320.5" cy="254.0" r="2.7" fill="#1a1511"/>
<circle cx="325.6" cy="260.5" r="2.7" fill="#1a1511"/>
<circle cx="331.3" cy="256.9" r="2.7" fill="#1a1511"/>
<circle cx="301.7" cy="264.8" r="2.7" fill="#1a1511"/>
<circle cx="306.1" cy="264.1" r="2.7" fill="#1a1511"/>
<circle cx="309.0" cy="266.3" r="2.7" fill="#1a1511"/>
<circle cx="313.3" cy="264.8" r="2.7" fill="#1a1511"/>
<circle cx="304.6" cy="269.2" r="2.7" fill="#1a1511"/>
<circle cx="310.4" cy="270.6" r="2.7" fill="#1a1511"/>
<circle cx="314.7" cy="267.7" r="2.7" fill="#1a1511"/>
<circle cx="317.6" cy="270.6" r="2.7" fill="#1a1511"/>
<circle cx="321.9" cy="264.8" r="2.7" fill="#1a1511"/>
<circle cx="322.7" cy="269.2" r="2.7" fill="#1a1511"/>
<circle cx="324.8" cy="271.3" r="2.7" fill="#1a1511"/>
<circle cx="304.6" cy="273.5" r="2.7" fill="#1a1511"/>
<circle cx="313.3" cy="273.5" r="2.7" fill="#1a1511"/>
<circle cx="323.4" cy="274.9" r="2.7" fill="#1a1511"/>
<circle cx="332.0" cy="274.2" r="2.7" fill="#1a1511"/>
<circle cx="486.9" cy="13.8" r="2.7" fill="#e2201c"/>
<circle cx="489.4" cy="12.5" r="2.7" fill="#e2201c"/>
<circle cx="492.5" cy="11.9" r="2.7" fill="#e2201c"/>
<circle cx="495.0" cy="10.6" r="2.7" fill="#e2201c"/>
<circle cx="497.5" cy="8.8" r="2.7" fill="#e2201c"/>
<circle cx="498.8" cy="12.5" r="2.7" fill="#e2201c"/>
<circle cx="498.1" cy="17.5" r="2.7" fill="#e2201c"/>
<circle cx="488.8" cy="17.5" r="2.7" fill="#e2201c"/>
<circle cx="491.2" cy="16.2" r="2.7" fill="#e2201c"/>
<circle cx="496.2" cy="16.2" r="2.7" fill="#e2201c"/>
<circle cx="480.0" cy="20.6" r="2.7" fill="#ef6a22"/>
<circle cx="484.4" cy="25.0" r="2.7" fill="#e0842e"/>
<circle cx="470.6" cy="21.5" r="2.7" fill="#e0842e"/>
<circle cx="509.4" cy="28.5" r="2.7" fill="#e0842e"/>
<circle cx="513.1" cy="36.0" r="2.7" fill="#e0842e"/>
<circle cx="470.6" cy="28.1" r="2.7" fill="#e6a83a"/>
<circle cx="469.8" cy="32.8" r="2.7" fill="#e6a83a"/>
<circle cx="452.7" cy="54.6" r="2.7" fill="#7d6026"/>
<circle cx="457.3" cy="51.5" r="2.7" fill="#b5862c"/>
<circle cx="460.4" cy="50.0" r="2.7" fill="#b5862c"/>
<circle cx="458.8" cy="50.0" r="2.7" fill="#b5862c"/>
<circle cx="415.8" cy="66.2" r="2.7" fill="#1a1511"/>
<circle cx="461.0" cy="70.8" r="2.7" fill="#1a1511"/>
<circle cx="497.8" cy="65.8" r="2.7" fill="#1a1511"/>
<circle cx="491.7" cy="71.2" r="2.7" fill="#1a1511"/>
<circle cx="494.4" cy="75.2" r="2.7" fill="#1a1511"/>
<circle cx="497.1" cy="76.5" r="2.7" fill="#1a1511"/>
<circle cx="418.0" cy="69.0" r="2.7" fill="#2a2116"/>
<circle cx="421.0" cy="70.5" r="2.7" fill="#2a2116"/>
<circle cx="424.0" cy="69.5" r="2.7" fill="#2a2116"/>
<circle cx="427.0" cy="71.0" r="2.7" fill="#2a2116"/>
<circle cx="430.0" cy="70.0" r="2.7" fill="#2a2116"/>
<circle cx="433.0" cy="71.5" r="2.7" fill="#2a2116"/>
<circle cx="436.0" cy="70.5" r="2.7" fill="#2a2116"/>
<circle cx="439.0" cy="71.0" r="2.7" fill="#2a2116"/>
<circle cx="442.0" cy="70.0" r="2.7" fill="#2a2116"/>
<circle cx="445.0" cy="69.5" r="2.7" fill="#2a2116"/>
<circle cx="448.0" cy="69.0" r="2.7" fill="#2a2116"/>
<circle cx="451.0" cy="68.0" r="2.7" fill="#2a2116"/>
<circle cx="454.0" cy="67.0" r="2.7" fill="#2a2116"/>
<circle cx="457.0" cy="66.0" r="2.7" fill="#2a2116"/>
<circle cx="460.0" cy="65.5" r="2.7" fill="#4e3d1c"/>
<circle cx="462.0" cy="66.0" r="2.7" fill="#4e3d1c"/>
<circle cx="487.7" cy="64.4" r="2.7" fill="#4e3d1c"/>
<circle cx="491.7" cy="63.0" r="2.7" fill="#2a2116"/>
<circle cx="495.8" cy="60.4" r="2.7" fill="#2a2116"/>
<circle cx="433.9" cy="80.7" r="2.7" fill="#2a2116"/>
<circle cx="444.2" cy="80.7" r="2.7" fill="#2a2116"/>
<circle cx="414.9" cy="78.2" r="2.7" fill="#1a1511"/>
<circle cx="434.8" cy="82.1" r="2.7" fill="#1a1511"/>
<circle cx="425.9" cy="81.8" r="2.7" fill="#1a1511"/>
<circle cx="431.4" cy="79.2" r="2.7" fill="#1a1511"/>
<circle cx="437.4" cy="77.7" r="2.7" fill="#1a1511"/>
<circle cx="443.3" cy="80.9" r="2.7" fill="#1a1511"/>
<circle cx="438.4" cy="74.6" r="2.7" fill="#2a2116"/>
<circle cx="433.8" cy="75.1" r="2.7" fill="#1a1511"/>
<circle cx="445.1" cy="74.0" r="2.7" fill="#1a1511"/>
<circle cx="444.7" cy="75.5" r="2.7" fill="#1a1511"/>
<circle cx="423.3" cy="82.7" r="2.7" fill="#2a2116"/>
<circle cx="442.0" cy="79.6" r="2.7" fill="#1a1511"/>
<circle cx="444.1" cy="80.2" r="2.7" fill="#1a1511"/>
<circle cx="423.6" cy="77.3" r="2.7" fill="#1a1511"/>
<circle cx="443.9" cy="76.4" r="2.7" fill="#1a1511"/>
<circle cx="423.6" cy="79.4" r="2.7" fill="#1a1511"/>
<circle cx="433.1" cy="80.4" r="2.7" fill="#1a1511"/>
<circle cx="423.9" cy="81.4" r="2.7" fill="#1a1511"/>
<circle cx="436.3" cy="75.7" r="2.7" fill="#1a1511"/>
<circle cx="436.5" cy="74.5" r="2.7" fill="#1a1511"/>
<circle cx="444.4" cy="77.2" r="2.7" fill="#1a1511"/>
<circle cx="414.6" cy="81.1" r="2.7" fill="#1a1511"/>
<circle cx="426.0" cy="81.6" r="2.7" fill="#1a1511"/>
<circle cx="415.5" cy="75.6" r="2.7" fill="#1a1511"/>
<circle cx="417.8" cy="76.2" r="2.7" fill="#1a1511"/>
<circle cx="425.0" cy="77.2" r="2.7" fill="#2a2116"/>
<circle cx="422.0" cy="78.2" r="2.7" fill="#2a2116"/>
<circle cx="437.9" cy="81.2" r="2.7" fill="#1a1511"/>
<circle cx="415.2" cy="82.5" r="2.7" fill="#1a1511"/>
<circle cx="420.7" cy="78.6" r="2.7" fill="#1a1511"/>
<circle cx="443.4" cy="77.1" r="2.7" fill="#2a2116"/>
<circle cx="431.4" cy="76.8" r="2.7" fill="#1a1511"/>
<circle cx="423.8" cy="81.2" r="2.7" fill="#2a2116"/>
<circle cx="418.8" cy="80.2" r="2.7" fill="#1a1511"/>
<circle cx="419.2" cy="74.4" r="2.7" fill="#2a2116"/>
<circle cx="431.1" cy="77.7" r="2.7" fill="#1a1511"/>
<circle cx="437.7" cy="77.1" r="2.7" fill="#1a1511"/>
<circle cx="428.6" cy="77.8" r="2.7" fill="#1a1511"/>
<circle cx="445.3" cy="79.7" r="2.7" fill="#1a1511"/>
<circle cx="424.7" cy="75.9" r="2.7" fill="#2a2116"/>
<circle cx="432.0" cy="75.2" r="2.7" fill="#1a1511"/>
<circle cx="417.4" cy="77.9" r="2.7" fill="#1a1511"/>
<circle cx="415.9" cy="77.8" r="2.7" fill="#1a1511"/>
<circle cx="428.5" cy="83.0" r="2.7" fill="#1a1511"/>
<circle cx="445.2" cy="78.1" r="2.7" fill="#1a1511"/>
<circle cx="436.0" cy="76.9" r="2.7" fill="#1a1511"/>
<circle cx="423.3" cy="77.6" r="2.7" fill="#1a1511"/>
<circle cx="417.6" cy="81.4" r="2.7" fill="#2a2116"/>
<circle cx="444.7" cy="79.6" r="2.7" fill="#1a1511"/>
<circle cx="441.8" cy="75.6" r="2.7" fill="#1a1511"/>
<circle cx="422.7" cy="81.0" r="2.7" fill="#2a2116"/>
<circle cx="425.6" cy="81.1" r="2.7" fill="#1a1511"/>
<circle cx="436.2" cy="80.0" r="2.7" fill="#1a1511"/>
<circle cx="425.6" cy="80.3" r="2.7" fill="#1a1511"/>
<circle cx="440.7" cy="76.4" r="2.7" fill="#2a2116"/>
<circle cx="436.9" cy="82.6" r="2.7" fill="#1a1511"/>
<circle cx="434.8" cy="79.2" r="2.7" fill="#1a1511"/>
<circle cx="429.2" cy="81.0" r="2.7" fill="#1a1511"/>
<circle cx="414.0" cy="86.7" r="2.7" fill="#1a1511"/>
<circle cx="412.0" cy="91.2" r="2.7" fill="#1a1511"/>
<circle cx="413.4" cy="93.0" r="2.7" fill="#1a1511"/>
<circle cx="429.3" cy="95.6" r="2.7" fill="#1a1511"/>
<circle cx="433.0" cy="96.6" r="2.7" fill="#1a1511"/>
<circle cx="447.0" cy="92.4" r="2.7" fill="#1a1511"/>
<circle cx="445.8" cy="98.1" r="2.7" fill="#1a1511"/>
<circle cx="487.0" cy="91.3" r="2.7" fill="#1a1511"/>
<circle cx="496.4" cy="87.3" r="2.7" fill="#1a1511"/>
<circle cx="511.2" cy="108.2" r="2.7" fill="#1a1511"/>
<circle cx="474.2" cy="100.8" r="2.7" fill="#1a1511"/>
<circle cx="477.6" cy="105.5" r="2.7" fill="#1a1511"/>
<circle cx="483.6" cy="101.4" r="2.7" fill="#1a1511"/>
<circle cx="463.5" cy="102.0" r="2.7" fill="#1a1511"/>
<circle cx="464.8" cy="106.0" r="2.7" fill="#1a1511"/>
<circle cx="413.4" cy="100.7" r="2.7" fill="#1a1511"/>
<circle cx="414.0" cy="104.5" r="2.7" fill="#1a1511"/>
<circle cx="414.7" cy="107.0" r="2.7" fill="#1a1511"/>
<circle cx="417.2" cy="126.0" r="2.7" fill="#1a1511"/>
<circle cx="425.5" cy="127.3" r="2.7" fill="#1a1511"/>
<circle cx="430.5" cy="126.0" r="2.7" fill="#1a1511"/>
<circle cx="433.0" cy="125.4" r="2.7" fill="#1a1511"/>
<circle cx="439.4" cy="128.0" r="2.7" fill="#1a1511"/>
<circle cx="443.2" cy="129.2" r="2.7" fill="#1a1511"/>
<circle cx="447.0" cy="127.3" r="2.7" fill="#1a1511"/>
<circle cx="411.5" cy="135.0" r="2.7" fill="#1a1511"/>
<circle cx="421.6" cy="134.3" r="2.7" fill="#1a1511"/>
<circle cx="449.0" cy="134.3" r="2.7" fill="#1a1511"/>
<circle cx="448.0" cy="95.0" r="2.7" fill="#4e3d1c"/>
<circle cx="451.0" cy="94.0" r="2.7" fill="#4e3d1c"/>
<circle cx="454.0" cy="93.5" r="2.7" fill="#4e3d1c"/>
<circle cx="457.0" cy="93.0" r="2.7" fill="#4e3d1c"/>
<circle cx="460.0" cy="92.5" r="2.7" fill="#4e3d1c"/>
<circle cx="462.0" cy="92.0" r="2.7" fill="#4e3d1c"/>
<circle cx="475.6" cy="94.7" r="2.7" fill="#4e3d1c"/>
<circle cx="509.3" cy="105.4" r="2.7" fill="#1a1511"/>
<circle cx="508.9" cy="89.7" r="2.7" fill="#2a2116"/>
<circle cx="507.6" cy="98.4" r="2.7" fill="#3a2d18"/>
<circle cx="503.9" cy="104.4" r="2.7" fill="#1a1511"/>
<circle cx="505.4" cy="93.0" r="2.7" fill="#1a1511"/>
<circle cx="510.8" cy="99.8" r="2.7" fill="#2a2116"/>
<circle cx="501.5" cy="100.1" r="2.7" fill="#3a2d18"/>
<circle cx="502.5" cy="105.1" r="2.7" fill="#3a2d18"/>
<circle cx="500.1" cy="97.5" r="2.7" fill="#2a2116"/>
<circle cx="503.7" cy="97.2" r="2.7" fill="#1a1511"/>
<circle cx="504.8" cy="90.9" r="2.7" fill="#2a2116"/>
<circle cx="508.1" cy="104.9" r="2.7" fill="#2a2116"/>
<circle cx="511.4" cy="100.8" r="2.7" fill="#2a2116"/>
<circle cx="509.8" cy="107.3" r="2.7" fill="#1a1511"/>
<circle cx="511.1" cy="107.2" r="2.7" fill="#3a2d18"/>
<circle cx="506.5" cy="108.4" r="2.7" fill="#3a2d18"/>
<circle cx="511.7" cy="89.6" r="2.7" fill="#1a1511"/>
<circle cx="502.2" cy="97.6" r="2.7" fill="#1a1511"/>
<circle cx="506.7" cy="90.8" r="2.7" fill="#3a2d18"/>
<circle cx="505.8" cy="91.3" r="2.7" fill="#3a2d18"/>
<circle cx="502.5" cy="103.4" r="2.7" fill="#1a1511"/>
<circle cx="505.3" cy="91.8" r="2.7" fill="#2a2116"/>
<circle cx="509.8" cy="106.5" r="2.7" fill="#3a2d18"/>
<circle cx="499.2" cy="104.6" r="2.7" fill="#2a2116"/>
<circle cx="507.4" cy="100.2" r="2.7" fill="#3a2d18"/>
<circle cx="507.1" cy="95.1" r="2.7" fill="#1a1511"/>
<circle cx="505.9" cy="94.8" r="2.7" fill="#3a2d18"/>
<circle cx="512.0" cy="90.1" r="2.7" fill="#1a1511"/>
<circle cx="506.7" cy="109.0" r="2.7" fill="#2a2116"/>
<circle cx="511.8" cy="93.9" r="2.7" fill="#2a2116"/>
<circle cx="510.6" cy="102.4" r="2.7" fill="#1a1511"/>
<circle cx="504.8" cy="105.6" r="2.7" fill="#2a2116"/>
<circle cx="505.7" cy="98.4" r="2.7" fill="#3a2d18"/>
<circle cx="509.6" cy="107.8" r="2.7" fill="#2a2116"/>
<circle cx="508.7" cy="94.3" r="2.7" fill="#1a1511"/>
<circle cx="508.4" cy="108.3" r="2.7" fill="#2a2116"/>
<circle cx="499.3" cy="91.5" r="2.7" fill="#3a2d18"/>
<circle cx="509.4" cy="92.8" r="2.7" fill="#3a2d18"/>
<circle cx="504.9" cy="107.6" r="2.7" fill="#1a1511"/>
<circle cx="511.8" cy="107.5" r="2.7" fill="#1a1511"/>
<circle cx="490.4" cy="102.8" r="2.7" fill="#8a6a34"/>
<circle cx="494.4" cy="102.0" r="2.7" fill="#8a6a34"/>
<circle cx="492.0" cy="105.0" r="2.7" fill="#8a6a34"/>
<circle cx="441.6" cy="112.5" r="2.7" fill="#1a1511"/>
<circle cx="413.2" cy="116.4" r="2.7" fill="#2a2116"/>
<circle cx="470.9" cy="120.1" r="2.7" fill="#1a1511"/>
<circle cx="409.2" cy="115.3" r="2.7" fill="#1a1511"/>
<circle cx="432.2" cy="116.5" r="2.7" fill="#1a1511"/>
<circle cx="498.4" cy="112.2" r="2.7" fill="#1a1511"/>
<circle cx="476.3" cy="116.8" r="2.7" fill="#1a1511"/>
<circle cx="470.2" cy="115.0" r="2.7" fill="#1a1511"/>
<circle cx="410.3" cy="119.6" r="2.7" fill="#2a2116"/>
<circle cx="452.4" cy="116.4" r="2.7" fill="#2a2116"/>
<circle cx="468.3" cy="117.8" r="2.7" fill="#1a1511"/>
<circle cx="470.7" cy="117.4" r="2.7" fill="#2a2116"/>
<circle cx="416.0" cy="118.1" r="2.7" fill="#1a1511"/>
<circle cx="474.9" cy="116.0" r="2.7" fill="#2a2116"/>
<circle cx="492.8" cy="115.7" r="2.7" fill="#2a2116"/>
<circle cx="445.9" cy="113.5" r="2.7" fill="#1a1511"/>
<circle cx="484.0" cy="113.4" r="2.7" fill="#2a2116"/>
<circle cx="464.3" cy="119.8" r="2.7" fill="#2a2116"/>
<circle cx="437.5" cy="120.8" r="2.7" fill="#1a1511"/>
<circle cx="462.8" cy="112.6" r="2.7" fill="#2a2116"/>
<circle cx="422.2" cy="115.9" r="2.7" fill="#1a1511"/>
<circle cx="513.7" cy="111.8" r="2.7" fill="#2a2116"/>
<circle cx="443.4" cy="114.5" r="2.7" fill="#2a2116"/>
<circle cx="470.5" cy="115.6" r="2.7" fill="#1a1511"/>
<circle cx="511.7" cy="115.7" r="2.7" fill="#1a1511"/>
<circle cx="411.9" cy="118.0" r="2.7" fill="#2a2116"/>
<circle cx="437.2" cy="114.9" r="2.7" fill="#2a2116"/>
<circle cx="407.5" cy="115.6" r="2.7" fill="#1a1511"/>
<circle cx="474.0" cy="115.9" r="2.7" fill="#1a1511"/>
<circle cx="491.8" cy="112.3" r="2.7" fill="#1a1511"/>
<circle cx="450.0" cy="120.2" r="2.7" fill="#2a2116"/>
<circle cx="414.1" cy="115.5" r="2.7" fill="#2a2116"/>
<circle cx="504.8" cy="119.2" r="2.7" fill="#2a2116"/>
<circle cx="484.8" cy="120.9" r="2.7" fill="#2a2116"/>
<circle cx="513.2" cy="112.5" r="2.7" fill="#1a1511"/>
<circle cx="422.1" cy="117.6" r="2.7" fill="#1a1511"/>
<circle cx="459.8" cy="116.9" r="2.7" fill="#2a2116"/>
<circle cx="436.9" cy="112.5" r="2.7" fill="#2a2116"/>
<circle cx="473.9" cy="114.2" r="2.7" fill="#1a1511"/>
<circle cx="483.0" cy="116.2" r="2.7" fill="#1a1511"/>
<circle cx="456.6" cy="119.7" r="2.7" fill="#2a2116"/>
<circle cx="450.0" cy="114.9" r="2.7" fill="#2a2116"/>
<circle cx="476.7" cy="111.6" r="2.7" fill="#1a1511"/>
<circle cx="516.3" cy="115.4" r="2.7" fill="#1a1511"/>
<circle cx="443.4" cy="111.5" r="2.7" fill="#1a1511"/>
<circle cx="469.0" cy="116.4" r="2.7" fill="#2a2116"/>
<circle cx="474.4" cy="111.7" r="2.7" fill="#1a1511"/>
<circle cx="474.4" cy="112.5" r="2.7" fill="#2a2116"/>
<circle cx="513.0" cy="117.0" r="2.7" fill="#2a2116"/>
<circle cx="418.9" cy="119.5" r="2.7" fill="#2a2116"/>
<circle cx="459.3" cy="114.1" r="2.7" fill="#1a1511"/>
<circle cx="416.5" cy="114.4" r="2.7" fill="#2a2116"/>
<circle cx="459.1" cy="117.9" r="2.7" fill="#1a1511"/>
<circle cx="428.2" cy="120.5" r="2.7" fill="#2a2116"/>
<circle cx="421.6" cy="116.4" r="2.7" fill="#1a1511"/>
<circle cx="490.7" cy="114.0" r="2.7" fill="#1a1511"/>
<circle cx="483.7" cy="113.6" r="2.7" fill="#2a2116"/>
<circle cx="507.6" cy="114.6" r="2.7" fill="#1a1511"/>
<circle cx="465.2" cy="118.8" r="2.7" fill="#2a2116"/>
<circle cx="476.9" cy="117.1" r="2.7" fill="#1a1511"/>
<circle cx="496.1" cy="119.2" r="2.7" fill="#1a1511"/>
<circle cx="427.6" cy="115.9" r="2.7" fill="#1a1511"/>
<circle cx="516.8" cy="118.9" r="2.7" fill="#2a2116"/>
<circle cx="434.3" cy="117.9" r="2.7" fill="#2a2116"/>
<circle cx="455.5" cy="120.4" r="2.7" fill="#2a2116"/>
<circle cx="512.9" cy="114.6" r="2.7" fill="#1a1511"/>
<circle cx="416.5" cy="115.7" r="2.7" fill="#2a2116"/>
<circle cx="428.1" cy="117.2" r="2.7" fill="#1a1511"/>
<circle cx="459.2" cy="117.5" r="2.7" fill="#1a1511"/>
<circle cx="499.3" cy="112.2" r="2.7" fill="#2a2116"/>
<circle cx="493.4" cy="118.5" r="2.7" fill="#2a2116"/>
<circle cx="505.5" cy="115.3" r="2.7" fill="#2a2116"/>
<circle cx="414.8" cy="120.5" r="2.7" fill="#2a2116"/>
<circle cx="457.3" cy="118.4" r="2.7" fill="#1a1511"/>
<circle cx="486.9" cy="112.7" r="2.7" fill="#1a1511"/>
<circle cx="408.1" cy="116.9" r="2.7" fill="#2a2116"/>
<circle cx="496.1" cy="112.5" r="2.7" fill="#2a2116"/>
<circle cx="479.3" cy="114.5" r="2.7" fill="#1a1511"/>
<circle cx="407.4" cy="119.0" r="2.7" fill="#1a1511"/>
<circle cx="464.5" cy="120.3" r="2.7" fill="#2a2116"/>
<circle cx="516.5" cy="112.9" r="2.7" fill="#1a1511"/>
<circle cx="408.2" cy="113.1" r="2.7" fill="#1a1511"/>
<circle cx="491.3" cy="114.3" r="2.7" fill="#2a2116"/>
<circle cx="499.3" cy="111.6" r="2.7" fill="#2a2116"/>
<circle cx="506.4" cy="117.6" r="2.7" fill="#2a2116"/>
<circle cx="498.5" cy="119.8" r="2.7" fill="#1a1511"/>
<circle cx="465.1" cy="116.2" r="2.7" fill="#1a1511"/>
<circle cx="503.6" cy="118.8" r="2.7" fill="#1a1511"/>
<circle cx="492.7" cy="112.5" r="2.7" fill="#1a1511"/>
<circle cx="458.5" cy="118.3" r="2.7" fill="#1a1511"/>
<circle cx="441.8" cy="116.2" r="2.7" fill="#2a2116"/>
<circle cx="493.6" cy="112.1" r="2.7" fill="#1a1511"/>
<circle cx="433.1" cy="113.8" r="2.7" fill="#1a1511"/>
<circle cx="462.4" cy="116.6" r="2.7" fill="#1a1511"/>
<circle cx="455.1" cy="117.1" r="2.7" fill="#1a1511"/>
<circle cx="483.3" cy="115.5" r="2.7" fill="#2a2116"/>
<circle cx="462.4" cy="113.5" r="2.7" fill="#2a2116"/>
<circle cx="509.3" cy="119.9" r="2.7" fill="#1a1511"/>
<circle cx="499.9" cy="112.4" r="2.7" fill="#1a1511"/>
<circle cx="449.3" cy="114.2" r="2.7" fill="#1a1511"/>
<circle cx="453.4" cy="113.1" r="2.7" fill="#2a2116"/>
<circle cx="493.6" cy="120.0" r="2.7" fill="#1a1511"/>
<circle cx="511.2" cy="117.4" r="2.7" fill="#2a2116"/>
<circle cx="421.2" cy="119.8" r="2.7" fill="#2a2116"/>
<circle cx="429.8" cy="120.5" r="2.7" fill="#2a2116"/>
<circle cx="505.0" cy="112.6" r="2.7" fill="#1a1511"/>
<circle cx="423.2" cy="115.3" r="2.7" fill="#2a2116"/>
<circle cx="443.3" cy="113.0" r="2.7" fill="#2a2116"/>
<circle cx="415.4" cy="114.7" r="2.7" fill="#2a2116"/>
<circle cx="467.6" cy="115.4" r="2.7" fill="#1a1511"/>
<circle cx="448.4" cy="116.2" r="2.7" fill="#2a2116"/>
<circle cx="462.9" cy="111.6" r="2.7" fill="#1a1511"/>
<circle cx="514.8" cy="112.0" r="2.7" fill="#2a2116"/>
<circle cx="435.7" cy="120.1" r="2.7" fill="#1a1511"/>
<circle cx="435.6" cy="112.3" r="2.7" fill="#2a2116"/>
<circle cx="501.0" cy="117.8" r="2.7" fill="#2a2116"/>
<circle cx="450.9" cy="116.4" r="2.7" fill="#2a2116"/>
<circle cx="484.1" cy="111.9" r="2.7" fill="#1a1511"/>
<circle cx="495.4" cy="112.8" r="2.7" fill="#1a1511"/>
<circle cx="435.4" cy="111.2" r="2.7" fill="#1a1511"/>
<circle cx="495.6" cy="111.8" r="2.7" fill="#1a1511"/>
<circle cx="412.5" cy="119.6" r="2.7" fill="#2a2116"/>
<circle cx="406.3" cy="120.9" r="2.7" fill="#2a2116"/>
<circle cx="509.7" cy="113.7" r="2.7" fill="#1a1511"/>
<circle cx="409.9" cy="118.1" r="2.7" fill="#1a1511"/>
<circle cx="514.5" cy="113.6" r="2.7" fill="#1a1511"/>
<circle cx="427.8" cy="114.1" r="2.7" fill="#2a2116"/>
<circle cx="465.0" cy="113.1" r="2.7" fill="#2a2116"/>
<circle cx="461.5" cy="112.8" r="2.7" fill="#2a2116"/>
<circle cx="495.8" cy="120.9" r="2.7" fill="#1a1511"/>
<circle cx="406.0" cy="110.0" r="2.7" fill="#1a1511"/>
<circle cx="409.5" cy="109.5" r="2.7" fill="#1a1511"/>
<circle cx="413.0" cy="110.0" r="2.7" fill="#1a1511"/>
<circle cx="416.5" cy="109.0" r="2.7" fill="#1a1511"/>
<circle cx="420.0" cy="110.0" r="2.7" fill="#1a1511"/>
<circle cx="423.5" cy="109.5" r="2.7" fill="#1a1511"/>
<circle cx="427.0" cy="110.5" r="2.7" fill="#1a1511"/>
<circle cx="430.5" cy="109.5" r="2.7" fill="#1a1511"/>
<circle cx="434.0" cy="110.0" r="2.7" fill="#1a1511"/>
<circle cx="437.5" cy="109.0" r="2.7" fill="#1a1511"/>
<circle cx="441.0" cy="110.0" r="2.7" fill="#1a1511"/>
<circle cx="444.5" cy="109.5" r="2.7" fill="#1a1511"/>
<circle cx="448.0" cy="110.5" r="2.7" fill="#1a1511"/>
<circle cx="451.5" cy="109.5" r="2.7" fill="#1a1511"/>
<circle cx="455.0" cy="110.0" r="2.7" fill="#1a1511"/>
<circle cx="470.7" cy="121.4" r="2.7" fill="#4e3d1c"/>
<circle cx="469.6" cy="106.7" r="2.7" fill="#4e3d1c"/>
<circle cx="471.4" cy="122.0" r="2.7" fill="#4e3d1c"/>
<circle cx="476.6" cy="106.5" r="2.7" fill="#2a2116"/>
<circle cx="478.4" cy="113.9" r="2.7" fill="#4e3d1c"/>
<circle cx="493.5" cy="112.4" r="2.7" fill="#2a2116"/>
<circle cx="471.0" cy="106.3" r="2.7" fill="#2a2116"/>
<circle cx="480.7" cy="113.6" r="2.7" fill="#2a2116"/>
<circle cx="487.7" cy="116.6" r="2.7" fill="#4e3d1c"/>
<circle cx="496.7" cy="107.0" r="2.7" fill="#6b5530"/>
<circle cx="491.2" cy="107.7" r="2.7" fill="#4e3d1c"/>
<circle cx="474.5" cy="117.1" r="2.7" fill="#2a2116"/>
<circle cx="493.7" cy="114.3" r="2.7" fill="#4e3d1c"/>
<circle cx="482.8" cy="108.3" r="2.7" fill="#4e3d1c"/>
<circle cx="481.4" cy="106.6" r="2.7" fill="#6b5530"/>
<circle cx="469.6" cy="121.1" r="2.7" fill="#6b5530"/>
<circle cx="478.5" cy="115.3" r="2.7" fill="#2a2116"/>
<circle cx="472.7" cy="111.7" r="2.7" fill="#2a2116"/>
<circle cx="467.6" cy="118.2" r="2.7" fill="#4e3d1c"/>
<circle cx="481.1" cy="111.0" r="2.7" fill="#2a2116"/>
<circle cx="495.3" cy="119.5" r="2.7" fill="#6b5530"/>
<circle cx="484.2" cy="110.9" r="2.7" fill="#2a2116"/>
<circle cx="481.0" cy="114.2" r="2.7" fill="#4e3d1c"/>
<circle cx="490.5" cy="119.7" r="2.7" fill="#6b5530"/>
<circle cx="481.5" cy="111.5" r="2.7" fill="#4e3d1c"/>
<circle cx="473.1" cy="109.5" r="2.7" fill="#4e3d1c"/>
<circle cx="477.4" cy="112.0" r="2.7" fill="#6b5530"/>
<circle cx="493.3" cy="108.8" r="2.7" fill="#2a2116"/>
<circle cx="467.0" cy="120.9" r="2.7" fill="#4e3d1c"/>
<circle cx="469.9" cy="118.3" r="2.7" fill="#2a2116"/>
<circle cx="467.0" cy="118.7" r="2.7" fill="#2a2116"/>
<circle cx="474.6" cy="108.7" r="2.7" fill="#2a2116"/>
<circle cx="493.8" cy="108.2" r="2.7" fill="#6b5530"/>
<circle cx="478.2" cy="112.7" r="2.7" fill="#6b5530"/>
<circle cx="465.4" cy="117.5" r="2.7" fill="#4e3d1c"/>
<circle cx="465.9" cy="107.7" r="2.7" fill="#6b5530"/>
<circle cx="480.9" cy="108.5" r="2.7" fill="#6b5530"/>
<circle cx="479.6" cy="108.4" r="2.7" fill="#6b5530"/>
<circle cx="465.1" cy="106.3" r="2.7" fill="#4e3d1c"/>
<circle cx="474.6" cy="116.5" r="2.7" fill="#4e3d1c"/>
<circle cx="482.6" cy="126.2" r="2.7" fill="#1a1511"/>
<circle cx="464.3" cy="130.5" r="2.7" fill="#1a1511"/>
<circle cx="485.2" cy="133.6" r="2.7" fill="#1a1511"/>
<circle cx="474.0" cy="134.1" r="2.7" fill="#2a2116"/>
<circle cx="454.7" cy="126.3" r="2.7" fill="#2a2116"/>
<circle cx="514.5" cy="134.3" r="2.7" fill="#1a1511"/>
<circle cx="462.4" cy="124.3" r="2.7" fill="#1a1511"/>
<circle cx="460.7" cy="133.2" r="2.7" fill="#2a2116"/>
<circle cx="456.2" cy="130.6" r="2.7" fill="#2a2116"/>
<circle cx="510.6" cy="133.9" r="2.7" fill="#1a1511"/>
<circle cx="496.5" cy="131.2" r="2.7" fill="#1a1511"/>
<circle cx="510.7" cy="131.8" r="2.7" fill="#1a1511"/>
<circle cx="478.2" cy="125.8" r="2.7" fill="#1a1511"/>
<circle cx="465.2" cy="133.4" r="2.7" fill="#1a1511"/>
<circle cx="455.6" cy="126.3" r="2.7" fill="#1a1511"/>
<circle cx="461.2" cy="124.3" r="2.7" fill="#2a2116"/>
<circle cx="511.8" cy="122.6" r="2.7" fill="#2a2116"/>
<circle cx="452.3" cy="131.7" r="2.7" fill="#1a1511"/>
<circle cx="511.1" cy="123.8" r="2.7" fill="#1a1511"/>
<circle cx="510.9" cy="122.9" r="2.7" fill="#1a1511"/>
<circle cx="485.1" cy="129.0" r="2.7" fill="#2a2116"/>
<circle cx="512.8" cy="126.9" r="2.7" fill="#1a1511"/>
<circle cx="464.7" cy="131.7" r="2.7" fill="#2a2116"/>
<circle cx="490.3" cy="123.4" r="2.7" fill="#2a2116"/>
<circle cx="499.5" cy="121.6" r="2.7" fill="#1a1511"/>
<circle cx="488.6" cy="129.5" r="2.7" fill="#1a1511"/>
<circle cx="501.2" cy="131.3" r="2.7" fill="#2a2116"/>
<circle cx="517.9" cy="122.7" r="2.7" fill="#2a2116"/>
<circle cx="478.6" cy="133.7" r="2.7" fill="#1a1511"/>
<circle cx="492.3" cy="121.6" r="2.7" fill="#1a1511"/>
<circle cx="507.8" cy="128.3" r="2.7" fill="#2a2116"/>
<circle cx="503.1" cy="122.2" r="2.7" fill="#1a1511"/>
<circle cx="459.3" cy="133.3" r="2.7" fill="#1a1511"/>
<circle cx="481.8" cy="126.6" r="2.7" fill="#2a2116"/>
<circle cx="501.2" cy="126.3" r="2.7" fill="#2a2116"/>
<circle cx="473.7" cy="127.1" r="2.7" fill="#1a1511"/>
<circle cx="466.6" cy="124.8" r="2.7" fill="#1a1511"/>
<circle cx="472.3" cy="125.0" r="2.7" fill="#2a2116"/>
<circle cx="503.8" cy="121.4" r="2.7" fill="#2a2116"/>
<circle cx="505.3" cy="128.0" r="2.7" fill="#2a2116"/>
<circle cx="503.3" cy="128.9" r="2.7" fill="#1a1511"/>
<circle cx="480.1" cy="124.2" r="2.7" fill="#1a1511"/>
<circle cx="485.7" cy="134.4" r="2.7" fill="#2a2116"/>
<circle cx="476.4" cy="130.3" r="2.7" fill="#1a1511"/>
<circle cx="497.7" cy="133.3" r="2.7" fill="#1a1511"/>
<circle cx="455.3" cy="134.7" r="2.7" fill="#1a1511"/>
<circle cx="469.4" cy="123.3" r="2.7" fill="#1a1511"/>
<circle cx="492.0" cy="121.2" r="2.7" fill="#1a1511"/>
<circle cx="481.7" cy="132.0" r="2.7" fill="#1a1511"/>
<circle cx="492.4" cy="134.5" r="2.7" fill="#1a1511"/>
<circle cx="470.8" cy="127.7" r="2.7" fill="#1a1511"/>
<circle cx="461.1" cy="122.2" r="2.7" fill="#2a2116"/>
<circle cx="471.5" cy="122.7" r="2.7" fill="#1a1511"/>
<circle cx="481.8" cy="130.9" r="2.7" fill="#1a1511"/>
<circle cx="490.8" cy="132.2" r="2.7" fill="#2a2116"/>
<circle cx="499.2" cy="131.8" r="2.7" fill="#2a2116"/>
<circle cx="484.6" cy="122.4" r="2.7" fill="#1a1511"/>
<circle cx="470.3" cy="122.8" r="2.7" fill="#2a2116"/>
<circle cx="506.1" cy="123.3" r="2.7" fill="#1a1511"/>
<circle cx="508.7" cy="123.8" r="2.7" fill="#1a1511"/>
<circle cx="482.1" cy="128.8" r="2.7" fill="#1a1511"/>
<circle cx="457.5" cy="128.7" r="2.7" fill="#2a2116"/>
<circle cx="514.5" cy="128.5" r="2.7" fill="#2a2116"/>
<circle cx="453.9" cy="134.9" r="2.7" fill="#1a1511"/>
<circle cx="487.9" cy="128.3" r="2.7" fill="#2a2116"/>
<circle cx="494.3" cy="132.1" r="2.7" fill="#2a2116"/>
<circle cx="489.9" cy="134.4" r="2.7" fill="#1a1511"/>
<circle cx="499.8" cy="131.1" r="2.7" fill="#1a1511"/>
<circle cx="458.6" cy="127.9" r="2.7" fill="#1a1511"/>
<circle cx="484.4" cy="129.9" r="2.7" fill="#1a1511"/>
<circle cx="496.8" cy="121.4" r="2.7" fill="#1a1511"/>
<circle cx="510.0" cy="124.2" r="2.7" fill="#2a2116"/>
<circle cx="489.8" cy="127.9" r="2.7" fill="#1a1511"/>
<circle cx="454.4" cy="129.4" r="2.7" fill="#2a2116"/>
<circle cx="455.1" cy="126.7" r="2.7" fill="#2a2116"/>
<circle cx="456.6" cy="123.6" r="2.7" fill="#2a2116"/>
<circle cx="501.7" cy="122.2" r="2.7" fill="#1a1511"/>
<circle cx="475.4" cy="127.6" r="2.7" fill="#2a2116"/>
<circle cx="483.3" cy="130.8" r="2.7" fill="#1a1511"/>
<circle cx="474.0" cy="132.0" r="2.7" fill="#1a1511"/>
<circle cx="486.9" cy="153.8" r="2.7" fill="#e2201c"/>
<circle cx="491.2" cy="150.6" r="2.7" fill="#e2201c"/>
<circle cx="494.4" cy="152.5" r="2.7" fill="#e2201c"/>
<circle cx="497.5" cy="153.1" r="2.7" fill="#e2201c"/>
<circle cx="492.5" cy="156.2" r="2.7" fill="#e2201c"/>
<circle cx="496.2" cy="157.5" r="2.7" fill="#e2201c"/>
<circle cx="498.1" cy="161.2" r="2.7" fill="#e2201c"/>
<circle cx="470.6" cy="160.0" r="2.7" fill="#e0842e"/>
<circle cx="480.0" cy="161.9" r="2.7" fill="#e0842e"/>
<circle cx="510.0" cy="189.4" r="2.7" fill="#e0842e"/>
<circle cx="513.1" cy="190.6" r="2.7" fill="#e0842e"/>
<circle cx="470.0" cy="178.1" r="2.7" fill="#e6a83a"/>
<circle cx="483.8" cy="179.0" r="2.7" fill="#b5862c"/>
<circle cx="488.0" cy="181.9" r="2.7" fill="#1a1511"/>
<circle cx="492.5" cy="181.2" r="2.7" fill="#1a1511"/>
<circle cx="496.9" cy="181.2" r="2.7" fill="#1a1511"/>
<circle cx="495.0" cy="187.5" r="2.7" fill="#1a1511"/>
<circle cx="491.9" cy="193.1" r="2.7" fill="#1a1511"/>
<circle cx="497.5" cy="193.1" r="2.7" fill="#1a1511"/>
<circle cx="494.4" cy="201.2" r="2.7" fill="#1a1511"/>
<circle cx="496.2" cy="203.1" r="2.7" fill="#1a1511"/>
<circle cx="496.2" cy="210.6" r="2.7" fill="#1a1511"/>
<circle cx="446.9" cy="194.8" r="2.7" fill="#1a1511"/>
<circle cx="488.1" cy="207.5" r="2.7" fill="#7d6026"/>
<circle cx="488.4" cy="207.7" r="2.7" fill="#7d6026"/>
<circle cx="411.9" cy="218.1" r="2.7" fill="#1a1511"/>
<circle cx="416.2" cy="225.0" r="2.7" fill="#1a1511"/>
<circle cx="448.8" cy="216.2" r="2.7" fill="#1a1511"/>
<circle cx="450.6" cy="221.9" r="2.7" fill="#1a1511"/>
<circle cx="453.8" cy="223.8" r="2.7" fill="#1a1511"/>
<circle cx="455.0" cy="226.2" r="2.7" fill="#1a1511"/>
<circle cx="447.5" cy="248.8" r="2.7" fill="#1a1511"/>
<circle cx="496.4" cy="210.4" r="2.7" fill="#1a1511"/>
<circle cx="486.3" cy="214.4" r="2.7" fill="#1a1511"/>
<circle cx="460.8" cy="214.4" r="2.7" fill="#1a1511"/>
<circle cx="464.8" cy="218.5" r="2.7" fill="#1a1511"/>
<circle cx="468.8" cy="222.5" r="2.7" fill="#1a1511"/>
<circle cx="491.0" cy="221.8" r="2.7" fill="#1a1511"/>
<circle cx="491.0" cy="229.2" r="2.7" fill="#1a1511"/>
<circle cx="504.5" cy="222.5" r="2.7" fill="#1a1511"/>
<circle cx="514.6" cy="226.5" r="2.7" fill="#1a1511"/>
<circle cx="451.3" cy="221.2" r="2.7" fill="#1a1511"/>
<circle cx="454.0" cy="223.8" r="2.7" fill="#1a1511"/>
<circle cx="454.0" cy="227.2" r="2.7" fill="#1a1511"/>
<circle cx="460.0" cy="226.5" r="2.7" fill="#1a1511"/>
<circle cx="478.3" cy="235.3" r="2.7" fill="#1a1511"/>
<circle cx="495.8" cy="254.8" r="2.7" fill="#1a1511"/>
<circle cx="426.2" cy="262.5" r="2.7" fill="#1a1511"/>
<circle cx="428.8" cy="260.6" r="2.7" fill="#1a1511"/>
<circle cx="421.2" cy="268.8" r="2.7" fill="#1a1511"/>
<circle cx="477.6" cy="269.6" r="2.7" fill="#1a1511"/>
<circle cx="481.0" cy="269.6" r="2.7" fill="#1a1511"/>
<circle cx="457.5" cy="230.0" r="2.7" fill="#d89a30"/>
<circle cx="453.8" cy="242.5" r="2.7" fill="#7d6026"/>
<circle cx="458.0" cy="229.9" r="2.7" fill="#a08038"/>
<circle cx="475.6" cy="221.2" r="2.7" fill="#4e3d1c"/>
<circle cx="476.2" cy="223.2" r="2.7" fill="#4e3d1c"/>
<circle cx="433.9" cy="233.1" r="2.7" fill="#1a1511"/>
<circle cx="413.1" cy="233.6" r="2.7" fill="#2a2116"/>
<circle cx="443.4" cy="235.8" r="2.7" fill="#1a1511"/>
<circle cx="413.8" cy="233.9" r="2.7" fill="#1a1511"/>
<circle cx="421.9" cy="239.4" r="2.7" fill="#2a2116"/>
<circle cx="414.2" cy="238.3" r="2.7" fill="#1a1511"/>
<circle cx="425.8" cy="233.1" r="2.7" fill="#1a1511"/>
<circle cx="422.3" cy="230.1" r="2.7" fill="#2a2116"/>
<circle cx="437.3" cy="229.6" r="2.7" fill="#1a1511"/>
<circle cx="448.9" cy="235.4" r="2.7" fill="#1a1511"/>
<circle cx="434.4" cy="230.8" r="2.7" fill="#1a1511"/>
<circle cx="447.8" cy="231.6" r="2.7" fill="#2a2116"/>
<circle cx="441.5" cy="230.9" r="2.7" fill="#1a1511"/>
<circle cx="433.1" cy="233.2" r="2.7" fill="#1a1511"/>
<circle cx="437.0" cy="231.9" r="2.7" fill="#1a1511"/>
<circle cx="418.4" cy="230.7" r="2.7" fill="#2a2116"/>
<circle cx="421.4" cy="228.4" r="2.7" fill="#2a2116"/>
<circle cx="443.2" cy="235.9" r="2.7" fill="#1a1511"/>
<circle cx="447.2" cy="229.0" r="2.7" fill="#2a2116"/>
<circle cx="433.8" cy="232.5" r="2.7" fill="#1a1511"/>
<circle cx="418.1" cy="239.6" r="2.7" fill="#1a1511"/>
<circle cx="429.1" cy="239.8" r="2.7" fill="#1a1511"/>
<circle cx="448.0" cy="233.2" r="2.7" fill="#2a2116"/>
<circle cx="429.2" cy="236.2" r="2.7" fill="#1a1511"/>
<circle cx="435.6" cy="230.1" r="2.7" fill="#1a1511"/>
<circle cx="422.5" cy="231.6" r="2.7" fill="#1a1511"/>
<circle cx="436.8" cy="237.9" r="2.7" fill="#1a1511"/>
<circle cx="430.5" cy="232.2" r="2.7" fill="#2a2116"/>
<circle cx="420.9" cy="234.5" r="2.7" fill="#1a1511"/>
<circle cx="424.9" cy="231.8" r="2.7" fill="#1a1511"/>
<circle cx="422.3" cy="232.9" r="2.7" fill="#1a1511"/>
<circle cx="427.1" cy="238.4" r="2.7" fill="#1a1511"/>
<circle cx="446.0" cy="236.8" r="2.7" fill="#2a2116"/>
<circle cx="432.0" cy="235.2" r="2.7" fill="#1a1511"/>
<circle cx="418.7" cy="236.1" r="2.7" fill="#2a2116"/>
<circle cx="417.6" cy="234.5" r="2.7" fill="#2a2116"/>
<circle cx="432.7" cy="233.9" r="2.7" fill="#1a1511"/>
<circle cx="433.5" cy="229.2" r="2.7" fill="#2a2116"/>
<circle cx="443.6" cy="238.5" r="2.7" fill="#2a2116"/>
<circle cx="432.6" cy="228.6" r="2.7" fill="#1a1511"/>
<circle cx="418.2" cy="235.3" r="2.7" fill="#2a2116"/>
<circle cx="417.7" cy="238.3" r="2.7" fill="#1a1511"/>
<circle cx="447.1" cy="232.1" r="2.7" fill="#2a2116"/>
<circle cx="446.2" cy="236.4" r="2.7" fill="#2a2116"/>
<circle cx="424.8" cy="234.2" r="2.7" fill="#1a1511"/>
<circle cx="418.3" cy="230.8" r="2.7" fill="#1a1511"/>
<circle cx="413.7" cy="230.3" r="2.7" fill="#1a1511"/>
<circle cx="434.1" cy="235.5" r="2.7" fill="#1a1511"/>
<circle cx="442.8" cy="239.5" r="2.7" fill="#2a2116"/>
<circle cx="444.4" cy="231.0" r="2.7" fill="#2a2116"/>
<circle cx="445.8" cy="228.6" r="2.7" fill="#1a1511"/>
<circle cx="441.3" cy="239.5" r="2.7" fill="#2a2116"/>
<circle cx="418.6" cy="233.7" r="2.7" fill="#2a2116"/>
<circle cx="434.8" cy="239.0" r="2.7" fill="#1a1511"/>
<circle cx="449.5" cy="230.2" r="2.7" fill="#1a1511"/>
<circle cx="414.1" cy="250.8" r="2.7" fill="#2a2116"/>
<circle cx="414.1" cy="255.0" r="2.7" fill="#1a1511"/>
<circle cx="409.3" cy="250.2" r="2.7" fill="#1a1511"/>
<circle cx="417.1" cy="245.6" r="2.7" fill="#2a2116"/>
<circle cx="411.5" cy="244.3" r="2.7" fill="#1a1511"/>
<circle cx="417.4" cy="251.3" r="2.7" fill="#2a2116"/>
<circle cx="423.4" cy="252.2" r="2.7" fill="#1a1511"/>
<circle cx="417.7" cy="251.7" r="2.7" fill="#1a1511"/>
<circle cx="407.1" cy="243.5" r="2.7" fill="#1a1511"/>
<circle cx="416.8" cy="253.9" r="2.7" fill="#2a2116"/>
<circle cx="413.9" cy="254.8" r="2.7" fill="#1a1511"/>
<circle cx="410.2" cy="247.1" r="2.7" fill="#1a1511"/>
<circle cx="417.9" cy="249.4" r="2.7" fill="#2a2116"/>
<circle cx="413.3" cy="250.7" r="2.7" fill="#1a1511"/>
<circle cx="418.7" cy="247.4" r="2.7" fill="#1a1511"/>
<circle cx="415.2" cy="243.4" r="2.7" fill="#1a1511"/>
<circle cx="419.8" cy="248.6" r="2.7" fill="#2a2116"/>
<circle cx="413.0" cy="256.4" r="2.7" fill="#1a1511"/>
<circle cx="406.0" cy="245.9" r="2.7" fill="#1a1511"/>
<circle cx="414.5" cy="256.7" r="2.7" fill="#2a2116"/>
<circle cx="413.6" cy="250.9" r="2.7" fill="#1a1511"/>
<circle cx="420.0" cy="246.8" r="2.7" fill="#1a1511"/>
<circle cx="411.6" cy="243.2" r="2.7" fill="#2a2116"/>
<circle cx="419.6" cy="244.7" r="2.7" fill="#1a1511"/>
<circle cx="418.7" cy="243.2" r="2.7" fill="#2a2116"/>
<circle cx="420.3" cy="245.5" r="2.7" fill="#1a1511"/>
<circle cx="409.4" cy="250.1" r="2.7" fill="#1a1511"/>
<circle cx="419.9" cy="248.9" r="2.7" fill="#2a2116"/>
<circle cx="408.1" cy="248.9" r="2.7" fill="#1a1511"/>
<circle cx="406.0" cy="255.1" r="2.7" fill="#1a1511"/>
<circle cx="411.5" cy="255.4" r="2.7" fill="#1a1511"/>
<circle cx="409.4" cy="256.9" r="2.7" fill="#1a1511"/>
<circle cx="443.4" cy="246.0" r="2.7" fill="#2a2116"/>
<circle cx="440.4" cy="248.6" r="2.7" fill="#1a1511"/>
<circle cx="443.3" cy="251.8" r="2.7" fill="#1a1511"/>
<circle cx="439.8" cy="246.2" r="2.7" fill="#1a1511"/>
<circle cx="440.2" cy="254.5" r="2.7" fill="#1a1511"/>
<circle cx="438.5" cy="246.1" r="2.7" fill="#1a1511"/>
<circle cx="442.5" cy="253.8" r="2.7" fill="#2a2116"/>
<circle cx="443.2" cy="247.4" r="2.7" fill="#1a1511"/>
<circle cx="438.1" cy="251.0" r="2.7" fill="#2a2116"/>
<circle cx="436.6" cy="249.0" r="2.7" fill="#1a1511"/>
<circle cx="437.0" cy="244.4" r="2.7" fill="#2a2116"/>
<circle cx="444.0" cy="247.8" r="2.7" fill="#1a1511"/>
<circle cx="444.5" cy="243.2" r="2.7" fill="#1a1511"/>
<circle cx="439.8" cy="250.0" r="2.7" fill="#1a1511"/>
<circle cx="444.0" cy="252.7" r="2.7" fill="#1a1511"/>
<circle cx="440.5" cy="255.1" r="2.7" fill="#1a1511"/>
<circle cx="437.0" cy="252.6" r="2.7" fill="#1a1511"/>
<circle cx="441.6" cy="256.6" r="2.7" fill="#1a1511"/>
<circle cx="437.5" cy="256.6" r="2.7" fill="#2a2116"/>
<circle cx="440.8" cy="256.2" r="2.7" fill="#1a1511"/>
<circle cx="429.8" cy="253.7" r="2.7" fill="#1a1511"/>
<circle cx="427.6" cy="251.6" r="2.7" fill="#2a2116"/>
<circle cx="433.0" cy="248.6" r="2.7" fill="#1a1511"/>
<circle cx="430.3" cy="247.3" r="2.7" fill="#1a1511"/>
<circle cx="435.6" cy="254.3" r="2.7" fill="#2a2116"/>
<circle cx="427.2" cy="249.0" r="2.7" fill="#1a1511"/>
<circle cx="431.2" cy="256.2" r="2.7" fill="#1a1511"/>
<circle cx="433.0" cy="252.2" r="2.7" fill="#2a2116"/>
<circle cx="431.3" cy="249.5" r="2.7" fill="#1a1511"/>
<circle cx="424.8" cy="249.2" r="2.7" fill="#2a2116"/>
<circle cx="431.8" cy="256.1" r="2.7" fill="#1a1511"/>
<circle cx="435.6" cy="255.3" r="2.7" fill="#1a1511"/>
<circle cx="424.8" cy="249.5" r="2.7" fill="#1a1511"/>
<circle cx="430.7" cy="256.5" r="2.7" fill="#2a2116"/>
<circle cx="431.8" cy="251.3" r="2.7" fill="#1a1511"/>
<circle cx="410.2" cy="266.6" r="2.7" fill="#2a2116"/>
<circle cx="406.6" cy="260.1" r="2.7" fill="#2a2116"/>
<circle cx="410.3" cy="266.4" r="2.7" fill="#2a2116"/>
<circle cx="412.6" cy="266.0" r="2.7" fill="#1a1511"/>
<circle cx="412.3" cy="261.5" r="2.7" fill="#2a2116"/>
<circle cx="409.0" cy="263.4" r="2.7" fill="#1a1511"/>
<circle cx="405.6" cy="268.2" r="2.7" fill="#1a1511"/>
<circle cx="410.6" cy="268.2" r="2.7" fill="#2a2116"/>
<circle cx="413.8" cy="260.9" r="2.7" fill="#1a1511"/>
<circle cx="414.0" cy="266.6" r="2.7" fill="#1a1511"/>
<circle cx="406.0" cy="269.9" r="2.7" fill="#2a2116"/>
<circle cx="406.2" cy="264.2" r="2.7" fill="#1a1511"/>
<circle cx="410.9" cy="268.8" r="2.7" fill="#1a1511"/>
<circle cx="415.7" cy="268.9" r="2.7" fill="#1a1511"/>
<circle cx="410.6" cy="260.8" r="2.7" fill="#2a2116"/>
<circle cx="419.8" cy="275.5" r="2.7" fill="#1a1511"/>
<circle cx="438.5" cy="275.3" r="2.7" fill="#1a1511"/>
<circle cx="437.9" cy="272.2" r="2.7" fill="#1a1511"/>
<circle cx="432.7" cy="272.4" r="2.7" fill="#2a2116"/>
<circle cx="408.9" cy="271.8" r="2.7" fill="#1a1511"/>
<circle cx="454.7" cy="276.4" r="2.7" fill="#1a1511"/>
<circle cx="448.9" cy="276.3" r="2.7" fill="#2a2116"/>
<circle cx="446.8" cy="275.8" r="2.7" fill="#1a1511"/>
<circle cx="445.2" cy="272.7" r="2.7" fill="#1a1511"/>
<circle cx="430.6" cy="275.9" r="2.7" fill="#2a2116"/>
<circle cx="439.4" cy="276.8" r="2.7" fill="#2a2116"/>
<circle cx="438.6" cy="273.2" r="2.7" fill="#2a2116"/>
<circle cx="440.3" cy="274.6" r="2.7" fill="#1a1511"/>
<circle cx="428.4" cy="275.7" r="2.7" fill="#1a1511"/>
<circle cx="421.4" cy="272.2" r="2.7" fill="#2a2116"/>
<circle cx="419.5" cy="274.0" r="2.7" fill="#2a2116"/>
<circle cx="426.3" cy="271.9" r="2.7" fill="#2a2116"/>
<circle cx="433.6" cy="274.7" r="2.7" fill="#1a1511"/>
<circle cx="440.8" cy="271.9" r="2.7" fill="#2a2116"/>
<circle cx="438.4" cy="277.2" r="2.7" fill="#2a2116"/>
<circle cx="407.6" cy="273.8" r="2.7" fill="#1a1511"/>
<circle cx="418.2" cy="274.2" r="2.7" fill="#2a2116"/>
<circle cx="437.9" cy="272.0" r="2.7" fill="#2a2116"/>
<circle cx="442.5" cy="272.6" r="2.7" fill="#2a2116"/>
<circle cx="417.1" cy="276.5" r="2.7" fill="#2a2116"/>
<circle cx="432.2" cy="275.3" r="2.7" fill="#1a1511"/>
<circle cx="441.8" cy="272.4" r="2.7" fill="#1a1511"/>
<circle cx="435.1" cy="274.8" r="2.7" fill="#2a2116"/>
<circle cx="435.2" cy="274.7" r="2.7" fill="#1a1511"/>
<circle cx="421.5" cy="272.1" r="2.7" fill="#1a1511"/>
<circle cx="450.3" cy="272.1" r="2.7" fill="#2a2116"/>
<circle cx="438.1" cy="274.6" r="2.7" fill="#1a1511"/>
<circle cx="453.6" cy="276.4" r="2.7" fill="#1a1511"/>
<circle cx="432.5" cy="271.8" r="2.7" fill="#2a2116"/>
<circle cx="413.3" cy="273.0" r="2.7" fill="#2a2116"/>
<circle cx="434.3" cy="275.5" r="2.7" fill="#2a2116"/>
<circle cx="432.3" cy="276.5" r="2.7" fill="#1a1511"/>
<circle cx="407.8" cy="273.2" r="2.7" fill="#2a2116"/>
<circle cx="434.1" cy="274.5" r="2.7" fill="#2a2116"/>
<circle cx="418.1" cy="272.3" r="2.7" fill="#1a1511"/>
<circle cx="454.1" cy="243.0" r="2.7" fill="#4e3d1c"/>
<circle cx="456.3" cy="239.4" r="2.7" fill="#4e3d1c"/>
<circle cx="461.5" cy="239.8" r="2.7" fill="#6e5426"/>
<circle cx="457.9" cy="244.7" r="2.7" fill="#6e5426"/>
<circle cx="455.7" cy="244.6" r="2.7" fill="#6e5426"/>
<circle cx="463.4" cy="240.2" r="2.7" fill="#4e3d1c"/>
<circle cx="454.8" cy="242.7" r="2.7" fill="#6e5426"/>
<circle cx="454.9" cy="242.6" r="2.7" fill="#4e3d1c"/>
<circle cx="460.6" cy="237.5" r="2.7" fill="#6e5426"/>
<circle cx="455.4" cy="245.2" r="2.7" fill="#6e5426"/>
<circle cx="493.1" cy="238.3" r="2.7" fill="#2a2116"/>
<circle cx="471.3" cy="261.7" r="2.7" fill="#2a2116"/>
<circle cx="468.5" cy="257.3" r="2.7" fill="#1a1511"/>
<circle cx="490.1" cy="262.0" r="2.7" fill="#1a1511"/>
<circle cx="470.2" cy="249.2" r="2.7" fill="#1a1511"/>
<circle cx="474.6" cy="244.3" r="2.7" fill="#1a1511"/>
<circle cx="492.2" cy="243.0" r="2.7" fill="#1a1511"/>
<circle cx="488.5" cy="243.4" r="2.7" fill="#45361e"/>
<circle cx="473.2" cy="248.9" r="2.7" fill="#45361e"/>
<circle cx="480.2" cy="249.1" r="2.7" fill="#1a1511"/>
<circle cx="478.9" cy="245.6" r="2.7" fill="#45361e"/>
<circle cx="477.9" cy="258.7" r="2.7" fill="#2a2116"/>
<circle cx="480.2" cy="260.7" r="2.7" fill="#2a2116"/>
<circle cx="472.3" cy="250.8" r="2.7" fill="#2a2116"/>
<circle cx="474.7" cy="249.9" r="2.7" fill="#2a2116"/>
<circle cx="491.1" cy="247.5" r="2.7" fill="#2a2116"/>
<circle cx="479.7" cy="258.2" r="2.7" fill="#1a1511"/>
<circle cx="477.8" cy="250.0" r="2.7" fill="#1a1511"/>
<circle cx="481.7" cy="250.0" r="2.7" fill="#2a2116"/>
<circle cx="473.4" cy="245.5" r="2.7" fill="#1a1511"/>
<circle cx="477.4" cy="249.4" r="2.7" fill="#45361e"/>
<circle cx="488.1" cy="256.2" r="2.7" fill="#1a1511"/>
<circle cx="479.8" cy="240.8" r="2.7" fill="#45361e"/>
<circle cx="477.5" cy="238.4" r="2.7" fill="#1a1511"/>
<circle cx="492.1" cy="255.8" r="2.7" fill="#1a1511"/>
<circle cx="468.7" cy="248.8" r="2.7" fill="#2a2116"/>
<circle cx="492.5" cy="241.8" r="2.7" fill="#45361e"/>
<circle cx="482.3" cy="258.9" r="2.7" fill="#45361e"/>
<circle cx="468.2" cy="239.5" r="2.7" fill="#2a2116"/>
<circle cx="482.4" cy="249.1" r="2.7" fill="#45361e"/>
<circle cx="485.7" cy="244.1" r="2.7" fill="#2a2116"/>
<circle cx="483.5" cy="239.4" r="2.7" fill="#45361e"/>
<circle cx="478.7" cy="239.3" r="2.7" fill="#1a1511"/>
<circle cx="483.1" cy="245.5" r="2.7" fill="#2a2116"/>
<circle cx="488.6" cy="259.4" r="2.7" fill="#45361e"/>
<circle cx="467.4" cy="254.1" r="2.7" fill="#1a1511"/>
<circle cx="483.6" cy="259.8" r="2.7" fill="#2a2116"/>
<circle cx="470.9" cy="244.0" r="2.7" fill="#1a1511"/>
<circle cx="475.8" cy="243.9" r="2.7" fill="#1a1511"/>
<circle cx="480.3" cy="238.1" r="2.7" fill="#1a1511"/>
<circle cx="486.0" cy="246.2" r="2.7" fill="#2a2116"/>
<circle cx="490.1" cy="253.4" r="2.7" fill="#2a2116"/>
<circle cx="493.7" cy="255.4" r="2.7" fill="#45361e"/>
<circle cx="476.0" cy="259.5" r="2.7" fill="#1a1511"/>
<circle cx="476.1" cy="245.6" r="2.7" fill="#45361e"/>
<circle cx="486.9" cy="251.1" r="2.7" fill="#45361e"/>
<circle cx="482.4" cy="240.9" r="2.7" fill="#2a2116"/>
<circle cx="469.7" cy="258.3" r="2.7" fill="#45361e"/>
<circle cx="489.6" cy="253.7" r="2.7" fill="#1a1511"/>
<circle cx="477.0" cy="243.6" r="2.7" fill="#2a2116"/>
<circle cx="493.9" cy="255.4" r="2.7" fill="#1a1511"/>
<circle cx="489.4" cy="254.5" r="2.7" fill="#1a1511"/>
<circle cx="479.4" cy="252.5" r="2.7" fill="#45361e"/>
<circle cx="467.8" cy="246.1" r="2.7" fill="#1a1511"/>
<circle cx="476.6" cy="242.5" r="2.7" fill="#45361e"/>
<circle cx="505.0" cy="259.4" r="2.7" fill="#2a2116"/>
<circle cx="503.5" cy="244.2" r="2.7" fill="#2a2116"/>
<circle cx="503.6" cy="251.1" r="2.7" fill="#2a2116"/>
<circle cx="504.3" cy="254.7" r="2.7" fill="#1a1511"/>
<circle cx="511.5" cy="263.3" r="2.7" fill="#1a1511"/>
<circle cx="509.7" cy="274.6" r="2.7" fill="#2a2116"/>
<circle cx="501.2" cy="248.9" r="2.7" fill="#1a1511"/>
<circle cx="506.1" cy="263.2" r="2.7" fill="#2a2116"/>
<circle cx="511.8" cy="269.0" r="2.7" fill="#2a2116"/>
<circle cx="503.8" cy="269.2" r="2.7" fill="#2a2116"/>
<circle cx="506.4" cy="260.5" r="2.7" fill="#1a1511"/>
<circle cx="511.4" cy="253.4" r="2.7" fill="#1a1511"/>
<circle cx="504.1" cy="246.7" r="2.7" fill="#1a1511"/>
<circle cx="506.8" cy="251.5" r="2.7" fill="#1a1511"/>
<circle cx="504.4" cy="254.1" r="2.7" fill="#2a2116"/>
<circle cx="501.7" cy="266.4" r="2.7" fill="#1a1511"/>
<circle cx="505.9" cy="271.7" r="2.7" fill="#1a1511"/>
<circle cx="511.1" cy="259.2" r="2.7" fill="#1a1511"/>
<circle cx="506.0" cy="263.6" r="2.7" fill="#2a2116"/>
<circle cx="508.2" cy="275.0" r="2.7" fill="#1a1511"/>
<circle cx="511.1" cy="272.7" r="2.7" fill="#1a1511"/>
<circle cx="506.9" cy="265.1" r="2.7" fill="#2a2116"/>
<circle cx="507.6" cy="259.3" r="2.7" fill="#1a1511"/>
<circle cx="503.5" cy="247.2" r="2.7" fill="#1a1511"/>
<circle cx="507.0" cy="251.8" r="2.7" fill="#2a2116"/>
<circle cx="507.9" cy="273.4" r="2.7" fill="#1a1511"/>
<circle cx="509.1" cy="245.5" r="2.7" fill="#2a2116"/>
<circle cx="502.7" cy="264.4" r="2.7" fill="#2a2116"/>
<circle cx="503.6" cy="262.6" r="2.7" fill="#1a1511"/>
<circle cx="506.8" cy="273.4" r="2.7" fill="#1a1511"/>
<circle cx="508.0" cy="252.6" r="2.7" fill="#2a2116"/>
<circle cx="501.4" cy="258.9" r="2.7" fill="#2a2116"/>
<circle cx="506.1" cy="245.2" r="2.7" fill="#1a1511"/>
<circle cx="508.8" cy="257.7" r="2.7" fill="#2a2116"/>
<circle cx="511.2" cy="260.1" r="2.7" fill="#1a1511"/>
<circle cx="491.2" cy="274.4" r="2.7" fill="#4e3d1c"/>
<circle cx="488.9" cy="273.8" r="2.7" fill="#4e3d1c"/>
<circle cx="487.1" cy="261.9" r="2.7" fill="#4e3d1c"/>
<circle cx="494.2" cy="268.2" r="2.7" fill="#4e3d1c"/>
<circle cx="492.4" cy="272.5" r="2.7" fill="#4e3d1c"/>
<circle cx="487.4" cy="270.3" r="2.7" fill="#6a5025"/>
<circle cx="494.1" cy="275.5" r="2.7" fill="#6a5025"/>
<circle cx="494.8" cy="270.0" r="2.7" fill="#6a5025"/>
<circle cx="489.3" cy="263.5" r="2.7" fill="#6a5025"/>
<circle cx="489.1" cy="262.8" r="2.7" fill="#4e3d1c"/>
<circle cx="492.4" cy="271.1" r="2.7" fill="#4e3d1c"/>
<circle cx="494.1" cy="276.2" r="2.7" fill="#6a5025"/>
<circle cx="490.3" cy="270.6" r="2.7" fill="#4e3d1c"/>
<circle cx="486.5" cy="269.1" r="2.7" fill="#6a5025"/>
<circle cx="494.7" cy="265.3" r="2.7" fill="#6a5025"/>
<circle cx="454.9" cy="272.1" r="2.7" fill="#2a2116"/>
<circle cx="456.5" cy="276.7" r="2.7" fill="#2a2116"/>
<circle cx="454.9" cy="266.2" r="2.7" fill="#2a2116"/>
<circle cx="455.3" cy="275.9" r="2.7" fill="#1a1511"/>
<circle cx="458.8" cy="272.3" r="2.7" fill="#1a1511"/>
<circle cx="473.4" cy="276.6" r="2.7" fill="#1a1511"/>
<circle cx="454.6" cy="264.7" r="2.7" fill="#2a2116"/>
<circle cx="465.5" cy="264.7" r="2.7" fill="#2a2116"/>
<circle cx="455.8" cy="266.3" r="2.7" fill="#1a1511"/>
<circle cx="459.3" cy="268.0" r="2.7" fill="#2a2116"/>
<circle cx="464.5" cy="271.0" r="2.7" fill="#2a2116"/>
<circle cx="472.3" cy="271.1" r="2.7" fill="#2a2116"/>
<circle cx="464.9" cy="266.0" r="2.7" fill="#1a1511"/>
<circle cx="463.4" cy="274.2" r="2.7" fill="#1a1511"/>
<circle cx="455.1" cy="271.9" r="2.7" fill="#2a2116"/>
<circle cx="453.5" cy="269.7" r="2.7" fill="#1a1511"/>
<circle cx="474.6" cy="264.7" r="2.7" fill="#2a2116"/>
<circle cx="464.4" cy="266.9" r="2.7" fill="#2a2116"/>
<circle cx="452.4" cy="263.9" r="2.7" fill="#1a1511"/>
<circle cx="463.2" cy="265.5" r="2.7" fill="#1a1511"/>
<circle cx="464.7" cy="264.8" r="2.7" fill="#2a2116"/>
<circle cx="471.4" cy="274.6" r="2.7" fill="#1a1511"/>
<circle cx="476.6" cy="263.6" r="2.7" fill="#1a1511"/>
<circle cx="462.9" cy="274.6" r="2.7" fill="#1a1511"/>
<circle cx="460.4" cy="263.6" r="2.7" fill="#2a2116"/>
<circle cx="468.4" cy="267.3" r="2.7" fill="#2a2116"/>
<circle cx="459.1" cy="275.0" r="2.7" fill="#2a2116"/>
<circle cx="474.6" cy="268.4" r="2.7" fill="#1a1511"/>
<circle cx="474.3" cy="268.3" r="2.7" fill="#1a1511"/>
<circle cx="466.6" cy="274.4" r="2.7" fill="#2a2116"/>
<circle cx="450.2" cy="270.4" r="2.7" fill="#2a2116"/>
<circle cx="464.8" cy="261.6" r="2.7" fill="#2a2116"/>
<circle cx="461.4" cy="268.0" r="2.7" fill="#2a2116"/>
<circle cx="473.5" cy="274.9" r="2.7" fill="#1a1511"/>
<circle cx="456.1" cy="275.2" r="2.7" fill="#1a1511"/>
<circle cx="454.1" cy="267.3" r="2.7" fill="#1a1511"/>
<circle cx="447.4" cy="254.4" r="2.7" fill="#4e3d1c"/>
<circle cx="458.0" cy="256.4" r="2.7" fill="#6b5424"/>
<circle cx="453.1" cy="252.4" r="2.7" fill="#4e3d1c"/>
<circle cx="449.9" cy="255.9" r="2.7" fill="#6b5424"/>
<circle cx="455.3" cy="269.7" r="2.7" fill="#6b5424"/>
<circle cx="452.8" cy="254.4" r="2.7" fill="#6b5424"/>
<circle cx="457.0" cy="252.5" r="2.7" fill="#4e3d1c"/>
<circle cx="470.3" cy="659.2" r="2.7" fill="#1a1511"/>
<circle cx="471.3" cy="661.5" r="2.7" fill="#1a1511"/>
<circle cx="484.4" cy="662.9" r="2.7" fill="#1a1511"/>
<circle cx="509.4" cy="661.2" r="2.7" fill="#1a1511"/>
<circle cx="512.8" cy="657.2" r="2.7" fill="#1a1511"/>
<circle cx="470.6" cy="665.0" r="2.7" fill="#e01b22"/>
<circle cx="480.0" cy="665.0" r="2.7" fill="#e01b22"/>
<circle cx="487.5" cy="666.0" r="2.7" fill="#e01b22"/>
<circle cx="490.6" cy="666.5" r="2.7" fill="#e01b22"/>
<circle cx="493.8" cy="667.5" r="2.7" fill="#e01b22"/>
<circle cx="496.9" cy="668.0" r="2.7" fill="#e01b22"/>
<circle cx="498.1" cy="669.0" r="2.7" fill="#e01b22"/>
<circle cx="497.5" cy="665.5" r="2.7" fill="#e01b22"/>
<text x="108.1" y="309.5" font-size="8.9" font-weight="bold" fill="#141414" textLength="30.4" lengthAdjust="spacingAndGlyphs">GSDMB</text>
<line x1="123.5" y1="314.8" x2="127" y2="314.8" stroke="#8fd44a" stroke-width="1.3"/>
<path d="M130 314.8L126 312.6L126 317.0Z" fill="#8fd44a"/>
<text x="109" y="330.2" font-size="8.9" font-weight="bold" fill="#141414" textLength="35.2" lengthAdjust="spacingAndGlyphs">ORMDL3</text>
<path d="M129.2 336.6L133.4 338.4L129.2 340.2Z" fill="#9fdcef"/>
<text x="69.8" y="354.9" font-size="8.9" font-weight="bold" fill="#141414" textLength="21.4" lengthAdjust="spacingAndGlyphs">IKZF3</text>
<line x1="67.9" y1="362.2" x2="106.8" y2="362.2" stroke="#7b4cc4" stroke-width="1.6"/>
<path d="M109.8 362.2L105.8 360.0L105.8 364.4Z" fill="#7b4cc4"/>
<text x="266.9" y="331.4" font-size="8.9" font-weight="bold" fill="#141414" textLength="19.8" lengthAdjust="spacingAndGlyphs">CTSH</text>
<line x1="264.1" y1="337.6" x2="294.5" y2="337.6" stroke="#8cd85a" stroke-width="1.6"/>
<path d="M297.5 337.6L293.5 335.40000000000003L293.5 339.8Z" fill="#8cd85a"/>
<text x="420.8" y="317.4" font-size="8.9" font-weight="bold" fill="#141414" textLength="30.5" lengthAdjust="spacingAndGlyphs">THEMIS</text>
<line x1="405.1" y1="321.9" x2="476.8" y2="321.9" stroke="#7b4cc4" stroke-width="1.6"/>
<path d="M479.8 321.9L475.8 319.7L475.8 324.09999999999997Z" fill="#7b4cc4"/>
<text x="481.4" y="346.9" font-size="8.9" font-weight="bold" fill="#141414" textLength="25.5" lengthAdjust="spacingAndGlyphs">PTPRK</text>
<line x1="495.5" y1="353.1" x2="519" y2="353.1" stroke="#9be06a" stroke-width="1.6" />
<line x1="42.6" y1="387.4" x2="152" y2="387.4" stroke="#b8182f" stroke-width="1.4" stroke-dasharray="4.7 4.72"/>
<line x1="218.1" y1="386.3" x2="336" y2="386.3" stroke="#b8182f" stroke-width="1.4" stroke-dasharray="4.7 4.72"/>
<line x1="399.7" y1="386.3" x2="518" y2="386.3" stroke="#b8182f" stroke-width="1.4" stroke-dasharray="4.7 4.72"/>
<line x1="67.2" y1="438" x2="67.2" y2="513.5" stroke="#c82222" stroke-width="0.9" stroke-opacity="0.75"/>
<line x1="69.6" y1="450.8" x2="69.6" y2="513.5" stroke="#c82222" stroke-width="0.9" stroke-opacity="0.75"/>
<line x1="71.9" y1="439.2" x2="71.9" y2="513.5" stroke="#c82222" stroke-width="0.9" stroke-opacity="0.75"/>
<line x1="74.2" y1="453" x2="74.2" y2="514" stroke="#c82222" stroke-width="0.9" stroke-opacity="0.75"/>
<line x1="78.1" y1="438" x2="78.1" y2="499" stroke="#c82222" stroke-width="0.9" stroke-opacity="0.75"/>
<line x1="86.2" y1="437" x2="86.2" y2="512" stroke="#c82222" stroke-width="0.9" stroke-opacity="0.75"/>
<line x1="88.5" y1="437" x2="88.5" y2="512" stroke="#c82222" stroke-width="0.9" stroke-opacity="0.75"/>
<line x1="90.8" y1="452" x2="90.8" y2="512" stroke="#c82222" stroke-width="0.9" stroke-opacity="0.75"/>
<line x1="94.3" y1="448.5" x2="94.3" y2="508.5" stroke="#c82222" stroke-width="0.9" stroke-opacity="0.75"/>
<line x1="109.6" y1="434.7" x2="109.6" y2="506.5" stroke="#c81818" stroke-width="1.0" stroke-opacity="0.95"/>
<line x1="110.5" y1="436" x2="110.5" y2="511.2" stroke="#d01a1a" stroke-width="1.0" stroke-opacity="0.95"/>
<line x1="111.5" y1="438.7" x2="111.5" y2="510.7" stroke="#e41c1c" stroke-width="1.0" stroke-opacity="0.95"/>
<line x1="112.4" y1="439" x2="112.4" y2="509.3" stroke="#ea2020" stroke-width="1.0" stroke-opacity="0.95"/>
<line x1="113.3" y1="439.2" x2="113.3" y2="506.9" stroke="#e81e1e" stroke-width="1.0" stroke-opacity="0.95"/>
<line x1="114.2" y1="439.4" x2="114.2" y2="512.1" stroke="#ea2020" stroke-width="1.0" stroke-opacity="0.95"/>
<line x1="115.2" y1="439" x2="115.2" y2="512.3" stroke="#e41c1c" stroke-width="1.0" stroke-opacity="0.95"/>
<line x1="116.1" y1="439.2" x2="116.1" y2="509.6" stroke="#e81e1e" stroke-width="1.0" stroke-opacity="0.95"/>
<line x1="117.0" y1="438.5" x2="117.0" y2="509.5" stroke="#e83030" stroke-width="1.0" stroke-opacity="0.95"/>
<line x1="118.0" y1="439" x2="118.0" y2="507.1" stroke="#e06a6a" stroke-width="1.0" stroke-opacity="0.95"/>
<line x1="118.9" y1="439.4" x2="118.9" y2="505.0" stroke="#e05050" stroke-width="1.0" stroke-opacity="0.95"/>
<line x1="119.8" y1="438" x2="119.8" y2="508.3" stroke="#e86868" stroke-width="1.0" stroke-opacity="0.95"/>
<line x1="120.8" y1="438" x2="120.8" y2="510.3" stroke="#e41c1c" stroke-width="1.0" stroke-opacity="0.95"/>
<line x1="121.7" y1="437" x2="121.7" y2="505.6" stroke="#e06a6a" stroke-width="1.0" stroke-opacity="0.95"/>
<line x1="122.6" y1="436" x2="122.6" y2="512.1" stroke="#ea2020" stroke-width="1.0" stroke-opacity="0.95"/>
<line x1="123.5" y1="435.4" x2="123.5" y2="507.1" stroke="#e41c1c" stroke-width="1.0" stroke-opacity="0.95"/>
<line x1="124.5" y1="435.8" x2="124.5" y2="507.1" stroke="#ea2020" stroke-width="1.0" stroke-opacity="0.95"/>
<line x1="125.4" y1="436" x2="125.4" y2="505.4" stroke="#e81e1e" stroke-width="1.0" stroke-opacity="0.95"/>
<line x1="126.3" y1="435.4" x2="126.3" y2="514.0" stroke="#ea2020" stroke-width="1.0" stroke-opacity="0.95"/>
<line x1="127.3" y1="436.7" x2="127.3" y2="511.6" stroke="#e41c1c" stroke-width="1.0" stroke-opacity="0.95"/>
<line x1="128.2" y1="444" x2="128.2" y2="512.9" stroke="#e81e1e" stroke-width="1.0" stroke-opacity="0.95"/>
<line x1="129.1" y1="444.5" x2="129.1" y2="510.5" stroke="#ea2020" stroke-width="1.0" stroke-opacity="0.95"/>
<line x1="130.1" y1="445" x2="130.1" y2="505.3" stroke="#e41c1c" stroke-width="1.0" stroke-opacity="0.95"/>
<line x1="131.0" y1="445.5" x2="131.0" y2="508.0" stroke="#e88080" stroke-width="1.0" stroke-opacity="0.95"/>
<line x1="131.9" y1="443.5" x2="131.9" y2="509.5" stroke="#f0a0a0" stroke-width="1.0" stroke-opacity="0.95"/>
<line x1="132.8" y1="443.5" x2="132.8" y2="506.0" stroke="#e06060" stroke-width="1.0" stroke-opacity="0.95"/>
<circle cx="67.2" cy="468.8" r="2.5" fill="#e0181c"/>
<circle cx="70.0" cy="468.8" r="2.5" fill="#e0181c"/>
<circle cx="72.8" cy="468.8" r="2.5" fill="#e0181c"/>
<circle cx="78.1" cy="468.1" r="2.5" fill="#e0181c"/>
<circle cx="66.6" cy="482.0" r="2.5" fill="#e0181c"/>
<circle cx="69.6" cy="482.0" r="2.5" fill="#e0181c"/>
<circle cx="72.3" cy="482.5" r="2.5" fill="#e0181c"/>
<circle cx="74.6" cy="483.0" r="2.5" fill="#e0181c"/>
<circle cx="86.2" cy="468.1" r="2.5" fill="#e0181c"/>
<circle cx="89.6" cy="468.1" r="2.5" fill="#e0181c"/>
<circle cx="85.7" cy="480.8" r="2.5" fill="#e0181c"/>
<circle cx="92.0" cy="480.6" r="2.5" fill="#e0181c"/>
<circle cx="95.4" cy="478.9" r="2.5" fill="#e0181c"/>
<circle cx="110.0" cy="466.0" r="2.5" fill="#e0181c"/>
<circle cx="113.0" cy="467.0" r="2.5" fill="#e0181c"/>
<circle cx="117.0" cy="465.5" r="2.5" fill="#e0181c"/>
<circle cx="121.0" cy="465.0" r="2.5" fill="#e0181c"/>
<circle cx="112.0" cy="470.0" r="2.5" fill="#e0181c"/>
<circle cx="116.0" cy="471.0" r="2.5" fill="#e0181c"/>
<circle cx="120.0" cy="469.5" r="2.5" fill="#e0181c"/>
<circle cx="124.0" cy="470.0" r="2.5" fill="#e0181c"/>
<circle cx="127.0" cy="471.0" r="2.5" fill="#e0181c"/>
<circle cx="111.0" cy="476.0" r="2.5" fill="#e0181c"/>
<circle cx="115.0" cy="478.0" r="2.5" fill="#e0181c"/>
<circle cx="119.0" cy="476.0" r="2.5" fill="#e0181c"/>
<circle cx="123.0" cy="477.0" r="2.5" fill="#e0181c"/>
<circle cx="110.5" cy="481.0" r="2.5" fill="#e0181c"/>
<circle cx="114.0" cy="482.0" r="2.5" fill="#e0181c"/>
<circle cx="118.0" cy="481.5" r="2.5" fill="#e0181c"/>
<circle cx="122.0" cy="480.0" r="2.5" fill="#e0181c"/>
<circle cx="126.0" cy="479.0" r="2.5" fill="#e0181c"/>
<circle cx="129.5" cy="478.5" r="2.5" fill="#e0181c"/>
<circle cx="132.5" cy="477.5" r="2.5" fill="#e0181c"/>
<circle cx="130.0" cy="481.0" r="2.5" fill="#e0181c"/>
<circle cx="113.0" cy="473.0" r="2.5" fill="#e0181c"/>
<circle cx="125.0" cy="474.0" r="2.5" fill="#e0181c"/>
<circle cx="128.0" cy="467.0" r="2.5" fill="#e0181c"/>
<line x1="285.5" y1="433.4" x2="285.5" y2="489.1" stroke="#c82222" stroke-width="0.9" stroke-opacity="0.8"/>
<line x1="288.3" y1="437" x2="288.3" y2="489.8" stroke="#c82222" stroke-width="0.9" stroke-opacity="0.8"/>
<line x1="292.6" y1="449" x2="292.6" y2="510.3" stroke="#c82222" stroke-width="0.9" stroke-opacity="0.8"/>
<line x1="296.1" y1="451" x2="296.1" y2="513" stroke="#c82222" stroke-width="0.9" stroke-opacity="0.8"/>
<circle cx="285.8" cy="461.6" r="2.6" fill="#e0181c"/>
<circle cx="288.3" cy="463.7" r="2.6" fill="#e0181c"/>
<circle cx="292.6" cy="479.2" r="2.6" fill="#e0181c"/>
<circle cx="296.1" cy="482.0" r="2.6" fill="#e0181c"/>
<line x1="470.3" y1="434.1" x2="470.3" y2="511.8" stroke="#c82222" stroke-width="1.0" stroke-opacity="0.8"/>
<line x1="480.5" y1="432.7" x2="480.5" y2="510.4" stroke="#c82222" stroke-width="1.0" stroke-opacity="0.8"/>
<line x1="487.5" y1="434.8" x2="487.5" y2="506.9" stroke="#c82222" stroke-width="1.0" stroke-opacity="0.8"/>
<line x1="491.8" y1="434.1" x2="491.8" y2="509" stroke="#c82222" stroke-width="1.0" stroke-opacity="0.8"/>
<line x1="494.6" y1="433.4" x2="494.6" y2="508.3" stroke="#c82222" stroke-width="1.0" stroke-opacity="0.8"/>
<line x1="495.8" y1="431" x2="495.8" y2="506" stroke="#e01616" stroke-width="1.0" stroke-opacity="0.95"/>
<line x1="496.6" y1="429.5" x2="496.6" y2="507" stroke="#e01616" stroke-width="1.0" stroke-opacity="0.95"/>
<line x1="497.4" y1="429" x2="497.4" y2="507.5" stroke="#e01616" stroke-width="1.0" stroke-opacity="0.95"/>
<line x1="498.2" y1="431" x2="498.2" y2="505" stroke="#e01616" stroke-width="1.0" stroke-opacity="0.95"/>
<circle cx="470.6" cy="473.4" r="2.5" fill="#e0181c"/>
<circle cx="480.5" cy="471.6" r="2.5" fill="#e0181c"/>
<circle cx="487.5" cy="470.8" r="2.5" fill="#e0181c"/>
<circle cx="490.4" cy="471.6" r="2.5" fill="#e0181c"/>
<circle cx="493.2" cy="472.3" r="2.5" fill="#e0181c"/>
<circle cx="495.3" cy="470.8" r="2.5" fill="#e0181c"/>
<circle cx="497.4" cy="468.7" r="2.5" fill="#e0181c"/>
<circle cx="498.8" cy="465.2" r="2.5" fill="#e0181c"/>
<circle cx="492.0" cy="470.0" r="2.5" fill="#e0181c"/>
<circle cx="496.0" cy="473.0" r="2.5" fill="#e0181c"/>
<line x1="42.6" y1="601.2" x2="152" y2="601.2" stroke="#b8182f" stroke-width="1.4" stroke-dasharray="4.7 4.72"/>
<line x1="218.1" y1="593" x2="336" y2="593" stroke="#b8182f" stroke-width="1.4" stroke-dasharray="4.7 4.72"/>
<line x1="399.7" y1="528.5" x2="518" y2="528.5" stroke="#b8182f" stroke-width="1.4" stroke-dasharray="4.7 4.72"/>
<path d="M63.0 527.0L66.4 533.1L59.6 533.1Z" fill="#e3161b"/>
<path d="M60.7 534.6H65.3M63.0 532.3V536.9" stroke="#e3161b" stroke-width="1.2"/>
<path d="M66.5 527.0L69.9 533.1L63.1 533.1Z" fill="#e3161b"/>
<path d="M64.2 534.6H68.8M66.5 532.3V536.9" stroke="#e3161b" stroke-width="1.2"/>
<path d="M70.0 527.0L73.4 533.1L66.6 533.1Z" fill="#e3161b"/>
<path d="M67.7 534.6H72.3M70.0 532.3V536.9" stroke="#e3161b" stroke-width="1.2"/>
<path d="M73.5 527.0L76.9 533.1L70.1 533.1Z" fill="#e3161b"/>
<path d="M71.2 534.6H75.8M73.5 532.3V536.9" stroke="#e3161b" stroke-width="1.2"/>
<path d="M77.0 527.0L80.4 533.1L73.6 533.1Z" fill="#e3161b"/>
<path d="M74.7 534.6H79.3M77.0 532.3V536.9" stroke="#e3161b" stroke-width="1.2"/>
<path d="M80.5 527.0L83.9 533.1L77.1 533.1Z" fill="#e3161b"/>
<path d="M78.2 534.6H82.8M80.5 532.3V536.9" stroke="#e3161b" stroke-width="1.2"/>
<path d="M84.5 527.0L87.9 533.1L81.1 533.1Z" fill="#e3161b"/>
<path d="M82.2 534.6H86.8M84.5 532.3V536.9" stroke="#e3161b" stroke-width="1.2"/>
<path d="M88.0 527.0L91.4 533.1L84.6 533.1Z" fill="#e3161b"/>
<path d="M85.7 534.6H90.3M88.0 532.3V536.9" stroke="#e3161b" stroke-width="1.2"/>
<path d="M91.5 527.0L94.9 533.1L88.1 533.1Z" fill="#e3161b"/>
<path d="M89.2 534.6H93.8M91.5 532.3V536.9" stroke="#e3161b" stroke-width="1.2"/>
<path d="M95.0 527.0L98.4 533.1L91.6 533.1Z" fill="#e3161b"/>
<path d="M92.7 534.6H97.3M95.0 532.3V536.9" stroke="#e3161b" stroke-width="1.2"/>
<path d="M97.8 527.0L101.2 533.1L94.4 533.1Z" fill="#e3161b"/>
<path d="M95.5 534.6H100.1M97.8 532.3V536.9" stroke="#e3161b" stroke-width="1.2"/>
<rect x="61.5" y="530" width="20.0" height="5.2" fill="#e3161b"/>
<rect x="84" y="530" width="14.8" height="5.2" fill="#e3161b"/>
<path d="M102.8 527.4L106.0 533.2L99.6 533.2Z" fill="#1a1511"/>
<path d="M100.3 535.6H105.3M102.8 533.1V538.1" stroke="#1a1511" stroke-width="1.2"/>
<rect x="107.5" y="528" width="27.0" height="7.2" fill="#e3161b"/>
<path d="M109.0 526.4L112.0 531.8L106.0 531.8Z" fill="#e3161b"/>
<path d="M107.0 534.6H111.0M109.0 532.6V536.6" stroke="#e3161b" stroke-width="1.1"/>
<path d="M112.0 526.4L115.0 531.8L109.0 531.8Z" fill="#e3161b"/>
<path d="M110.0 534.6H114.0M112.0 532.6V536.6" stroke="#e3161b" stroke-width="1.1"/>
<path d="M115.0 526.4L118.0 531.8L112.0 531.8Z" fill="#e3161b"/>
<path d="M113.0 534.6H117.0M115.0 532.6V536.6" stroke="#e3161b" stroke-width="1.1"/>
<path d="M118.0 526.4L121.0 531.8L115.0 531.8Z" fill="#e3161b"/>
<path d="M116.0 534.6H120.0M118.0 532.6V536.6" stroke="#e3161b" stroke-width="1.1"/>
<path d="M121.0 526.4L124.0 531.8L118.0 531.8Z" fill="#e3161b"/>
<path d="M119.0 534.6H123.0M121.0 532.6V536.6" stroke="#e3161b" stroke-width="1.1"/>
<path d="M124.0 526.4L127.0 531.8L121.0 531.8Z" fill="#e3161b"/>
<path d="M122.0 534.6H126.0M124.0 532.6V536.6" stroke="#e3161b" stroke-width="1.1"/>
<path d="M127.0 526.4L130.0 531.8L124.0 531.8Z" fill="#e3161b"/>
<path d="M125.0 534.6H129.0M127.0 532.6V536.6" stroke="#e3161b" stroke-width="1.1"/>
<path d="M130.0 526.4L133.0 531.8L127.0 531.8Z" fill="#e3161b"/>
<path d="M128.0 534.6H132.0M130.0 532.6V536.6" stroke="#e3161b" stroke-width="1.1"/>
<path d="M133.0 526.4L136.0 531.8L130.0 531.8Z" fill="#e3161b"/>
<path d="M131.0 534.6H135.0M133.0 532.6V536.6" stroke="#e3161b" stroke-width="1.1"/>
<path d="M47.0 536.0L50.3 542.0L43.7 542.0Z" fill="#1a1511"/>
<path d="M50.5 534.5L53.8 540.5L47.2 540.5Z" fill="#1a1511"/>
<path d="M54.0 535.5L57.3 541.5L50.7 541.5Z" fill="#1a1511"/>
<path d="M57.5 534.5L60.8 540.5L54.2 540.5Z" fill="#1a1511"/>
<path d="M61.0 536.5L64.3 542.5L57.7 542.5Z" fill="#1a1511"/>
<path d="M64.0 539.5L67.3 545.5L60.7 545.5Z" fill="#1a1511"/>
<path d="M66.0 543.5L69.3 549.5L62.7 549.5Z" fill="#1a1511"/>
<path d="M46.0 540.0L49.3 546.0L42.7 546.0Z" fill="#1a1511"/>
<path d="M49.5 539.0L52.8 545.0L46.2 545.0Z" fill="#1a1511"/>
<path d="M53.0 539.5L56.3 545.5L49.7 545.5Z" fill="#1a1511"/>
<path d="M56.5 538.5L59.8 544.5L53.2 544.5Z" fill="#1a1511"/>
<path d="M60.0 540.5L63.3 546.5L56.7 546.5Z" fill="#1a1511"/>
<path d="M63.0 543.0L66.3 549.0L59.7 549.0Z" fill="#1a1511"/>
<path d="M46.0 544.0L49.3 550.0L42.7 550.0Z" fill="#1a1511"/>
<path d="M49.5 543.5L52.8 549.5L46.2 549.5Z" fill="#1a1511"/>
<path d="M53.0 544.0L56.3 550.0L49.7 550.0Z" fill="#1a1511"/>
<path d="M56.5 543.5L59.8 549.5L53.2 549.5Z" fill="#1a1511"/>
<path d="M60.0 544.5L63.3 550.5L56.7 550.5Z" fill="#1a1511"/>
<path d="M47.0 547.5L50.3 553.5L43.7 553.5Z" fill="#1a1511"/>
<path d="M51.0 547.5L54.3 553.5L47.7 553.5Z" fill="#1a1511"/>
<path d="M55.0 547.5L58.3 553.5L51.7 553.5Z" fill="#1a1511"/>
<path d="M89.6 539.0L92.9 545.0L86.3 545.0Z" fill="#1a1511"/>
<line x1="89.6" y1="544.5" x2="89.6" y2="548.0" stroke="#111" stroke-width="1.2"/>
<path d="M108.2 538.5L111.5 544.5L104.9 544.5Z" fill="#1a1511"/>
<line x1="108.2" y1="544" x2="108.2" y2="547.5" stroke="#111" stroke-width="1.2"/>
<path d="M125.2 539.3L128.5 545.2L121.9 545.2Z" fill="#1a1511"/>
<line x1="125.2" y1="544.8" x2="125.2" y2="548.3" stroke="#111" stroke-width="1.2"/>
<rect x="43.4" y="549.2" width="4.2" height="4.2" fill="#111"/>
<rect x="46.4" y="549.2" width="4.2" height="4.2" fill="#111"/>
<rect x="49.4" y="549.2" width="4.2" height="4.2" fill="#111"/>
<rect x="52.4" y="549.2" width="4.2" height="4.2" fill="#111"/>
<rect x="55.4" y="549.2" width="4.2" height="4.2" fill="#111"/>
<rect x="58.4" y="549.2" width="4.2" height="4.2" fill="#111"/>
<rect x="61.4" y="549.2" width="4.2" height="4.2" fill="#111"/>
<rect x="64.4" y="549.2" width="4.2" height="4.2" fill="#111"/>
<rect x="64.9" y="550.7" width="3.2" height="3.2" fill="#b0141a"/>
<rect x="67.4" y="549.2" width="4.2" height="4.2" fill="#111"/>
<rect x="67.9" y="550.7" width="3.2" height="3.2" fill="#b0141a"/>
<rect x="70.4" y="549.2" width="4.2" height="4.2" fill="#111"/>
<rect x="70.9" y="550.7" width="3.2" height="3.2" fill="#b0141a"/>
<rect x="73.4" y="549.2" width="4.2" height="4.2" fill="#111"/>
<rect x="73.9" y="550.7" width="3.2" height="3.2" fill="#b0141a"/>
<rect x="76.4" y="549.2" width="4.2" height="4.2" fill="#111"/>
<rect x="76.9" y="550.7" width="3.2" height="3.2" fill="#b0141a"/>
<rect x="79.4" y="549.2" width="4.2" height="4.2" fill="#111"/>
<rect x="82.4" y="549.2" width="4.2" height="4.2" fill="#111"/>
<rect x="85.4" y="549.2" width="4.2" height="4.2" fill="#111"/>
<rect x="88.4" y="549.2" width="4.2" height="4.2" fill="#111"/>
<rect x="91.4" y="549.2" width="4.2" height="4.2" fill="#111"/>
<rect x="94.4" y="549.2" width="4.2" height="4.2" fill="#111"/>
<rect x="97.4" y="549.2" width="4.2" height="4.2" fill="#111"/>
<rect x="100.4" y="549.2" width="4.2" height="4.2" fill="#111"/>
<rect x="103.4" y="549.2" width="4.2" height="4.2" fill="#111"/>
<rect x="106.4" y="549.2" width="4.2" height="4.2" fill="#111"/>
<rect x="106.9" y="550.7" width="3.2" height="3.2" fill="#b0141a"/>
<rect x="109.4" y="549.2" width="4.2" height="4.2" fill="#111"/>
<rect x="109.9" y="550.7" width="3.2" height="3.2" fill="#b0141a"/>
<rect x="112.4" y="549.2" width="4.2" height="4.2" fill="#111"/>
<rect x="112.9" y="550.7" width="3.2" height="3.2" fill="#b0141a"/>
<rect x="115.4" y="549.2" width="4.2" height="4.2" fill="#111"/>
<rect x="115.9" y="550.7" width="3.2" height="3.2" fill="#b0141a"/>
<rect x="118.4" y="549.2" width="4.2" height="4.2" fill="#111"/>
<rect x="118.9" y="550.7" width="3.2" height="3.2" fill="#b0141a"/>
<rect x="121.4" y="549.2" width="4.2" height="4.2" fill="#111"/>
<rect x="121.9" y="550.7" width="3.2" height="3.2" fill="#b0141a"/>
<rect x="124.4" y="549.2" width="4.2" height="4.2" fill="#111"/>
<rect x="124.9" y="550.7" width="3.2" height="3.2" fill="#b0141a"/>
<rect x="127.4" y="549.2" width="4.2" height="4.2" fill="#111"/>
<rect x="130.4" y="549.2" width="4.2" height="4.2" fill="#111"/>
<rect x="133.4" y="549.2" width="4.2" height="4.2" fill="#111"/>
<rect x="136.4" y="549.2" width="4.2" height="4.2" fill="#111"/>
<rect x="139.4" y="549.2" width="4.2" height="4.2" fill="#111"/>
<rect x="142.4" y="549.2" width="4.2" height="4.2" fill="#111"/>
<rect x="145.4" y="549.2" width="4.2" height="4.2" fill="#111"/>
<rect x="148.4" y="549.2" width="4.2" height="4.2" fill="#111"/>
<rect x="151.4" y="549.2" width="4.2" height="4.2" fill="#111"/>
<rect x="101.2" y="545.8" width="4.4" height="4.4" fill="#111"/>
<path d="M136.0 532.0L139.3 538.0L132.7 538.0Z" fill="#1a1511"/>
<path d="M139.5 531.0L142.8 537.0L136.2 537.0Z" fill="#1a1511"/>
<path d="M143.0 531.5L146.3 537.5L139.7 537.5Z" fill="#1a1511"/>
<path d="M146.5 531.0L149.8 537.0L143.2 537.0Z" fill="#1a1511"/>
<path d="M149.5 532.5L152.8 538.5L146.2 538.5Z" fill="#1a1511"/>
<path d="M151.5 536.0L154.8 542.0L148.2 542.0Z" fill="#1a1511"/>
<path d="M153.0 539.5L156.3 545.5L149.7 545.5Z" fill="#1a1511"/>
<path d="M135.0 536.0L138.3 542.0L131.7 542.0Z" fill="#1a1511"/>
<path d="M138.5 535.5L141.8 541.5L135.2 541.5Z" fill="#1a1511"/>
<path d="M142.0 536.0L145.3 542.0L138.7 542.0Z" fill="#1a1511"/>
<path d="M145.5 535.5L148.8 541.5L142.2 541.5Z" fill="#1a1511"/>
<path d="M149.0 537.0L152.3 543.0L145.7 543.0Z" fill="#1a1511"/>
<path d="M152.0 541.5L155.3 547.5L148.7 547.5Z" fill="#1a1511"/>
<path d="M135.0 540.5L138.3 546.5L131.7 546.5Z" fill="#1a1511"/>
<path d="M138.5 540.0L141.8 546.0L135.2 546.0Z" fill="#1a1511"/>
<path d="M142.0 540.5L145.3 546.5L138.7 546.5Z" fill="#1a1511"/>
<path d="M145.5 540.0L148.8 546.0L142.2 546.0Z" fill="#1a1511"/>
<path d="M149.0 541.5L152.3 547.5L145.7 547.5Z" fill="#1a1511"/>
<path d="M152.5 545.0L155.8 551.0L149.2 551.0Z" fill="#1a1511"/>
<path d="M135.0 545.0L138.3 551.0L131.7 551.0Z" fill="#1a1511"/>
<path d="M138.5 544.5L141.8 550.5L135.2 550.5Z" fill="#1a1511"/>
<path d="M142.0 545.0L145.3 551.0L138.7 551.0Z" fill="#1a1511"/>
<path d="M145.5 544.5L148.8 550.5L142.2 550.5Z" fill="#1a1511"/>
<path d="M149.0 546.0L152.3 552.0L145.7 552.0Z" fill="#1a1511"/>
<path d="M152.0 547.5L155.3 553.5L148.7 553.5Z" fill="#1a1511"/>
<rect x="45.8" y="648.3" width="4.4" height="4.4" fill="#111"/>
<rect x="49.3" y="648.3" width="4.4" height="4.4" fill="#111"/>
<rect x="52.8" y="648.8" width="4.4" height="4.4" fill="#111"/>
<rect x="55.8" y="649.8" width="4.4" height="4.4" fill="#111"/>
<rect x="47.8" y="650.8" width="4.4" height="4.4" fill="#111"/>
<path d="M53.0 654.6L56.0 660.0L50.0 660.0Z" fill="#1a1511"/>
<path d="M56.0 657.3L59.0 662.7L53.0 662.7Z" fill="#1a1511"/>
<path d="M59.0 654.8L62.0 660.2L56.0 660.2Z" fill="#1a1511"/>
<rect x="61.7" y="650.2" width="3.6" height="3.6" fill="#111"/>
<rect x="61.7" y="654.2" width="3.6" height="3.6" fill="#111"/>
<rect x="61.7" y="657.2" width="3.6" height="3.6" fill="#111"/>
<rect x="63.1" y="649.7" width="4.6" height="4.6" fill="#e3161b"/>
<rect x="62.4" y="654.5" width="4.6" height="4.6" fill="#e3161b"/>
<rect x="65.4" y="650.0" width="4.6" height="4.6" fill="#e3161b"/>
<rect x="66.0" y="654.2" width="4.6" height="4.6" fill="#e3161b"/>
<rect x="68.7" y="650.2" width="4.6" height="4.6" fill="#e3161b"/>
<rect x="69.1" y="654.6" width="4.6" height="4.6" fill="#e3161b"/>
<rect x="71.7" y="650.7" width="4.6" height="4.6" fill="#e3161b"/>
<rect x="71.9" y="654.5" width="4.6" height="4.6" fill="#e3161b"/>
<rect x="75.5" y="650.5" width="4.6" height="4.6" fill="#e3161b"/>
<rect x="75.1" y="653.7" width="4.6" height="4.6" fill="#e3161b"/>
<rect x="81.2" y="650.4" width="4.6" height="4.6" fill="#e3161b"/>
<rect x="81.7" y="653.5" width="4.6" height="4.6" fill="#e3161b"/>
<rect x="84.5" y="649.3" width="4.6" height="4.6" fill="#e3161b"/>
<rect x="84.5" y="654.1" width="4.6" height="4.6" fill="#e3161b"/>
<rect x="88.0" y="650.3" width="4.6" height="4.6" fill="#e3161b"/>
<rect x="87.6" y="654.5" width="4.6" height="4.6" fill="#e3161b"/>
<rect x="91.9" y="650.4" width="4.6" height="4.6" fill="#e3161b"/>
<rect x="91.6" y="654.6" width="4.6" height="4.6" fill="#e3161b"/>
<rect x="94.0" y="649.9" width="4.6" height="4.6" fill="#e3161b"/>
<rect x="94.0" y="654.5" width="4.6" height="4.6" fill="#e3161b"/>
<rect x="106.2" y="649.4" width="4.6" height="4.6" fill="#e3161b"/>
<rect x="106.1" y="654.4" width="4.6" height="4.6" fill="#e3161b"/>
<rect x="109.5" y="649.4" width="4.6" height="4.6" fill="#e3161b"/>
<rect x="109.9" y="653.3" width="4.6" height="4.6" fill="#e3161b"/>
<rect x="113.0" y="650.8" width="4.6" height="4.6" fill="#e3161b"/>
<rect x="112.9" y="654.7" width="4.6" height="4.6" fill="#e3161b"/>
<rect x="115.8" y="649.6" width="4.6" height="4.6" fill="#e3161b"/>
<rect x="115.8" y="654.4" width="4.6" height="4.6" fill="#e3161b"/>
<rect x="119.3" y="649.8" width="4.6" height="4.6" fill="#e3161b"/>
<rect x="119.5" y="653.3" width="4.6" height="4.6" fill="#e3161b"/>
<rect x="122.2" y="649.3" width="4.6" height="4.6" fill="#e3161b"/>
<rect x="122.0" y="654.8" width="4.6" height="4.6" fill="#e3161b"/>
<rect x="124.9" y="650.8" width="4.6" height="4.6" fill="#e3161b"/>
<rect x="125.9" y="654.3" width="4.6" height="4.6" fill="#e3161b"/>
<rect x="128.1" y="650.0" width="4.6" height="4.6" fill="#e3161b"/>
<rect x="128.8" y="653.4" width="4.6" height="4.6" fill="#e3161b"/>
<rect x="79.3" y="651.8" width="4.4" height="4.4" fill="#111"/>
<rect x="77.8" y="655.8" width="4.4" height="4.4" fill="#111"/>
<rect x="88.1" y="647.2" width="4.4" height="4.4" fill="#111"/>
<rect x="106.3" y="646.8" width="4.4" height="4.4" fill="#111"/>
<rect x="100.8" y="654.3" width="4.4" height="4.4" fill="#111"/>
<rect x="97.3" y="651.3" width="4.4" height="4.4" fill="#111"/>
<path d="M68.2 659.7L71.3 665.3L65.1 665.3Z" fill="#1a1511"/>
<path d="M82.7 661.0L85.8 666.6L79.6 666.6Z" fill="#1a1511"/>
<path d="M95.0 658.7L98.1 664.3L91.9 664.3Z" fill="#1a1511"/>
<path d="M103.0 663.2L106.1 668.8L99.9 668.8Z" fill="#1a1511"/>
<path d="M110.8 659.5L113.9 665.1L107.7 665.1Z" fill="#1a1511"/>
<path d="M115.4 663.2L118.5 668.8L112.3 668.8Z" fill="#1a1511"/>
<path d="M122.2 645.2L125.3 650.8L119.1 650.8Z" fill="#1a1511"/>
<path d="M124.0 660.0L127.1 665.6L120.9 665.6Z" fill="#1a1511"/>
<path d="M120.5 659.2L123.6 664.8L117.4 664.8Z" fill="#1a1511"/>
<path d="M87.0 656.7L90.1 662.3L83.9 662.3Z" fill="#1a1511"/>
<path d="M93.0 654.7L96.1 660.3L89.9 660.3Z" fill="#1a1511"/>
<path d="M100.0 646.7L103.1 652.3L96.9 652.3Z" fill="#1a1511"/>
<path d="M100.8 669.0H105.2M103.0 666.8V671.2" stroke="#1a1511" stroke-width="1.1"/>
<rect x="131.6" y="646.4" width="4.4" height="4.4" fill="#111"/>
<rect x="135.6" y="646.2" width="4.4" height="4.4" fill="#111"/>
<rect x="139.2" y="646.6" width="4.4" height="4.4" fill="#111"/>
<rect x="142.4" y="645.4" width="4.4" height="4.4" fill="#111"/>
<rect x="145.8" y="646.6" width="4.4" height="4.4" fill="#111"/>
<rect x="149.6" y="645.3" width="4.4" height="4.4" fill="#111"/>
<rect x="131.3" y="649.9" width="4.4" height="4.4" fill="#111"/>
<rect x="135.7" y="649.4" width="4.4" height="4.4" fill="#111"/>
<rect x="138.7" y="650.3" width="4.4" height="4.4" fill="#111"/>
<rect x="142.7" y="649.4" width="4.4" height="4.4" fill="#111"/>
<rect x="145.6" y="650.6" width="4.4" height="4.4" fill="#111"/>
<rect x="148.9" y="650.0" width="4.4" height="4.4" fill="#111"/>
<rect x="131.3" y="654.3" width="4.4" height="4.4" fill="#111"/>
<rect x="135.0" y="653.8" width="4.4" height="4.4" fill="#111"/>
<rect x="138.7" y="654.3" width="4.4" height="4.4" fill="#111"/>
<rect x="142.5" y="653.9" width="4.4" height="4.4" fill="#111"/>
<rect x="145.8" y="654.1" width="4.4" height="4.4" fill="#111"/>
<rect x="149.6" y="654.4" width="4.4" height="4.4" fill="#111"/>
<rect x="131.9" y="657.6" width="4.4" height="4.4" fill="#111"/>
<rect x="135.1" y="657.8" width="4.4" height="4.4" fill="#111"/>
<rect x="138.5" y="657.9" width="4.4" height="4.4" fill="#111"/>
<rect x="141.9" y="657.8" width="4.4" height="4.4" fill="#111"/>
<rect x="145.4" y="658.4" width="4.4" height="4.4" fill="#111"/>
<rect x="149.2" y="659.8" width="4.4" height="4.4" fill="#111"/>
<rect x="126.0" y="662.1" width="4.4" height="4.4" fill="#111"/>
<rect x="128.5" y="663.3" width="4.4" height="4.4" fill="#111"/>
<rect x="131.7" y="661.8" width="4.4" height="4.4" fill="#111"/>
<rect x="135.3" y="662.0" width="4.4" height="4.4" fill="#111"/>
<rect x="139.1" y="662.0" width="4.4" height="4.4" fill="#111"/>
<rect x="143.1" y="662.7" width="4.4" height="4.4" fill="#111"/>
<rect x="126.6" y="666.7" width="4.4" height="4.4" fill="#111"/>
<rect x="130.7" y="667.2" width="4.4" height="4.4" fill="#111"/>
<rect x="133.6" y="666.7" width="4.4" height="4.4" fill="#111"/>
<rect x="137.6" y="666.3" width="4.4" height="4.4" fill="#111"/>
<rect x="129.1" y="670.3" width="4.4" height="4.4" fill="#111"/>
<rect x="132.8" y="670.0" width="4.4" height="4.4" fill="#111"/>
<path d="M129.0 657.8L132.0 663.2L126.0 663.2Z" fill="#1a1511"/>
<path d="M126.0 662.8L129.0 668.2L123.0 668.2Z" fill="#1a1511"/>
<path d="M133.0 663.8L136.0 669.2L130.0 669.2Z" fill="#1a1511"/>
<path d="M139.0 663.8L142.0 669.2L136.0 669.2Z" fill="#1a1511"/>
<path d="M143.0 663.8L146.0 669.2L140.0 669.2Z" fill="#1a1511"/>
<circle cx="82.3" cy="587.7" r="2.2" fill="#1a1511"/>
<path d="M82.3 594.1L85.2 599.4L79.4 599.4Z" fill="#1a1511"/>
<rect x="80.2" y="604.8" width="4.2" height="4.2" fill="#1a1511"/>
<path d="M79.3 616.5H85.3M82.3 613.5V619.5" stroke="#1a1511" stroke-width="1.1"/>
<rect x="80.2" y="623.6" width="4.2" height="4.2" fill="none" stroke="#111" stroke-width="0.9"/>
<path d="M80.2 623.6L84.4 627.8M84.4 623.6L80.2 627.8" stroke="#111" stroke-width="0.9"/>
<text x="91.2" y="590.1" font-size="6.6" fill="#111" text-anchor="start" font-weight="normal" stroke="#111" stroke-width="0.22" >GSDMA</text>
<text x="91.2" y="599.3" font-size="6.6" fill="#111" text-anchor="start" font-weight="normal" stroke="#111" stroke-width="0.22" >GSDMB</text>
<text x="91.2" y="609.3" font-size="6.6" fill="#111" text-anchor="start" font-weight="normal" stroke="#111" stroke-width="0.22" >IKZF3</text>
<text x="91.2" y="618.9" font-size="6.6" fill="#111" text-anchor="start" font-weight="normal" stroke="#111" stroke-width="0.22" >ORMDL3</text>
<text x="91.2" y="628.1" font-size="6.6" fill="#111" text-anchor="start" font-weight="normal" stroke="#111" stroke-width="0.22" >PGAP3</text>
<circle cx="223.8" cy="537.5" r="2.2" fill="#1a1511"/>
<circle cx="226.2" cy="538.0" r="2.2" fill="#1a1511"/>
<circle cx="228.8" cy="540.0" r="2.2" fill="#1a1511"/>
<circle cx="230.0" cy="544.5" r="2.2" fill="#1a1511"/>
<circle cx="236.2" cy="537.5" r="2.2" fill="#1a1511"/>
<circle cx="237.5" cy="540.0" r="2.2" fill="#1a1511"/>
<circle cx="238.8" cy="543.8" r="2.2" fill="#1a1511"/>
<circle cx="245.0" cy="538.8" r="2.2" fill="#1a1511"/>
<circle cx="251.2" cy="538.8" r="2.2" fill="#1a1511"/>
<circle cx="256.2" cy="538.8" r="2.2" fill="#1a1511"/>
<circle cx="260.0" cy="538.8" r="2.2" fill="#1a1511"/>
<circle cx="263.8" cy="538.8" r="2.2" fill="#1a1511"/>
<circle cx="266.2" cy="538.8" r="2.2" fill="#1a1511"/>
<circle cx="258.8" cy="541.2" r="2.2" fill="#1a1511"/>
<circle cx="261.2" cy="542.5" r="2.2" fill="#1a1511"/>
<circle cx="273.8" cy="528.8" r="2.2" fill="#1a1511"/>
<circle cx="275.0" cy="531.2" r="2.2" fill="#1a1511"/>
<circle cx="278.8" cy="529.5" r="2.2" fill="#1a1511"/>
<circle cx="285.0" cy="528.0" r="2.2" fill="#1a1511"/>
<circle cx="287.5" cy="528.8" r="2.2" fill="#1a1511"/>
<circle cx="287.5" cy="531.0" r="2.2" fill="#1a1511"/>
<circle cx="285.0" cy="537.5" r="2.2" fill="#1a1511"/>
<circle cx="308.8" cy="532.5" r="2.2" fill="#1a1511"/>
<circle cx="326.2" cy="542.5" r="2.2" fill="#1a1511"/>
<circle cx="331.2" cy="538.8" r="2.2" fill="#1a1511"/>
<path d="M264.5 540.8L267.5 546.2L261.5 546.2Z" fill="#1a1511"/>
<circle cx="226.2" cy="643.8" r="2.2" fill="#1a1511"/>
<circle cx="223.8" cy="661.2" r="2.2" fill="#1a1511"/>
<circle cx="228.8" cy="661.2" r="2.2" fill="#1a1511"/>
<circle cx="240.0" cy="661.2" r="2.2" fill="#1a1511"/>
<circle cx="248.8" cy="661.2" r="2.2" fill="#1a1511"/>
<circle cx="243.8" cy="652.5" r="2.2" fill="#1a1511"/>
<circle cx="263.8" cy="653.0" r="2.2" fill="#1a1511"/>
<circle cx="263.8" cy="661.2" r="2.2" fill="#1a1511"/>
<circle cx="267.5" cy="661.2" r="2.2" fill="#1a1511"/>
<circle cx="268.8" cy="649.5" r="2.2" fill="#1a1511"/>
<circle cx="272.0" cy="649.0" r="2.2" fill="#1a1511"/>
<circle cx="275.0" cy="649.5" r="2.2" fill="#1a1511"/>
<circle cx="278.0" cy="650.0" r="2.2" fill="#1a1511"/>
<circle cx="283.8" cy="650.5" r="2.2" fill="#1a1511"/>
<circle cx="287.5" cy="649.5" r="2.2" fill="#1a1511"/>
<circle cx="291.2" cy="648.0" r="2.2" fill="#1a1511"/>
<circle cx="273.8" cy="645.5" r="2.2" fill="#1a1511"/>
<circle cx="273.8" cy="661.2" r="2.2" fill="#1a1511"/>
<circle cx="277.5" cy="661.2" r="2.2" fill="#1a1511"/>
<circle cx="271.2" cy="668.8" r="2.2" fill="#1a1511"/>
<circle cx="287.5" cy="660.0" r="2.2" fill="#1a1511"/>
<circle cx="292.5" cy="660.0" r="2.2" fill="#1a1511"/>
<circle cx="296.2" cy="659.5" r="2.2" fill="#1a1511"/>
<circle cx="300.0" cy="658.8" r="2.2" fill="#1a1511"/>
<circle cx="291.2" cy="655.0" r="2.2" fill="#1a1511"/>
<circle cx="297.5" cy="655.0" r="2.2" fill="#1a1511"/>
<circle cx="298.8" cy="642.0" r="2.2" fill="#1a1511"/>
<circle cx="298.8" cy="663.8" r="2.2" fill="#1a1511"/>
<circle cx="303.8" cy="656.2" r="2.2" fill="#1a1511"/>
<circle cx="308.8" cy="656.2" r="2.2" fill="#1a1511"/>
<circle cx="313.8" cy="656.2" r="2.2" fill="#1a1511"/>
<circle cx="323.8" cy="667.0" r="2.2" fill="#1a1511"/>
<circle cx="326.2" cy="651.2" r="2.2" fill="#1a1511"/>
<circle cx="330.0" cy="647.5" r="2.2" fill="#1a1511"/>
<circle cx="328.8" cy="652.5" r="2.2" fill="#1a1511"/>
<circle cx="285.0" cy="669.0" r="2.2" fill="#e01b22"/>
<circle cx="288.8" cy="670.0" r="2.2" fill="#e01b22"/>
<circle cx="292.5" cy="670.5" r="2.2" fill="#e01b22"/>
<circle cx="296.2" cy="670.5" r="2.2" fill="#e01b22"/>
<circle cx="265.0" cy="597.7" r="2.2" fill="#1a1511"/>
<path d="M265.0 604.1L267.9 609.4L262.1 609.4Z" fill="#1a1511"/>
<text x="273.6" y="600.6" font-size="6.6" fill="#111" text-anchor="start" font-weight="normal" stroke="#111" stroke-width="0.22" >CTSH</text>
<text x="274.2" y="609.9" font-size="6.6" fill="#111" text-anchor="start" font-weight="normal" stroke="#111" stroke-width="0.22" >IREB2</text>
<circle cx="443.3" cy="601.9" r="2.2" fill="#1a1511"/>
<text x="452" y="604.3" font-size="6.6" fill="#111" text-anchor="start" font-weight="normal" stroke="#111" stroke-width="0.22" >THEMIS</text>
<defs><linearGradient id="ld" x1="0" y1="0" x2="0" y2="1"><stop offset="0" stop-color="#e3201c"/><stop offset="0.25" stop-color="#f0561e"/><stop offset="0.45" stop-color="#f59a2a"/><stop offset="0.58" stop-color="#e8aa30"/><stop offset="0.72" stop-color="#8a6416"/><stop offset="0.86" stop-color="#2e200c"/><stop offset="1" stop-color="#000"/></linearGradient></defs>
<rect x="406.2" y="15.6" width="4.6" height="46.699999999999996" fill="url(#ld)"/>
<text x="406.5" y="4.8" font-size="6.7" fill="#111" text-anchor="start" font-weight="normal" stroke="#111" stroke-width="0.22" >LD with top</text>
<text x="408" y="12.2" font-size="6.7" fill="#111" text-anchor="start" font-weight="normal" stroke="#111" stroke-width="0.22" >eQTL</text>
<text x="414.2" y="20.099999999999998" font-size="6.7" fill="#111" text-anchor="start" font-weight="normal" stroke="#111" stroke-width="0.22" >1.00</text>
<text x="414.2" y="31.15" font-size="6.7" fill="#111" text-anchor="start" font-weight="normal" stroke="#111" stroke-width="0.22" >0.75</text>
<text x="414.2" y="42.199999999999996" font-size="6.7" fill="#111" text-anchor="start" font-weight="normal" stroke="#111" stroke-width="0.22" >0.50</text>
<text x="414.2" y="53.25000000000001" font-size="6.7" fill="#111" text-anchor="start" font-weight="normal" stroke="#111" stroke-width="0.22" >0.25</text>
<rect x="406.2" y="157" width="4.6" height="46.80000000000001" fill="url(#ld)"/>
<text x="406.5" y="145.8" font-size="6.7" fill="#111" text-anchor="start" font-weight="normal" stroke="#111" stroke-width="0.22" >LD with top</text>
<text x="408" y="153.2" font-size="6.7" fill="#111" text-anchor="start" font-weight="normal" stroke="#111" stroke-width="0.22" >eQTL</text>
<text x="414.2" y="161.15" font-size="6.7" fill="#111" text-anchor="start" font-weight="normal" stroke="#111" stroke-width="0.22" >1.00</text>
<text x="414.2" y="172.35" font-size="6.7" fill="#111" text-anchor="start" font-weight="normal" stroke="#111" stroke-width="0.22" >0.75</text>
<text x="414.2" y="183.55" font-size="6.7" fill="#111" text-anchor="start" font-weight="normal" stroke="#111" stroke-width="0.22" >0.50</text>
<text x="414.2" y="194.75" font-size="6.7" fill="#111" text-anchor="start" font-weight="normal" stroke="#111" stroke-width="0.22" >0.25</text>
<rect x="156.7" y="0" width="12" height="283" fill="#fff"/>
</svg></body></html>
